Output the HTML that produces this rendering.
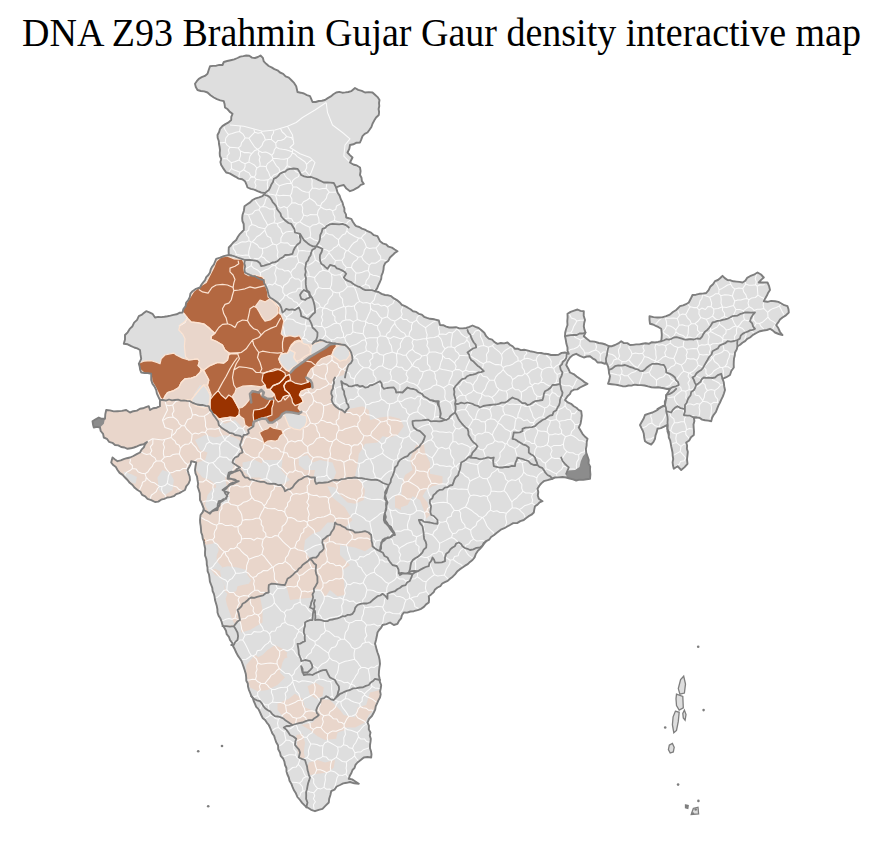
<!DOCTYPE html>
<html><head><meta charset="utf-8"><title>DNA Z93 Brahmin Gujar Gaur density interactive map</title>
<style>
html,body{margin:0;padding:0;background:#fff;}
body{width:884px;height:841px;position:relative;overflow:hidden;font-family:"Liberation Serif",serif;}
#t{position:absolute;left:0;top:11px;width:883px;text-align:center;font-size:38px;line-height:44px;color:#000;white-space:nowrap;transform:scaleY(1.03);transform-origin:0 34.5px;}
</style></head><body>
<svg width="884" height="841" viewBox="0 0 884 841" style="position:absolute;left:0;top:0"><defs><clipPath id="c"><path d="M195.0,83.8 196.8,81.2 198.8,78.8 201.7,77.2 204.9,75.9 207.5,73.8 208.7,70.0 210.0,66.2 213.1,65.9 216.3,65.7 219.3,64.9 222.5,65.0 223.8,62.0 227.2,61.0 230.7,60.2 234.2,59.4 237.5,58.0 240.3,56.6 243.3,56.1 246.2,55.5 249.3,55.8 252.0,57.6 255.0,58.0 257.9,57.0 260.5,55.5 262.9,57.9 263.8,61.4 266.2,63.8 268.7,66.0 271.6,67.4 274.4,69.1 277.5,70.3 280.0,72.5 283.2,73.8 285.6,76.3 288.8,77.6 291.2,80.0 294.1,82.9 296.2,86.2 297.5,92.0 300.7,92.7 304.0,93.5 306.9,95.1 310.0,96.2 311.3,99.1 312.5,102.0 315.7,102.0 318.8,101.0 321.9,100.7 325.0,100.0 327.8,98.1 330.8,96.4 333.4,94.3 336.2,92.5 339.2,91.9 342.3,92.7 345.3,92.4 348.3,92.0 351.2,91.2 355.0,88.0 358.2,89.8 361.8,90.8 365.0,92.5 368.8,92.1 372.5,92.5 375.0,94.8 377.6,97.1 379.5,100.0 379.0,103.0 379.3,106.0 378.6,109.0 379.1,112.0 378.8,115.0 376.1,117.5 374.2,120.6 372.5,123.8 371.4,127.0 369.5,129.8 367.5,132.5 364.7,133.9 362.5,136.2 361.3,139.4 360.0,142.5 356.5,142.7 353.4,144.3 350.0,145.0 349.3,148.9 347.5,152.5 349.9,155.1 352.5,157.5 350.0,162.5 353.2,164.5 356.8,165.5 360.0,167.5 360.6,171.2 360.0,175.0 361.5,177.8 361.9,181.1 363.8,183.8 360.8,184.9 358.5,187.2 355.7,188.6 353.0,190.2 350.0,191.2 346.4,188.6 343.8,185.0 339.9,185.9 336.2,187.5 337.5,192.5 339.6,195.6 340.8,199.2 342.5,202.5 343.3,205.5 344.4,208.4 344.4,211.6 346.0,214.4 346.2,217.5 351.2,218.8 353.0,222.0 355.0,225.0 356.2,226.2 359.3,227.0 361.9,228.6 364.9,229.6 367.5,231.2 371.0,232.6 373.9,235.2 377.5,236.2 380.0,241.2 382.7,243.3 386.0,244.3 388.5,246.7 391.9,247.6 394.7,249.5 397.5,251.2 394.7,253.0 392.4,255.3 390.0,257.5 388.4,260.7 385.3,262.9 383.8,266.2 383.5,269.5 382.8,272.6 381.5,275.6 381.2,278.8 379.9,282.0 378.4,285.1 377.1,288.4 375.0,291.2 378.5,292.0 381.6,293.9 385.0,295.0 388.2,295.3 391.2,296.2 393.9,298.4 396.9,300.1 399.5,302.2 401.9,304.8 405.0,306.2 407.8,307.7 410.5,309.3 413.0,311.2 416.2,311.9 418.8,313.8 421.8,314.6 424.1,316.8 427.0,317.9 430.0,318.8 434.4,319.3 438.8,320.5 440.0,325.0 443.2,325.2 446.2,326.6 449.3,327.5 452.5,327.5 456.0,327.2 459.4,328.4 462.8,328.4 466.2,328.0 469.4,326.9 472.5,325.5 475.5,326.9 478.6,328.0 481.2,330.0 484.3,332.7 486.2,336.2 488.7,338.7 492.1,339.7 494.5,342.1 497.5,343.8 500.8,343.0 504.2,343.4 507.5,342.5 509.9,344.7 512.7,346.4 515.0,348.8 518.1,348.8 520.9,350.1 524.1,349.7 527.1,350.4 530.0,351.2 533.7,351.9 537.4,352.9 541.2,353.0 544.5,353.8 547.8,354.0 551.0,355.0 555.0,355.0 558.5,354.7 561.6,352.9 565.0,352.5 568.8,353.8 567.5,350.8 567.5,347.5 566.4,343.8 565.8,340.0 565.0,336.2 565.2,332.4 566.2,328.7 567.5,325.0 567.3,321.2 567.6,317.5 567.5,313.8 570.6,311.9 574.1,310.7 577.5,309.5 580.5,310.9 583.8,311.2 583.7,315.7 585.0,320.0 584.2,323.1 583.8,326.2 584.4,329.4 585.5,332.5 583.8,336.2 586.8,338.8 590.0,341.2 594.5,341.6 598.8,343.0 602.3,343.5 605.6,344.5 608.8,346.2 612.0,346.2 615.0,345.0 618.3,343.4 621.2,341.2 623.9,343.1 627.3,343.1 630.0,345.0 633.1,344.9 636.2,344.4 639.4,344.4 642.5,343.8 645.6,343.2 648.8,343.8 651.8,342.2 655.0,342.5 658.1,341.9 661.2,341.2 661.2,341.2 661.6,338.1 661.8,335.0 661.6,331.9 661.2,328.8 658.6,327.2 655.8,325.9 653.0,324.5 650.0,323.8 649.5,320.0 649.5,316.2 653.5,317.1 657.5,317.5 662.0,317.4 666.2,316.2 669.9,314.6 672.9,312.0 676.2,310.0 680.0,306.2 683.1,305.4 686.0,304.2 688.8,302.5 690.7,298.8 692.5,295.0 696.0,294.7 699.4,293.8 702.8,293.6 706.2,293.0 708.6,290.2 710.2,286.8 713.0,284.3 715.0,281.2 717.9,280.0 720.3,278.0 722.5,275.8 724.8,278.1 727.5,280.0 730.5,280.3 733.4,281.3 736.5,281.6 739.5,281.9 742.5,282.5 745.3,280.8 747.1,277.9 750.0,276.2 753.9,274.7 757.5,272.5 761.0,274.5 763.8,277.5 761.1,279.9 758.8,282.5 763.1,282.5 767.5,282.5 769.1,286.1 770.0,290.0 768.2,292.7 766.9,295.6 765.2,298.4 763.8,301.2 767.5,301.8 771.2,300.9 775.0,301.2 778.4,301.9 781.4,303.5 784.3,305.2 787.5,306.2 788.5,309.3 788.8,312.5 785.9,315.4 782.5,317.5 780.0,319.6 778.2,322.4 776.2,325.0 778.4,328.3 780.0,332.0 782.5,335.0 778.7,334.0 775.0,332.5 772.6,330.4 770.0,328.8 766.8,330.0 763.4,330.5 760.0,331.2 756.4,333.0 753.0,334.9 750.0,337.5 747.2,338.8 745.1,341.1 742.4,342.7 740.1,344.7 737.5,346.2 736.7,349.6 735.0,352.5 734.8,355.5 734.0,358.5 733.8,361.5 733.7,364.5 733.8,367.5 731.3,371.0 730.0,375.0 726.4,377.2 722.5,378.8 723.8,382.4 724.2,386.2 725.0,390.0 724.0,393.2 722.9,396.4 721.4,399.4 720.0,402.5 718.4,405.6 717.1,408.8 715.9,412.0 713.7,414.8 712.1,417.8 711.2,421.2 708.2,420.6 705.1,420.3 702.1,419.6 699.4,417.7 696.2,417.5 693.8,417.5 694.4,421.0 693.5,424.5 693.7,428.0 694.0,431.5 693.8,435.0 691.0,437.2 689.2,440.5 686.2,442.5 687.1,445.6 686.9,448.7 687.8,451.8 687.5,455.0 687.0,459.4 687.5,463.8 684.6,467.1 681.2,470.0 677.5,466.2 673.8,468.8 673.0,465.5 672.6,462.3 673.2,459.0 672.7,455.8 672.5,452.5 671.9,449.5 671.2,446.4 670.7,443.4 670.1,440.3 668.8,437.5 668.6,434.3 667.5,431.3 667.4,428.1 667.0,425.0 664.0,426.7 660.9,428.1 657.5,428.8 656.7,432.1 655.5,435.3 655.0,438.8 653.5,441.9 651.2,444.5 648.0,443.2 645.0,441.2 644.2,437.5 643.8,433.8 642.8,430.7 641.3,427.9 640.0,425.0 641.8,421.7 643.7,418.5 645.0,415.0 648.7,413.6 652.5,412.5 655.2,411.2 657.8,409.6 660.0,407.5 665.0,405.0 664.8,401.6 666.4,398.4 666.2,395.0 668.4,392.0 670.0,388.8 667.0,389.0 664.0,388.3 661.0,387.8 658.0,387.2 655.0,387.5 651.5,387.2 648.0,386.4 644.6,385.5 641.1,385.1 637.5,385.0 634.4,384.6 631.5,385.6 628.5,385.5 625.5,386.4 622.5,386.2 618.9,385.3 615.3,384.6 611.7,384.2 608.0,383.8 609.3,380.1 610.0,376.2 609.0,373.2 608.8,370.0 608.0,366.1 606.2,362.5 605.0,363.8 601.4,362.5 597.5,362.5 595.4,359.9 592.5,358.3 590.0,356.2 586.8,356.5 583.8,357.5 579.9,355.8 576.2,353.8 572.8,355.1 570.0,357.5 567.7,361.0 566.2,365.0 568.3,368.7 570.0,372.5 573.6,374.1 576.7,376.6 580.0,378.8 582.5,380.5 584.8,382.4 587.5,383.8 583.8,385.6 580.0,387.5 577.3,389.4 574.0,389.6 571.2,391.2 569.9,394.1 567.5,396.2 565.0,400.0 567.7,402.4 571.1,403.8 573.8,406.2 576.4,407.7 578.5,409.9 581.2,411.2 581.8,415.6 581.2,420.0 580.5,423.9 578.8,427.5 580.6,430.6 582.5,433.8 584.8,436.5 587.5,438.8 586.7,442.1 586.6,445.6 585.9,449.0 586.2,452.5 587.5,456.2 588.8,460.0 588.5,463.4 590.2,466.6 590.0,470.0 590.4,474.4 590.0,478.8 586.6,479.2 583.2,479.9 579.6,479.7 576.2,480.5 573.0,479.3 569.6,478.5 566.2,477.5 562.5,477.0 558.8,477.4 555.0,477.5 551.3,479.0 547.6,480.2 543.8,481.2 541.3,483.4 539.2,485.9 537.5,488.8 538.3,492.0 537.8,495.5 538.8,498.8 542.5,501.2 539.6,502.4 537.5,504.6 535.0,506.2 534.3,509.4 533.8,512.5 531.5,514.7 528.7,516.2 526.2,518.1 523.8,520.0 520.3,521.1 517.1,523.1 513.2,523.1 510.0,525.0 507.2,526.5 504.4,528.2 501.4,529.3 498.8,531.2 496.2,533.2 493.8,535.3 491.1,537.0 489.1,539.7 486.2,541.2 484.1,543.7 482.2,546.3 480.0,548.8 477.6,551.2 475.8,554.0 474.6,557.4 472.5,560.0 470.0,561.9 467.8,564.2 465.1,565.7 462.5,567.5 459.7,569.4 457.1,571.6 455.0,574.3 452.7,576.7 450.0,578.8 447.7,580.9 444.9,582.1 442.2,583.5 440.3,586.2 437.5,587.5 435.0,589.4 433.6,592.3 431.2,594.4 428.8,596.2 429.1,599.4 428.8,602.5 426.1,604.4 423.9,606.9 421.2,608.8 417.6,610.2 413.8,611.2 410.4,611.5 407.2,612.6 403.8,612.5 401.9,615.2 401.1,618.4 399.0,620.9 397.5,623.8 393.8,625.0 390.0,622.5 386.4,624.1 382.5,625.0 381.2,627.7 379.1,630.0 377.5,632.5 376.8,636.3 376.0,640.0 375.0,643.8 375.9,646.6 376.6,649.6 377.5,652.5 378.8,656.1 379.6,659.9 380.0,663.8 379.4,667.5 379.0,671.2 378.8,675.0 379.5,678.3 379.9,681.8 381.2,685.0 380.8,688.1 380.1,691.2 380.7,694.4 380.0,697.5 378.4,700.4 377.1,703.3 375.7,706.3 375.2,709.6 373.8,712.5 371.9,716.0 369.1,718.9 367.5,722.5 368.9,725.7 368.8,729.4 370.5,732.5 369.8,735.6 370.8,738.8 370.5,741.9 370.0,745.0 370.0,748.2 371.0,751.2 371.5,754.3 371.2,757.5 367.5,757.0 363.8,757.5 360.7,760.1 357.5,762.5 355.5,764.8 354.6,767.8 352.5,770.0 351.4,773.0 349.8,775.7 348.8,778.8 352.1,779.4 355.0,781.2 358.8,783.8 354.3,783.3 350.0,782.0 346.6,782.8 343.2,783.4 340.0,785.0 336.7,786.5 334.5,789.6 331.2,791.2 330.4,795.0 329.2,798.7 328.8,802.5 325.6,805.6 322.5,808.8 318.7,809.8 315.0,811.2 311.1,809.8 307.5,807.5 304.6,805.4 302.1,802.9 300.0,800.0 297.4,797.0 295.9,793.3 293.8,790.0 292.5,786.9 291.3,783.7 289.5,780.8 288.8,777.5 287.4,774.5 286.5,771.4 286.4,768.0 285.0,765.0 284.4,761.6 283.1,758.5 280.7,755.8 280.0,752.5 278.2,749.3 278.1,745.4 276.2,742.2 275.0,738.8 274.1,735.8 272.3,733.4 271.2,730.5 270.0,727.7 268.8,725.0 266.8,722.6 265.1,719.9 262.6,717.9 261.2,715.0 259.9,712.1 258.5,709.1 256.2,706.8 255.0,703.8 253.7,701.0 252.8,698.0 251.1,695.4 250.0,692.5 248.8,689.6 248.0,686.6 247.8,683.5 246.3,680.7 246.2,677.5 245.8,673.9 244.8,670.5 243.7,667.1 242.5,663.8 241.4,660.7 239.5,658.0 237.7,655.4 236.2,652.5 234.8,649.3 233.1,646.2 232.2,642.8 230.0,640.0 228.9,636.8 226.7,634.2 226.0,630.7 224.3,627.8 222.5,625.0 221.6,621.7 220.4,618.6 218.6,615.7 217.5,612.5 217.4,609.3 216.8,606.1 215.9,603.1 215.0,600.0 214.6,596.9 213.9,593.9 212.6,591.0 212.3,587.9 211.2,585.0 209.9,581.6 209.5,578.0 209.0,574.5 207.6,571.1 207.5,567.5 206.8,564.5 206.7,561.5 206.2,558.5 205.1,555.6 205.0,552.5 205.2,548.7 204.4,545.0 203.8,541.2 202.7,538.4 202.3,535.4 201.2,532.5 201.0,529.4 200.7,526.2 200.2,523.1 200.0,520.0 200.5,515.0 202.7,512.2 203.8,508.8 202.7,505.8 201.5,502.8 200.0,500.0 199.9,496.6 199.8,493.2 198.8,490.0 197.7,486.7 198.1,483.3 197.5,480.0 197.0,476.6 195.5,473.4 195.0,470.0 195.5,466.2 196.2,462.5 191.2,461.2 190.6,464.4 189.1,467.3 187.5,470.0 188.5,473.3 189.7,476.5 190.0,480.0 188.6,483.5 186.2,486.4 185.0,490.0 182.2,491.5 179.4,493.1 176.2,494.1 173.8,496.2 170.6,497.1 167.3,497.5 164.3,498.9 161.1,499.7 158.3,501.6 155.0,502.0 151.3,500.2 147.5,498.8 145.2,496.3 142.1,494.9 140.4,491.7 137.5,490.0 134.7,487.8 132.5,485.0 129.7,482.8 127.5,480.0 125.0,477.5 122.6,474.9 119.6,472.9 117.5,470.0 115.9,467.1 113.2,465.1 111.2,462.5 112.5,457.5 115.0,459.4 117.5,461.2 120.7,460.4 123.7,459.2 126.8,458.2 130.0,457.5 133.4,456.0 136.7,454.2 140.0,452.5 141.5,449.7 143.8,447.4 145.0,444.5 147.0,442.0 143.8,444.1 140.0,445.0 137.0,446.3 133.9,447.5 130.8,448.3 127.5,448.8 124.5,447.5 121.2,447.0 118.3,445.4 115.0,445.0 112.4,442.8 109.0,441.8 106.9,438.8 103.8,437.5 103.1,433.9 100.7,431.0 100.0,427.5 96.9,426.9 93.8,427.5 93.0,424.4 92.5,421.2 95.6,419.3 98.8,417.5 101.7,418.8 105.0,418.8 105.3,414.3 106.2,410.0 110.0,410.4 113.7,411.4 117.5,411.2 121.9,410.9 126.2,410.0 130.0,412.5 133.3,411.2 136.9,410.6 140.0,408.8 143.0,408.3 145.9,407.2 148.8,406.2 150.0,410.0 153.1,408.2 156.7,407.7 160.0,406.2 159.9,403.1 160.0,400.0 158.4,396.8 156.9,393.6 156.2,390.0 154.6,386.6 152.4,383.6 151.2,380.0 151.2,376.9 151.2,373.8 147.9,373.1 144.6,373.0 141.2,372.5 140.1,369.7 139.7,366.6 138.8,363.8 141.2,358.8 140.5,354.4 140.0,350.0 137.2,348.4 134.2,347.5 131.2,346.2 127.7,344.3 123.8,343.8 125.0,339.5 125.0,335.0 127.7,332.3 129.7,328.9 132.5,326.2 134.1,322.6 137.1,319.9 138.8,316.2 141.5,314.9 143.8,313.1 146.2,311.2 149.4,312.3 152.5,313.8 155.0,317.5 158.1,316.9 161.3,317.1 164.4,316.7 167.5,316.2 170.5,315.6 173.5,314.9 176.6,314.3 179.4,312.8 182.5,312.5 183.4,309.0 185.6,306.1 186.2,302.5 188.3,300.0 189.8,297.1 190.4,293.7 192.5,291.2 196.0,288.8 200.0,287.5 201.4,284.8 203.2,282.4 205.1,280.1 206.2,277.2 208.4,275.0 210.0,272.5 210.7,269.5 212.0,266.8 214.0,264.4 215.1,261.5 216.2,258.8 220.1,257.7 223.8,256.2 228.8,255.0 228.6,251.2 228.8,247.5 231.2,245.0 233.5,242.2 236.2,240.0 237.9,236.8 240.0,233.8 243.8,230.0 243.8,227.0 243.7,224.0 242.4,221.0 242.2,218.0 242.5,215.0 243.9,210.7 244.5,206.2 247.3,204.3 250.1,202.4 252.5,200.0 255.7,198.4 259.1,197.4 262.5,196.2 265.0,193.0 261.2,192.5 257.5,191.2 254.3,189.6 250.8,188.9 247.5,187.5 246.4,184.3 245.0,181.2 242.2,179.2 238.6,178.6 235.7,176.8 232.6,175.1 229.6,173.4 226.2,172.5 224.5,170.1 222.8,167.6 221.2,165.0 220.4,162.0 221.3,159.0 219.9,156.0 219.7,153.0 220.0,150.0 219.6,147.0 219.0,144.0 218.8,141.0 217.7,138.0 217.5,135.0 219.1,132.0 220.0,128.8 222.4,126.1 225.4,124.1 228.6,122.4 231.2,120.0 231.3,116.8 232.5,113.8 229.8,111.9 227.7,109.3 225.0,107.5 224.6,104.3 223.8,101.2 220.3,100.3 216.9,99.2 213.8,97.5 210.5,95.2 207.5,92.5 204.2,91.4 200.8,91.0 197.5,90.0 195.8,87.1Z"/></clipPath></defs><path d="M195.0,83.8 196.8,81.2 198.8,78.8 201.7,77.2 204.9,75.9 207.5,73.8 208.7,70.0 210.0,66.2 213.1,65.9 216.3,65.7 219.3,64.9 222.5,65.0 223.8,62.0 227.2,61.0 230.7,60.2 234.2,59.4 237.5,58.0 240.3,56.6 243.3,56.1 246.2,55.5 249.3,55.8 252.0,57.6 255.0,58.0 257.9,57.0 260.5,55.5 262.9,57.9 263.8,61.4 266.2,63.8 268.7,66.0 271.6,67.4 274.4,69.1 277.5,70.3 280.0,72.5 283.2,73.8 285.6,76.3 288.8,77.6 291.2,80.0 294.1,82.9 296.2,86.2 297.5,92.0 300.7,92.7 304.0,93.5 306.9,95.1 310.0,96.2 311.3,99.1 312.5,102.0 315.7,102.0 318.8,101.0 321.9,100.7 325.0,100.0 327.8,98.1 330.8,96.4 333.4,94.3 336.2,92.5 339.2,91.9 342.3,92.7 345.3,92.4 348.3,92.0 351.2,91.2 355.0,88.0 358.2,89.8 361.8,90.8 365.0,92.5 368.8,92.1 372.5,92.5 375.0,94.8 377.6,97.1 379.5,100.0 379.0,103.0 379.3,106.0 378.6,109.0 379.1,112.0 378.8,115.0 376.1,117.5 374.2,120.6 372.5,123.8 371.4,127.0 369.5,129.8 367.5,132.5 364.7,133.9 362.5,136.2 361.3,139.4 360.0,142.5 356.5,142.7 353.4,144.3 350.0,145.0 349.3,148.9 347.5,152.5 349.9,155.1 352.5,157.5 350.0,162.5 353.2,164.5 356.8,165.5 360.0,167.5 360.6,171.2 360.0,175.0 361.5,177.8 361.9,181.1 363.8,183.8 360.8,184.9 358.5,187.2 355.7,188.6 353.0,190.2 350.0,191.2 346.4,188.6 343.8,185.0 339.9,185.9 336.2,187.5 337.5,192.5 339.6,195.6 340.8,199.2 342.5,202.5 343.3,205.5 344.4,208.4 344.4,211.6 346.0,214.4 346.2,217.5 351.2,218.8 353.0,222.0 355.0,225.0 356.2,226.2 359.3,227.0 361.9,228.6 364.9,229.6 367.5,231.2 371.0,232.6 373.9,235.2 377.5,236.2 380.0,241.2 382.7,243.3 386.0,244.3 388.5,246.7 391.9,247.6 394.7,249.5 397.5,251.2 394.7,253.0 392.4,255.3 390.0,257.5 388.4,260.7 385.3,262.9 383.8,266.2 383.5,269.5 382.8,272.6 381.5,275.6 381.2,278.8 379.9,282.0 378.4,285.1 377.1,288.4 375.0,291.2 378.5,292.0 381.6,293.9 385.0,295.0 388.2,295.3 391.2,296.2 393.9,298.4 396.9,300.1 399.5,302.2 401.9,304.8 405.0,306.2 407.8,307.7 410.5,309.3 413.0,311.2 416.2,311.9 418.8,313.8 421.8,314.6 424.1,316.8 427.0,317.9 430.0,318.8 434.4,319.3 438.8,320.5 440.0,325.0 443.2,325.2 446.2,326.6 449.3,327.5 452.5,327.5 456.0,327.2 459.4,328.4 462.8,328.4 466.2,328.0 469.4,326.9 472.5,325.5 475.5,326.9 478.6,328.0 481.2,330.0 484.3,332.7 486.2,336.2 488.7,338.7 492.1,339.7 494.5,342.1 497.5,343.8 500.8,343.0 504.2,343.4 507.5,342.5 509.9,344.7 512.7,346.4 515.0,348.8 518.1,348.8 520.9,350.1 524.1,349.7 527.1,350.4 530.0,351.2 533.7,351.9 537.4,352.9 541.2,353.0 544.5,353.8 547.8,354.0 551.0,355.0 555.0,355.0 558.5,354.7 561.6,352.9 565.0,352.5 568.8,353.8 567.5,350.8 567.5,347.5 566.4,343.8 565.8,340.0 565.0,336.2 565.2,332.4 566.2,328.7 567.5,325.0 567.3,321.2 567.6,317.5 567.5,313.8 570.6,311.9 574.1,310.7 577.5,309.5 580.5,310.9 583.8,311.2 583.7,315.7 585.0,320.0 584.2,323.1 583.8,326.2 584.4,329.4 585.5,332.5 583.8,336.2 586.8,338.8 590.0,341.2 594.5,341.6 598.8,343.0 602.3,343.5 605.6,344.5 608.8,346.2 612.0,346.2 615.0,345.0 618.3,343.4 621.2,341.2 623.9,343.1 627.3,343.1 630.0,345.0 633.1,344.9 636.2,344.4 639.4,344.4 642.5,343.8 645.6,343.2 648.8,343.8 651.8,342.2 655.0,342.5 658.1,341.9 661.2,341.2 661.2,341.2 661.6,338.1 661.8,335.0 661.6,331.9 661.2,328.8 658.6,327.2 655.8,325.9 653.0,324.5 650.0,323.8 649.5,320.0 649.5,316.2 653.5,317.1 657.5,317.5 662.0,317.4 666.2,316.2 669.9,314.6 672.9,312.0 676.2,310.0 680.0,306.2 683.1,305.4 686.0,304.2 688.8,302.5 690.7,298.8 692.5,295.0 696.0,294.7 699.4,293.8 702.8,293.6 706.2,293.0 708.6,290.2 710.2,286.8 713.0,284.3 715.0,281.2 717.9,280.0 720.3,278.0 722.5,275.8 724.8,278.1 727.5,280.0 730.5,280.3 733.4,281.3 736.5,281.6 739.5,281.9 742.5,282.5 745.3,280.8 747.1,277.9 750.0,276.2 753.9,274.7 757.5,272.5 761.0,274.5 763.8,277.5 761.1,279.9 758.8,282.5 763.1,282.5 767.5,282.5 769.1,286.1 770.0,290.0 768.2,292.7 766.9,295.6 765.2,298.4 763.8,301.2 767.5,301.8 771.2,300.9 775.0,301.2 778.4,301.9 781.4,303.5 784.3,305.2 787.5,306.2 788.5,309.3 788.8,312.5 785.9,315.4 782.5,317.5 780.0,319.6 778.2,322.4 776.2,325.0 778.4,328.3 780.0,332.0 782.5,335.0 778.7,334.0 775.0,332.5 772.6,330.4 770.0,328.8 766.8,330.0 763.4,330.5 760.0,331.2 756.4,333.0 753.0,334.9 750.0,337.5 747.2,338.8 745.1,341.1 742.4,342.7 740.1,344.7 737.5,346.2 736.7,349.6 735.0,352.5 734.8,355.5 734.0,358.5 733.8,361.5 733.7,364.5 733.8,367.5 731.3,371.0 730.0,375.0 726.4,377.2 722.5,378.8 723.8,382.4 724.2,386.2 725.0,390.0 724.0,393.2 722.9,396.4 721.4,399.4 720.0,402.5 718.4,405.6 717.1,408.8 715.9,412.0 713.7,414.8 712.1,417.8 711.2,421.2 708.2,420.6 705.1,420.3 702.1,419.6 699.4,417.7 696.2,417.5 693.8,417.5 694.4,421.0 693.5,424.5 693.7,428.0 694.0,431.5 693.8,435.0 691.0,437.2 689.2,440.5 686.2,442.5 687.1,445.6 686.9,448.7 687.8,451.8 687.5,455.0 687.0,459.4 687.5,463.8 684.6,467.1 681.2,470.0 677.5,466.2 673.8,468.8 673.0,465.5 672.6,462.3 673.2,459.0 672.7,455.8 672.5,452.5 671.9,449.5 671.2,446.4 670.7,443.4 670.1,440.3 668.8,437.5 668.6,434.3 667.5,431.3 667.4,428.1 667.0,425.0 664.0,426.7 660.9,428.1 657.5,428.8 656.7,432.1 655.5,435.3 655.0,438.8 653.5,441.9 651.2,444.5 648.0,443.2 645.0,441.2 644.2,437.5 643.8,433.8 642.8,430.7 641.3,427.9 640.0,425.0 641.8,421.7 643.7,418.5 645.0,415.0 648.7,413.6 652.5,412.5 655.2,411.2 657.8,409.6 660.0,407.5 665.0,405.0 664.8,401.6 666.4,398.4 666.2,395.0 668.4,392.0 670.0,388.8 667.0,389.0 664.0,388.3 661.0,387.8 658.0,387.2 655.0,387.5 651.5,387.2 648.0,386.4 644.6,385.5 641.1,385.1 637.5,385.0 634.4,384.6 631.5,385.6 628.5,385.5 625.5,386.4 622.5,386.2 618.9,385.3 615.3,384.6 611.7,384.2 608.0,383.8 609.3,380.1 610.0,376.2 609.0,373.2 608.8,370.0 608.0,366.1 606.2,362.5 605.0,363.8 601.4,362.5 597.5,362.5 595.4,359.9 592.5,358.3 590.0,356.2 586.8,356.5 583.8,357.5 579.9,355.8 576.2,353.8 572.8,355.1 570.0,357.5 567.7,361.0 566.2,365.0 568.3,368.7 570.0,372.5 573.6,374.1 576.7,376.6 580.0,378.8 582.5,380.5 584.8,382.4 587.5,383.8 583.8,385.6 580.0,387.5 577.3,389.4 574.0,389.6 571.2,391.2 569.9,394.1 567.5,396.2 565.0,400.0 567.7,402.4 571.1,403.8 573.8,406.2 576.4,407.7 578.5,409.9 581.2,411.2 581.8,415.6 581.2,420.0 580.5,423.9 578.8,427.5 580.6,430.6 582.5,433.8 584.8,436.5 587.5,438.8 586.7,442.1 586.6,445.6 585.9,449.0 586.2,452.5 587.5,456.2 588.8,460.0 588.5,463.4 590.2,466.6 590.0,470.0 590.4,474.4 590.0,478.8 586.6,479.2 583.2,479.9 579.6,479.7 576.2,480.5 573.0,479.3 569.6,478.5 566.2,477.5 562.5,477.0 558.8,477.4 555.0,477.5 551.3,479.0 547.6,480.2 543.8,481.2 541.3,483.4 539.2,485.9 537.5,488.8 538.3,492.0 537.8,495.5 538.8,498.8 542.5,501.2 539.6,502.4 537.5,504.6 535.0,506.2 534.3,509.4 533.8,512.5 531.5,514.7 528.7,516.2 526.2,518.1 523.8,520.0 520.3,521.1 517.1,523.1 513.2,523.1 510.0,525.0 507.2,526.5 504.4,528.2 501.4,529.3 498.8,531.2 496.2,533.2 493.8,535.3 491.1,537.0 489.1,539.7 486.2,541.2 484.1,543.7 482.2,546.3 480.0,548.8 477.6,551.2 475.8,554.0 474.6,557.4 472.5,560.0 470.0,561.9 467.8,564.2 465.1,565.7 462.5,567.5 459.7,569.4 457.1,571.6 455.0,574.3 452.7,576.7 450.0,578.8 447.7,580.9 444.9,582.1 442.2,583.5 440.3,586.2 437.5,587.5 435.0,589.4 433.6,592.3 431.2,594.4 428.8,596.2 429.1,599.4 428.8,602.5 426.1,604.4 423.9,606.9 421.2,608.8 417.6,610.2 413.8,611.2 410.4,611.5 407.2,612.6 403.8,612.5 401.9,615.2 401.1,618.4 399.0,620.9 397.5,623.8 393.8,625.0 390.0,622.5 386.4,624.1 382.5,625.0 381.2,627.7 379.1,630.0 377.5,632.5 376.8,636.3 376.0,640.0 375.0,643.8 375.9,646.6 376.6,649.6 377.5,652.5 378.8,656.1 379.6,659.9 380.0,663.8 379.4,667.5 379.0,671.2 378.8,675.0 379.5,678.3 379.9,681.8 381.2,685.0 380.8,688.1 380.1,691.2 380.7,694.4 380.0,697.5 378.4,700.4 377.1,703.3 375.7,706.3 375.2,709.6 373.8,712.5 371.9,716.0 369.1,718.9 367.5,722.5 368.9,725.7 368.8,729.4 370.5,732.5 369.8,735.6 370.8,738.8 370.5,741.9 370.0,745.0 370.0,748.2 371.0,751.2 371.5,754.3 371.2,757.5 367.5,757.0 363.8,757.5 360.7,760.1 357.5,762.5 355.5,764.8 354.6,767.8 352.5,770.0 351.4,773.0 349.8,775.7 348.8,778.8 352.1,779.4 355.0,781.2 358.8,783.8 354.3,783.3 350.0,782.0 346.6,782.8 343.2,783.4 340.0,785.0 336.7,786.5 334.5,789.6 331.2,791.2 330.4,795.0 329.2,798.7 328.8,802.5 325.6,805.6 322.5,808.8 318.7,809.8 315.0,811.2 311.1,809.8 307.5,807.5 304.6,805.4 302.1,802.9 300.0,800.0 297.4,797.0 295.9,793.3 293.8,790.0 292.5,786.9 291.3,783.7 289.5,780.8 288.8,777.5 287.4,774.5 286.5,771.4 286.4,768.0 285.0,765.0 284.4,761.6 283.1,758.5 280.7,755.8 280.0,752.5 278.2,749.3 278.1,745.4 276.2,742.2 275.0,738.8 274.1,735.8 272.3,733.4 271.2,730.5 270.0,727.7 268.8,725.0 266.8,722.6 265.1,719.9 262.6,717.9 261.2,715.0 259.9,712.1 258.5,709.1 256.2,706.8 255.0,703.8 253.7,701.0 252.8,698.0 251.1,695.4 250.0,692.5 248.8,689.6 248.0,686.6 247.8,683.5 246.3,680.7 246.2,677.5 245.8,673.9 244.8,670.5 243.7,667.1 242.5,663.8 241.4,660.7 239.5,658.0 237.7,655.4 236.2,652.5 234.8,649.3 233.1,646.2 232.2,642.8 230.0,640.0 228.9,636.8 226.7,634.2 226.0,630.7 224.3,627.8 222.5,625.0 221.6,621.7 220.4,618.6 218.6,615.7 217.5,612.5 217.4,609.3 216.8,606.1 215.9,603.1 215.0,600.0 214.6,596.9 213.9,593.9 212.6,591.0 212.3,587.9 211.2,585.0 209.9,581.6 209.5,578.0 209.0,574.5 207.6,571.1 207.5,567.5 206.8,564.5 206.7,561.5 206.2,558.5 205.1,555.6 205.0,552.5 205.2,548.7 204.4,545.0 203.8,541.2 202.7,538.4 202.3,535.4 201.2,532.5 201.0,529.4 200.7,526.2 200.2,523.1 200.0,520.0 200.5,515.0 202.7,512.2 203.8,508.8 202.7,505.8 201.5,502.8 200.0,500.0 199.9,496.6 199.8,493.2 198.8,490.0 197.7,486.7 198.1,483.3 197.5,480.0 197.0,476.6 195.5,473.4 195.0,470.0 195.5,466.2 196.2,462.5 191.2,461.2 190.6,464.4 189.1,467.3 187.5,470.0 188.5,473.3 189.7,476.5 190.0,480.0 188.6,483.5 186.2,486.4 185.0,490.0 182.2,491.5 179.4,493.1 176.2,494.1 173.8,496.2 170.6,497.1 167.3,497.5 164.3,498.9 161.1,499.7 158.3,501.6 155.0,502.0 151.3,500.2 147.5,498.8 145.2,496.3 142.1,494.9 140.4,491.7 137.5,490.0 134.7,487.8 132.5,485.0 129.7,482.8 127.5,480.0 125.0,477.5 122.6,474.9 119.6,472.9 117.5,470.0 115.9,467.1 113.2,465.1 111.2,462.5 112.5,457.5 115.0,459.4 117.5,461.2 120.7,460.4 123.7,459.2 126.8,458.2 130.0,457.5 133.4,456.0 136.7,454.2 140.0,452.5 141.5,449.7 143.8,447.4 145.0,444.5 147.0,442.0 143.8,444.1 140.0,445.0 137.0,446.3 133.9,447.5 130.8,448.3 127.5,448.8 124.5,447.5 121.2,447.0 118.3,445.4 115.0,445.0 112.4,442.8 109.0,441.8 106.9,438.8 103.8,437.5 103.1,433.9 100.7,431.0 100.0,427.5 96.9,426.9 93.8,427.5 93.0,424.4 92.5,421.2 95.6,419.3 98.8,417.5 101.7,418.8 105.0,418.8 105.3,414.3 106.2,410.0 110.0,410.4 113.7,411.4 117.5,411.2 121.9,410.9 126.2,410.0 130.0,412.5 133.3,411.2 136.9,410.6 140.0,408.8 143.0,408.3 145.9,407.2 148.8,406.2 150.0,410.0 153.1,408.2 156.7,407.7 160.0,406.2 159.9,403.1 160.0,400.0 158.4,396.8 156.9,393.6 156.2,390.0 154.6,386.6 152.4,383.6 151.2,380.0 151.2,376.9 151.2,373.8 147.9,373.1 144.6,373.0 141.2,372.5 140.1,369.7 139.7,366.6 138.8,363.8 141.2,358.8 140.5,354.4 140.0,350.0 137.2,348.4 134.2,347.5 131.2,346.2 127.7,344.3 123.8,343.8 125.0,339.5 125.0,335.0 127.7,332.3 129.7,328.9 132.5,326.2 134.1,322.6 137.1,319.9 138.8,316.2 141.5,314.9 143.8,313.1 146.2,311.2 149.4,312.3 152.5,313.8 155.0,317.5 158.1,316.9 161.3,317.1 164.4,316.7 167.5,316.2 170.5,315.6 173.5,314.9 176.6,314.3 179.4,312.8 182.5,312.5 183.4,309.0 185.6,306.1 186.2,302.5 188.3,300.0 189.8,297.1 190.4,293.7 192.5,291.2 196.0,288.8 200.0,287.5 201.4,284.8 203.2,282.4 205.1,280.1 206.2,277.2 208.4,275.0 210.0,272.5 210.7,269.5 212.0,266.8 214.0,264.4 215.1,261.5 216.2,258.8 220.1,257.7 223.8,256.2 228.8,255.0 228.6,251.2 228.8,247.5 231.2,245.0 233.5,242.2 236.2,240.0 237.9,236.8 240.0,233.8 243.8,230.0 243.8,227.0 243.7,224.0 242.4,221.0 242.2,218.0 242.5,215.0 243.9,210.7 244.5,206.2 247.3,204.3 250.1,202.4 252.5,200.0 255.7,198.4 259.1,197.4 262.5,196.2 265.0,193.0 261.2,192.5 257.5,191.2 254.3,189.6 250.8,188.9 247.5,187.5 246.4,184.3 245.0,181.2 242.2,179.2 238.6,178.6 235.7,176.8 232.6,175.1 229.6,173.4 226.2,172.5 224.5,170.1 222.8,167.6 221.2,165.0 220.4,162.0 221.3,159.0 219.9,156.0 219.7,153.0 220.0,150.0 219.6,147.0 219.0,144.0 218.8,141.0 217.7,138.0 217.5,135.0 219.1,132.0 220.0,128.8 222.4,126.1 225.4,124.1 228.6,122.4 231.2,120.0 231.3,116.8 232.5,113.8 229.8,111.9 227.7,109.3 225.0,107.5 224.6,104.3 223.8,101.2 220.3,100.3 216.9,99.2 213.8,97.5 210.5,95.2 207.5,92.5 204.2,91.4 200.8,91.0 197.5,90.0 195.8,87.1Z" fill="#dedede"/><g clip-path="url(#c)"><path d="M222.5,626.2 233.8,626.2 240.0,620.0 241.2,632.5 250.0,630.0 262.5,622.5 262.5,610.0 260.0,596.2 268.8,592.5 268.8,585.0 275.0,583.8 285.0,585.0 287.5,590.0 290.0,600.0 300.0,598.8 312.5,597.5 313.8,588.8 320.0,590.0 325.0,597.5 330.0,590.0 337.5,596.2 345.0,595.0 343.8,577.5 342.5,570.0 350.0,565.0 340.0,555.0 340.0,545.0 355.0,547.5 365.0,551.2 372.5,546.2 371.2,535.0 365.0,531.2 355.0,532.5 345.0,527.5 352.5,520.0 345.0,507.5 332.5,497.5 327.5,486.2 335.0,487.5 340.0,495.0 347.5,502.5 355.0,503.8 363.8,500.0 365.0,490.0 360.0,480.0 355.0,477.5 355.0,476.2 357.5,465.0 358.8,453.8 362.5,448.8 365.0,443.8 377.5,442.5 382.5,436.2 390.0,437.5 397.5,435.0 403.8,426.2 400.0,418.8 390.0,416.2 380.0,417.5 370.0,420.0 368.8,410.0 362.5,406.2 350.0,408.8 345.0,412.5 338.8,408.8 332.5,402.5 331.2,393.8 333.8,385.0 335.0,377.5 343.8,375.0 346.2,367.5 352.5,357.5 350.0,347.5 340.0,342.5 330.0,342.5 320.0,340.0 312.5,343.8 305.0,343.8 297.5,340.0 288.8,347.5 230.0,395.0 208.8,382.5 206.2,375.0 200.0,371.2 191.2,377.5 181.2,380.0 176.2,388.8 167.5,393.8 163.8,398.8 160.0,400.0 60.0,395.0 60.0,640.0 215.0,640.0Z" fill="#e9d6cb"/><path d="M178.8,330.0 180.0,325.0 183.8,322.5 187.5,318.5 191.2,322.2 197.5,322.9 203.8,324.1 208.8,327.9 211.2,330.4 214.8,333.5 211.2,336.2 211.2,339.4 216.2,341.2 222.5,345.0 225.0,350.0 230.0,353.8 228.8,353.8 227.5,360.0 223.8,363.1 217.5,362.5 210.0,365.6 203.8,370.0 201.2,368.8 198.1,365.6 199.4,361.2 197.5,358.8 193.8,359.4 188.8,360.0 185.6,356.9 185.0,352.5 184.4,346.2 185.0,338.8 182.5,333.8 178.8,330.0Z" fill="#e9d6cb"/><path d="M165.0,396.2 167.5,392.5 173.8,390.6 178.8,387.5 181.2,382.5 185.0,378.8 191.2,378.1 196.2,376.2 200.0,372.5 202.5,370.0 206.2,375.0 208.8,380.0 207.5,385.0 203.8,385.0 200.0,388.8 195.0,395.0 191.2,400.0 185.0,399.4 180.0,400.0 172.5,400.6 166.2,401.2 163.1,400.0Z" fill="#e9d6cb"/><path d="M416.2,445.0 423.8,442.5 425.0,452.5 430.0,462.5 430.0,473.8 442.5,476.2 442.5,483.8 432.5,486.2 426.2,490.0 422.5,496.2 427.5,502.5 430.0,515.0 426.2,518.8 423.8,510.0 420.0,500.0 412.5,496.2 407.5,505.0 400.0,507.5 395.0,502.5 401.2,495.0 402.5,482.5 405.0,475.0 412.5,470.0 410.0,460.0 412.5,452.5Z" fill="#e9d6cb"/><path d="M246.2,665.0 255.0,655.0 267.5,662.5 275.0,647.5 287.5,652.5 282.5,662.5 280.0,672.5 285.0,677.5 277.5,685.0 267.5,690.0 257.5,691.2 250.0,687.5 246.2,675.0Z" fill="#e9d6cb"/><path d="M277.5,703.8 288.8,698.8 295.0,693.8 302.5,698.8 305.0,707.5 315.0,711.2 318.8,715.0 312.5,720.0 302.5,722.5 292.5,725.0 283.8,717.5 277.5,710.0Z" fill="#e9d6cb"/><path d="M307.5,686.2 315.0,682.5 323.8,687.5 322.5,696.2 316.2,698.8 310.0,695.0Z" fill="#e9d6cb"/><path d="M316.2,710.0 321.2,698.8 330.0,700.0 340.0,710.0 343.8,715.0 355.0,717.5 357.5,707.5 366.2,705.0 370.0,692.5 380.0,690.0 380.0,697.5 376.2,707.5 368.8,715.0 365.0,722.5 355.0,727.5 345.0,727.5 345.0,730.0 337.5,732.5 336.2,738.8 325.0,740.0 317.5,736.2 310.0,730.0 301.2,725.0 312.5,722.5 318.8,715.0Z" fill="#e9d6cb"/><path d="M296.2,735.0 302.5,733.8 305.0,742.5 303.8,752.5 305.0,757.5 300.0,758.8 297.5,750.0Z" fill="#e9d6cb"/><path d="M308.8,762.5 317.5,760.0 325.0,762.5 335.0,760.0 333.8,767.5 327.5,772.5 317.5,773.8 310.0,775.0 307.5,767.5Z" fill="#e9d6cb"/><path d="M267.5,650.0 275.0,645.0 285.0,650.0 287.5,657.5 280.0,660.0 272.5,670.0 250.0,670.0 252.5,660.0 262.5,655.0Z" fill="#e9d6cb"/><path d="M395.0,495.0 401.0,495.0 401.0,510.0 395.0,507.5Z" fill="#e9d6cb"/><path d="M181.9,311.2 185.0,305.0 190.0,297.5 193.8,291.2 200.0,286.2 206.2,282.5 210.0,275.0 213.8,267.5 216.2,261.2 221.2,256.9 227.5,256.2 233.8,258.8 242.5,259.4 244.4,263.8 243.8,268.8 245.0,273.8 248.8,275.6 255.0,275.0 262.5,276.9 265.0,280.6 265.6,285.6 267.5,291.2 268.1,296.9 273.8,301.2 278.8,306.9 280.0,307.5 278.8,313.1 281.2,315.0 283.8,321.2 282.5,327.5 281.2,333.8 284.4,336.9 290.0,335.6 295.0,336.9 299.4,335.6 301.2,338.8 302.5,341.9 298.8,340.0 295.0,341.2 291.2,345.0 289.4,348.8 287.5,353.1 281.2,353.8 278.8,358.8 280.0,362.5 282.5,366.2 286.2,370.0 288.8,371.2 290.6,372.5 293.8,368.8 298.8,365.0 305.0,360.6 310.0,356.9 317.5,352.5 325.0,348.1 330.0,344.4 335.0,343.8 336.9,346.2 333.8,350.0 331.9,355.0 327.5,356.2 321.2,358.8 317.5,362.5 315.0,366.2 311.2,368.8 308.1,373.8 306.2,378.8 306.2,377.5 307.5,382.5 310.0,380.6 311.9,383.1 311.9,388.1 306.2,389.4 301.2,391.2 299.4,395.0 301.9,398.1 303.1,401.9 300.0,403.8 298.1,408.1 301.2,411.9 298.8,413.8 292.5,412.5 286.2,411.9 282.5,413.8 280.0,417.5 276.2,420.0 272.5,422.5 268.8,422.5 266.2,418.8 261.9,418.1 256.9,420.0 253.8,421.2 252.5,426.2 248.8,427.5 245.0,425.0 243.8,418.8 240.0,416.2 239.4,414.4 235.6,417.5 230.0,416.9 227.5,417.5 218.8,418.8 215.0,415.0 211.2,412.5 210.0,407.5 210.0,400.0 211.2,395.0 209.4,390.0 207.5,385.0 208.8,380.0 206.2,375.0 203.8,370.0 210.0,365.6 217.5,362.5 223.8,363.1 227.5,360.0 228.8,355.0 230.0,353.8 225.0,350.0 222.5,345.0 216.2,341.2 211.2,339.4 211.2,336.2 215.0,333.1 211.2,330.0 208.8,327.5 203.8,323.8 197.5,322.5 191.2,321.9 187.5,318.1 184.4,313.8Z" fill="#b36841"/><path d="M138.8,363.1 143.8,361.2 151.2,360.6 156.9,362.5 160.0,363.8 161.2,358.8 165.0,355.0 170.0,353.8 173.8,353.1 176.2,355.0 182.5,358.1 188.8,360.0 193.8,359.4 197.5,358.8 199.4,361.2 198.1,365.6 201.2,368.8 200.0,372.5 196.2,376.2 191.2,378.1 185.0,378.8 181.2,382.5 178.8,387.5 173.8,390.6 167.5,392.5 165.0,396.2 163.1,400.0 160.6,398.1 158.1,392.5 155.0,386.2 151.9,381.2 151.2,374.4 145.0,373.8 140.6,370.0 138.1,366.2Z" fill="#b36841"/><path d="M259.4,432.5 263.8,430.0 267.5,428.8 270.0,426.2 273.1,428.1 277.5,428.8 281.9,430.0 283.1,433.8 280.0,436.2 278.1,440.0 275.0,441.2 271.2,440.6 267.5,441.2 263.8,443.8 262.5,438.8 260.6,435.6Z" fill="#b36841"/><path d="M202.0,539.0 205.5,539.0 206.0,543.0 203.0,544.0Z" fill="#b36841"/><path d="M278.8,358.8 281.2,353.8 287.5,353.1 290.0,350.0 295.0,352.5 293.8,357.5 296.2,361.2 298.8,363.8 292.5,367.5 288.8,371.2 286.2,370.0 282.5,366.2 280.0,362.5Z" fill="#dedede"/><path d="M311.9,345.0 317.5,342.5 322.5,341.2 327.5,341.9 330.0,343.8 325.0,347.5 320.0,350.0 315.0,353.8 311.2,355.0 310.0,351.2Z" fill="#dedede"/><path d="M336.9,346.2 343.8,345.0 348.8,348.1 350.0,355.0 346.2,360.0 343.8,360.0 340.0,361.2 335.0,357.5 331.9,355.0 333.8,350.0Z" fill="#dedede"/><path d="M283.8,413.1 292.5,413.1 300.0,414.4 306.2,415.6 306.9,421.2 305.0,426.2 300.0,430.0 293.8,428.8 288.8,426.2 286.2,420.0Z" fill="#dedede"/><path d="M191.2,400.0 195.0,395.0 200.0,388.8 203.8,385.0 207.5,390.0 210.0,395.0 210.0,400.0 208.8,405.0 205.0,408.1 200.0,406.9 195.0,405.6Z" fill="#dedede"/><path d="M200.0,385.0 207.5,387.5 210.0,397.5 208.8,406.2 200.0,405.0 191.2,401.2 195.0,392.5Z" fill="#dedede"/><path d="M195.0,440.0 205.0,435.0 215.0,437.5 225.0,435.0 235.0,437.5 242.5,442.5 240.0,452.5 235.0,460.0 232.5,470.0 225.0,477.5 227.5,490.0 230.0,500.0 222.5,505.0 215.0,495.0 216.2,485.0 210.0,480.0 202.5,477.5 196.2,470.0 197.5,462.5 205.0,460.0 207.5,452.5 200.0,450.0Z" fill="#dedede"/><path d="M217.5,420.0 225.0,423.8 235.0,420.0 242.5,427.5 247.5,432.5 242.5,437.5 235.0,435.0 225.0,430.0 218.8,425.0Z" fill="#dedede"/><path d="M157.5,477.5 162.5,470.0 170.0,472.5 173.8,480.0 172.5,490.0 165.0,495.0 158.8,490.0Z" fill="#dedede"/><path d="M242.5,462.5 255.0,460.0 265.0,465.0 275.0,460.0 280.0,467.5 277.5,477.5 267.5,482.5 260.0,477.5 250.0,477.5 242.5,470.0Z" fill="#dedede"/><path d="M207.5,545.0 216.2,542.5 218.8,550.0 215.0,560.0 210.0,570.0 205.0,570.0Z" fill="#dedede"/><path d="M298.8,457.5 307.5,455.0 312.5,462.5 320.0,460.0 332.5,462.5 336.2,472.5 333.8,478.8 325.0,482.5 315.0,483.8 313.8,476.2 315.0,470.0 305.0,470.0 298.8,465.0Z" fill="#dedede"/><path d="M335.0,522.5 330.0,535.0 322.5,540.0 323.8,548.8 316.2,557.5 310.0,558.8 303.8,550.0 305.0,540.0 312.5,533.8 320.0,531.2 327.5,522.5Z" fill="#dedede"/><path d="M202.5,545.0 217.5,543.8 216.2,552.5 216.9,561.2 222.5,567.5 220.0,571.2 215.0,568.8 211.2,570.0 215.0,575.0 221.2,577.5 223.8,583.8 225.0,591.2 227.5,593.8 225.6,598.8 226.9,605.0 232.5,620.0 235.0,625.0 220.0,626.2 212.5,605.0 208.8,583.8 203.8,563.8Z" fill="#dedede"/><path d="M222.5,567.5 227.5,566.2 237.5,567.5 246.2,570.0 247.5,575.0 251.2,580.0 248.8,583.8 242.5,585.0 237.5,586.2 236.2,591.2 231.2,592.5 226.2,591.2 223.8,583.8 221.2,577.5 220.0,571.2Z" fill="#dedede"/><path d="M213.8,487.5 222.5,490.0 228.8,492.5 226.2,498.8 218.8,501.2 217.5,507.5 210.0,513.8 205.0,505.0 207.5,495.0Z" fill="#dedede"/><path d="M262.5,460.0 282.5,460.0 281.2,470.0 290.0,480.0 281.2,485.0 270.0,483.8 260.0,475.0Z" fill="#dedede"/><path d="M123.3,471.5 131.5,474.3 136.9,477.0 135.6,483.8 131.5,482.5 126.0,477.0Z" fill="#dedede"/><path d="M255.6,306.2 260.0,300.0 265.0,301.9 270.0,298.8 274.4,303.1 278.1,308.1 277.5,313.8 275.0,316.2 270.0,320.0 265.0,321.2 261.9,316.9 258.8,311.2Z" fill="#e9d6cb"/><path d="M235.0,392.5 236.2,388.8 242.5,386.2 251.2,385.6 261.2,386.9 265.0,385.0 266.2,389.4 270.0,389.4 271.2,391.2 274.4,394.4 272.5,396.9 267.5,398.1 261.2,395.0 260.0,391.2 255.0,390.0 250.6,392.5 250.0,398.8 245.0,405.0 241.9,407.5 238.8,408.1 235.6,402.5 232.5,396.2Z" fill="#e9d6cb"/><path d="M290.0,347.5 295.0,342.5 300.0,341.2 303.8,343.8 308.1,345.0 311.2,350.0 310.0,353.8 305.0,356.2 300.0,360.0 296.2,361.2 293.8,357.5 295.0,352.5 290.0,350.0Z" fill="#e9d6cb"/><path d="M263.1,373.8 267.5,371.9 272.5,371.2 278.1,369.4 281.2,370.6 285.0,373.1 285.6,376.2 282.5,380.0 279.4,383.1 273.1,385.6 270.0,389.4 266.2,389.4 265.0,385.0 261.9,380.6Z" fill="#9a3300"/><path d="M273.1,385.6 279.4,383.1 282.5,380.0 285.6,376.2 289.4,374.4 290.6,379.4 286.2,381.9 283.8,385.6 285.0,390.0 288.8,393.1 290.0,395.0 286.2,395.6 283.1,396.9 281.2,400.6 278.1,401.9 275.6,398.8 274.4,394.4 271.2,391.2 270.0,389.4Z" fill="#9a3300"/><path d="M286.2,381.9 290.6,380.6 295.0,383.1 301.2,384.4 307.5,382.5 310.0,380.6 311.9,383.1 311.9,388.1 306.2,389.4 301.2,391.2 299.4,395.0 301.9,398.1 303.1,401.9 300.0,403.8 295.0,405.6 292.5,402.5 291.9,398.8 290.0,395.0 288.8,393.1 285.0,390.0 283.8,385.6Z" fill="#9a3300"/><path d="M253.8,410.0 259.4,409.4 265.0,407.5 268.1,403.8 270.6,399.4 273.8,400.0 273.1,404.4 271.9,408.1 271.9,415.0 266.9,416.9 261.9,418.1 256.9,420.0 253.8,421.2 253.1,415.0Z" fill="#9a3300"/><path d="M210.0,400.0 213.8,395.0 218.1,390.6 221.2,395.0 225.6,398.8 228.8,395.0 232.5,397.5 236.2,403.8 239.4,410.0 238.8,415.0 236.2,417.5 227.5,417.5 218.8,418.8 215.0,415.0 211.2,412.5 210.0,407.5Z" fill="#9a3300"/><path d="M313.9,810.8 313.9,810.8 313.9,807.8 313.4,804.8 315.4,801.7 313.4,798.8 314.7,795.7 313.7,792.8M297.6,797.3 299.9,796.1 300.7,793.0 303.0,791.0M313.7,792.8 310.1,792.1 306.7,790.8 303.0,791.0M331.9,790.9 330.1,789.1 326.6,789.2 324.0,787.4M324.0,787.4 320.9,788.9 317.6,788.3M313.7,792.8 317.6,788.3M286.0,740.1 283.8,742.6 281.4,744.8 278.5,746.4 278.1,746.8M286.0,740.1 290.0,740.6 293.2,743.0M281.9,757.2 282.8,757.3 285.9,756.0 289.0,754.8 292.3,754.8 295.7,755.2M293.2,743.0 293.9,746.0 293.8,749.2 296.2,751.9 295.7,755.2M784.1,316.5 783.8,314.2 782.1,311.6 780.8,308.8 779.3,306.1M779.3,306.1 781.2,303.4M757.2,286.3 760.0,284.7 763.5,285.0 766.0,282.5M757.2,286.3 755.5,284.7M756.9,272.9 756.2,275.7 755.2,278.6 756.3,281.7 755.5,284.7M757.2,286.3 757.6,290.7 757.9,295.1M765.5,297.9 763.8,298.2M757.9,295.1 760.7,296.9 763.8,298.2M334.5,220.4 337.3,221.6 340.4,222.3 343.4,222.9 346.2,224.4M346.2,224.4 348.0,221.8 350.5,219.8 351.2,218.7M332.6,210.7 333.2,213.9 334.9,216.9 334.5,220.4M332.6,210.7 335.7,209.6 336.5,205.9 339.4,204.6 341.9,202.7 342.3,202.1M190.9,293.1 192.0,293.2M206.6,280.7 206.6,280.7 205.0,280.2M153.0,439.3 152.9,440.3 152.8,443.8 150.3,446.9 151.8,450.7 150.0,453.8M150.0,453.8 146.7,454.4 143.7,453.4 140.8,451.7 140.5,451.7M317.6,788.3 315.3,785.8 313.6,783.0 313.8,779.1 311.4,776.7M311.4,776.7 315.0,773.9 316.8,769.8M324.0,787.4 324.6,783.7 325.4,780.0 325.1,776.2 326.6,772.7M326.6,772.7 323.6,771.0 320.3,769.8 316.8,769.8M286.7,772.1 287.7,771.3 290.3,769.5 292.7,767.5 296.3,766.9 298.2,764.3M290.4,782.2 293.3,782.2 296.5,782.4 299.5,783.2M298.2,764.3 300.8,767.0 302.8,770.0 304.1,773.5 305.9,776.7M299.5,783.2 301.8,781.2 303.2,778.3 305.9,776.7M299.9,759.5 297.2,757.9 295.7,755.2M299.9,759.5 298.2,764.3M303.0,791.0 302.4,786.6 299.5,783.2M311.4,776.7 305.9,776.7M299.9,759.5 303.7,759.0 307.2,757.6M316.8,769.8 315.4,765.6 314.5,761.2M307.2,757.6 310.6,759.9 314.5,761.2M240.3,127.0 240.6,126.5M240.3,127.0 239.8,126.4M225.2,142.2 227.1,145.1 229.9,147.3M225.2,142.2 222.2,142.7 219.1,142.7 218.9,142.9M221.1,159.5 221.2,159.5 224.1,158.5 227.2,159.1M229.9,147.3 228.3,150.1 229.3,153.4 227.1,156.0 227.2,159.1M242.8,214.0 245.4,213.9 248.5,214.7M242.7,231.1 243.3,231.4 246.4,232.0M248.5,214.7 249.6,218.0 251.1,221.1 252.0,224.5M246.4,232.0 248.7,229.9 249.2,226.4 252.0,224.5M249.0,240.7 248.8,237.6 246.6,235.1 246.4,232.0M232.9,245.3 236.2,244.6 239.2,243.1 242.3,241.8 245.9,241.9 249.0,240.7M231.8,244.2 232.9,245.3M254.8,132.2 253.8,129.4M254.8,132.2 258.0,133.3 261.2,132.4M261.2,132.4 261.9,131.6M214.9,262.0 215.2,262.4M297.2,246.0 299.7,240.6M297.2,246.0 293.9,245.6 290.5,245.6 287.6,242.8 284.2,243.0 280.9,242.4M280.9,242.4 280.9,238.0 283.1,234.2M283.1,234.2 285.8,232.1 289.2,231.6 292.6,231.3 295.3,229.2M299.7,240.6 299.3,237.5 298.0,234.7 296.0,232.2 295.3,229.2M215.1,261.4 215.5,261.7M232.9,245.3 233.3,248.6 235.2,251.3 236.4,254.4M236.4,254.4 234.3,257.1 234.3,258.3M166.5,404.9 169.0,405.8 172.7,404.9M155.8,388.9 155.7,388.9M175.3,400.9 175.7,401.6M175.7,401.6 172.7,404.9M456.6,327.4 456.8,328.8M456.8,328.8 459.4,331.0 461.3,334.0 463.9,336.1 467.0,337.8M479.5,328.7 479.1,330.0M467.0,337.8 469.7,335.3 473.3,334.3 475.4,331.0 479.1,330.0M755.5,284.7 752.2,285.2 749.0,285.2 745.8,284.1M745.8,284.1 745.0,281.1 744.9,281.0M745.8,284.1 742.8,288.4M742.8,288.4 743.7,291.9 745.9,294.9 747.0,298.4M757.9,295.1 755.4,297.5 751.8,297.9 749.0,299.7M747.0,298.4 749.0,299.7M387.4,261.4 386.9,261.0 384.0,259.9 380.8,259.5M380.8,259.5 380.6,256.2 378.5,253.7 377.3,250.8 376.0,247.9M380.8,241.9 379.8,243.0 378.2,245.7 376.0,247.9M351.4,684.2 354.4,685.6 356.3,688.5 358.5,690.9 361.9,691.8 364.5,693.8M351.4,684.2 350.6,684.5M350.6,684.5 349.4,688.0 347.1,691.1 346.1,694.8 345.4,698.5M345.4,698.5 348.4,699.0 351.0,700.8 353.8,702.1 356.7,702.7 359.7,703.4M359.7,703.4 362.1,701.1 362.3,697.4 364.5,695.0M364.5,695.0 364.5,693.8M372.1,686.5 374.9,687.9 378.0,688.2 380.7,688.7M372.1,686.5 369.8,689.2 367.0,691.4 364.5,693.8M377.3,702.9 375.2,701.3 372.7,699.4 369.9,698.0 367.0,696.8 364.5,695.0M330.8,770.8 330.3,767.2 330.8,763.7 331.8,760.3M330.8,770.8 335.1,772.1 338.6,775.0M346.3,762.0 342.4,761.5 339.4,759.4 336.3,757.4M346.3,762.0 346.6,765.1 346.1,768.1 346.7,771.1 345.9,774.1M331.8,760.3 336.3,757.4M338.6,775.0 342.4,775.6 345.9,774.1M326.6,772.7 330.8,770.8M322.9,756.4 320.2,758.1 316.9,758.9 314.5,761.2M322.9,756.4 326.2,756.9 328.5,759.7 331.8,760.3M333.0,790.4 334.1,788.4 335.2,785.0 336.2,781.6 336.9,778.1 338.6,775.0M349.1,777.6 347.7,776.7 345.9,774.1M358.9,761.4 358.3,760.7 356.3,758.5 354.6,755.9M354.6,755.9 352.0,758.2 349.0,759.9 346.3,762.0M253.9,177.1 250.6,177.2 248.6,180.5 245.4,181.0 245.0,181.2M253.9,177.1 250.7,176.1 249.1,172.9 246.2,171.5 243.6,169.7M238.6,178.5 239.0,175.7 239.8,172.2M243.6,169.7 239.8,172.2M228.6,173.1 229.5,171.0 231.5,168.5M239.8,172.2 237.0,171.0 234.1,170.1 231.5,168.5M227.2,159.1 231.2,162.7M231.5,168.5 231.2,162.7M239.6,131.5 243.0,134.1 245.1,137.8M239.6,131.5 235.8,132.3 232.2,133.6 228.5,134.6M229.9,147.3 234.1,147.5 238.3,147.9M228.5,134.6 225.8,138.0 225.2,142.2M238.3,147.9 240.8,145.9 241.5,142.7 243.5,140.4 245.1,137.8M254.8,132.2 251.9,135.2 249.0,138.2M239.6,131.5 240.3,127.0M249.0,138.2 245.1,137.8M265.4,140.0 264.0,135.8 261.2,132.4M265.4,140.0 263.2,142.2 262.1,145.3 260.1,147.6 257.6,149.5M249.0,138.2 250.8,141.3 252.8,144.3 254.8,147.2 257.6,149.5M272.8,158.2 271.7,155.3M272.8,158.2 276.6,158.4 280.3,158.9 284.0,159.2 287.7,158.6M271.7,155.3 273.7,152.9 274.3,149.7 276.2,147.2M287.7,158.6 290.6,156.3 292.4,153.0M292.4,153.0 292.4,151.9M292.4,151.9 289.2,150.7 286.0,149.8 282.6,149.3 279.3,148.7 276.2,147.2M253.9,177.1 254.4,177.1M254.4,189.7 254.6,188.9 256.0,185.8 254.8,182.3 256.1,179.2M254.4,177.1 256.1,179.2M259.1,150.9 262.0,152.5 265.7,152.0 268.8,153.3 271.7,155.3M259.1,150.9 258.2,154.0 260.1,156.9 259.2,160.0 260.1,163.0 260.0,166.1M272.6,159.5 270.1,161.7 267.5,163.6 266.1,166.6M272.8,158.2 272.6,159.5M266.1,166.6 263.0,166.3 260.0,166.1M326.1,188.2 322.6,188.6 319.1,189.3 315.7,188.2 312.3,188.0M326.1,188.2 326.7,184.6 326.8,184.2M312.3,188.0 311.9,184.3 312.2,180.5 311.2,177.3M338.5,193.9 338.3,194.0 335.6,192.0 332.4,192.2 329.3,192.2M329.3,192.2 326.1,188.2M306.6,164.4 309.5,161.5 311.8,160.0M306.6,164.4 306.7,167.7 305.3,170.6M305.3,170.6 308.0,173.9 309.7,175.6M318.2,241.1 313.9,239.7 310.1,237.3M318.2,241.1 320.5,238.1 323.7,235.9 325.9,232.8M310.1,237.3 310.7,234.0 310.1,230.6 309.8,227.3M309.8,227.3 312.6,225.1 316.2,224.6 319.1,222.8M319.1,222.8 322.7,224.5 325.4,227.4M325.9,232.8 325.4,227.4M346.7,230.7 347.5,227.5 346.2,224.4M334.5,220.4 330.8,221.9 327.7,224.1 325.4,227.4M338.4,239.6 340.5,237.3 342.4,235.1 345.4,233.7 346.7,230.7M338.4,239.6 335.4,237.6 332.7,235.1 329.0,234.4 325.9,232.8M236.4,254.4 239.5,255.1 242.5,255.6 245.6,255.0 248.7,255.3M249.0,240.7 251.1,242.0M248.7,255.3 248.7,251.8 249.4,248.5 250.4,245.3 251.1,242.0M264.9,230.2 265.0,228.8M252.0,224.5 255.3,225.4 258.3,227.2 261.6,228.1 265.0,228.8M264.9,230.2 262.4,232.6 259.9,235.0 256.8,236.7 254.7,239.5 252.2,241.9M252.2,241.9 251.1,242.0M687.2,458.2 685.6,457.9M686.8,444.6 683.8,444.1 681.0,446.4M681.0,446.4 680.2,451.5M685.6,457.9 682.9,454.7 680.2,451.5M685.6,457.9 684.3,460.8 680.6,461.4 679.3,464.3 676.4,465.7 674.3,467.8 674.1,468.5M779.3,306.1 776.3,307.4 773.1,308.4 770.2,310.0 767.7,312.3M763.8,298.2 763.9,301.0M763.9,301.3 763.9,301.7 763.1,305.1 763.9,308.5M767.7,312.3 763.9,308.5M719.1,289.7 718.7,293.5M719.1,289.7 722.1,288.4 724.9,286.8 727.6,285.0 730.9,284.2M732.4,296.0 728.5,295.0 724.7,294.7 720.8,295.7M732.4,296.0 733.4,292.5 734.9,289.1M718.7,293.5 720.8,295.7M730.9,284.2 732.4,287.1 734.9,289.1M714.8,281.5 714.9,281.7 716.7,284.1 718.0,286.9 719.1,289.7M730.1,280.3 729.6,281.2 730.9,284.2M722.4,306.8 721.0,303.2 721.2,299.4 720.8,295.7M722.7,307.0 722.4,306.8M734.7,301.0 733.5,305.6M734.7,301.0 732.4,296.0M722.7,307.0 726.4,307.5 729.9,306.4 733.5,305.6M734.7,301.0 737.7,299.9 740.9,300.1 743.9,298.9 747.0,298.4M742.8,288.4 738.8,287.9 734.9,289.1M270.4,715.1 267.9,717.0 265.1,718.4 264.3,719.3M270.4,715.1 269.3,711.8 268.8,708.3 268.3,704.9M258.3,708.9 260.2,708.5 261.7,705.3 264.8,704.4M264.8,704.4 268.3,704.9M271.3,730.9 273.0,730.0 275.5,728.3 278.4,727.4M270.4,715.1 273.2,716.2 275.4,718.6 278.4,719.3M278.4,719.3 277.5,723.3 278.4,727.4M286.0,740.1 285.1,736.1 284.3,732.0M284.3,732.0 281.3,729.8 278.4,727.4M293.2,743.0 295.9,741.6 298.6,740.1 301.4,738.9 303.8,737.0M303.8,737.0 301.3,735.0 300.2,732.0 297.9,729.9 297.1,726.7 295.4,724.1M284.3,732.0 286.4,729.1 290.3,728.7 293.1,726.8 295.4,724.1M278.4,719.3 281.1,716.9 283.5,714.2 286.6,712.3M295.4,724.1 296.6,718.3M286.6,712.3 290.1,714.1 292.7,717.3 296.6,718.3M359.7,703.4 360.2,706.5M374.1,711.9 371.8,710.0 368.5,710.2 366.0,708.2 362.9,707.8 360.2,706.5M322.9,756.4 322.5,752.8 322.6,749.1 323.1,745.5M307.2,757.6 308.8,754.4 308.4,750.7 309.4,747.4 310.8,744.1M323.1,745.5 320.0,746.0 317.0,744.6 314.0,744.0 310.8,744.1M303.8,737.0 306.7,737.3M310.8,744.1 308.8,740.7 306.7,737.3M336.3,757.4 337.5,754.1 338.2,750.7 337.7,747.1M323.1,745.5 324.9,742.8 327.9,741.5M337.7,747.1 334.5,745.1 331.2,743.3 327.9,741.5M181.3,333.4 181.7,333.6M184.4,351.6 184.4,351.6M175.7,401.6 178.2,400.7M239.0,159.9 241.8,162.3 245.1,163.7M239.0,159.9 240.6,155.6 240.4,151.1M240.4,151.1 244.1,152.6 248.1,152.6 252.0,153.4M252.0,153.4 250.0,156.0 249.3,159.0 248.9,162.1M248.9,162.1 245.1,163.7M231.2,162.7 235.2,161.6 239.0,159.9M243.6,169.7 245.0,166.9 245.1,163.7M238.3,147.9 240.4,151.1M257.6,149.5 257.6,149.6M257.6,149.6 254.3,150.8 252.0,153.4M256.9,168.0 260.0,166.1M259.1,150.9 257.6,149.6M256.9,168.0 254.7,165.3 251.9,163.6 248.9,162.1M254.4,177.1 255.9,174.2 255.8,170.9 256.9,168.0M292.4,153.0 295.3,154.3 297.3,156.6 299.9,158.2 302.4,160.0 304.9,161.7 306.6,164.4M292.4,151.9 292.8,149.9M265.4,140.0 268.5,139.4 271.5,139.6M271.5,139.6 271.5,136.2 273.4,133.2 273.8,130.6M276.2,147.2 275.7,143.2M271.5,139.6 275.7,143.2M329.3,192.2 327.2,194.7 326.4,198.1 324.4,200.8 321.8,203.0 320.5,206.1M309.2,192.3 312.3,188.0M309.2,192.3 309.5,198.3M309.5,198.3 312.4,200.0 315.1,202.0 317.1,205.1 320.5,206.1M332.6,210.7 329.8,209.3 326.5,209.7 323.6,208.7 320.9,207.0M319.1,222.8 318.8,218.5 317.3,214.6M317.3,214.6 318.2,210.4 320.9,207.0M320.9,207.0 320.5,206.1M299.5,173.4 296.2,171.8 293.6,169.2 290.5,167.2 287.2,165.6M299.5,173.4 298.5,176.6 295.4,178.2 292.9,180.3 291.7,183.4M291.7,183.4 291.1,183.2M291.1,183.2 289.9,180.1 287.3,178.3 285.3,176.0 283.9,173.2 281.1,171.5M287.2,165.6 284.7,169.1 281.1,171.5M305.3,170.6 302.7,172.5 299.5,173.4M287.7,158.6 287.2,162.1 287.2,165.6M293.0,186.9 291.7,183.4M309.2,192.3 305.7,192.1 302.4,191.1 299.5,189.0 296.6,186.9 293.0,186.9M272.6,159.5 274.4,162.6 276.2,165.6 278.9,168.1 280.0,171.5M280.0,171.5 281.1,171.5M270.7,177.9 268.1,179.8M270.7,177.9 271.2,177.9M271.2,177.9 274.1,180.3 276.4,183.5 279.5,185.8M268.1,179.8 267.3,183.7 267.6,187.7 267.4,191.7M279.5,185.8 278.4,188.7 277.3,191.7 276.2,194.7M269.5,194.1 272.5,194.6 275.5,195.2M269.5,194.1 267.4,191.7M275.5,195.2 276.2,194.7M256.1,179.2 260.1,180.1 264.1,180.3 268.1,179.8M266.1,166.6 266.9,169.6 268.6,172.2 269.5,175.1 270.7,177.9M280.0,171.5 277.2,173.8 273.6,175.0 271.2,177.9M291.1,183.2 287.1,183.5 283.2,184.4 279.5,185.8M257.3,191.1 257.3,191.1 260.7,192.0 264.1,192.0 267.4,191.7M293.0,186.9 292.2,189.9 291.7,193.0 290.2,195.8M290.2,195.8 286.7,195.4 283.2,195.3 279.6,195.7 276.2,194.7M267.6,225.2 270.7,223.8 273.9,222.8M267.6,225.2 266.1,222.0 264.1,219.0 262.5,215.8 261.0,212.7 259.0,209.7M273.9,222.8 275.1,219.3 274.2,215.8 274.5,212.4 273.9,208.9M273.9,208.9 269.9,209.1 266.3,207.1 262.5,206.6M262.5,206.6 260.3,207.3M260.3,207.3 259.0,209.7M265.0,228.8 267.6,225.2M248.5,214.7 252.3,213.8 255.1,210.5 259.0,209.7M277.7,206.1 277.2,202.4 276.7,198.8 275.5,195.2M277.7,206.1 273.9,208.9M269.5,194.1 266.9,196.7 265.5,200.0 264.6,203.6 262.5,206.6M254.6,198.9 255.0,199.6 256.5,202.4 258.3,204.9 260.3,207.3M264.9,230.2 266.0,233.3 267.4,236.2 270.8,237.9 271.4,241.2 273.1,243.9M252.2,241.9 254.9,243.3 257.5,245.0 259.3,247.8 262.4,248.5M262.4,248.5 266.3,247.7 269.8,245.9 273.1,243.9M277.3,223.5 273.9,222.8M280.9,242.4 276.6,245.1M283.1,234.2 281.5,231.6 280.7,228.6 278.2,226.5 277.3,223.5M273.1,243.9 276.6,245.1M674.4,422.6 672.0,426.3 670.7,430.5M674.4,422.6 677.8,422.7 681.0,421.8 684.4,421.7M684.4,421.7 685.9,425.6 686.5,429.7M676.5,434.1 673.1,433.1 670.7,430.5M676.5,434.1 679.5,432.7 682.5,431.6 685.7,431.3M685.7,431.3 686.5,429.7M681.0,446.4 676.5,442.6M676.5,442.6 675.8,438.4 676.5,434.1M689.8,439.4 688.0,437.1 685.9,434.6 685.7,431.3M693.7,428.9 692.5,428.9 689.4,428.4 686.5,429.7M338.4,239.6 338.7,243.7M318.7,244.7 321.3,246.3 323.2,249.0 326.3,249.9 329.0,251.5M318.2,241.1 318.7,244.7M338.7,243.7 336.8,246.4 333.9,247.8 331.8,250.1 329.0,251.5M361.6,256.6 363.7,253.7 364.3,250.1 366.4,247.2M361.6,256.6 358.2,257.2M358.2,257.2 354.8,255.1 351.3,253.1 348.2,250.6M348.2,250.6 349.9,247.7 351.7,245.1 354.0,242.7 357.1,241.0 358.6,238.1M366.4,247.2 365.3,243.8 363.7,240.7 361.2,238.1M358.6,238.1 361.2,238.1M369.3,265.1 366.2,262.8 363.3,260.2 361.6,256.6M380.8,259.5 378.2,261.5 375.4,263.2 371.8,262.9 369.3,265.1M376.0,247.9 372.8,248.0 369.5,248.5 366.4,247.2M369.3,265.1 368.2,270.6M356.0,272.9 353.6,270.4 351.5,267.6M351.5,267.6 352.2,264.3 353.9,261.8 356.7,259.9 358.2,257.2M368.2,270.6 365.1,271.1 362.2,272.2 359.1,272.9 356.0,272.9M338.7,243.7 340.4,246.9 343.6,248.5 346.2,250.7M346.2,250.7 348.2,250.6M346.7,230.7 349.2,233.3 352.3,235.0 355.3,236.7 358.6,238.1M366.2,230.4 365.6,233.4 363.0,235.5 361.2,238.1M272.7,299.8 271.7,298.1 269.8,297.5M172.7,404.9 173.4,407.9 174.0,410.9 172.2,414.0 173.1,417.0M192.5,414.9 191.7,411.7 191.0,408.6 189.2,405.8 189.4,402.3 187.6,400.1M184.6,425.6 181.6,425.7M184.6,425.6 186.1,422.6 187.6,419.6 191.4,418.2 192.5,414.9M173.1,417.0 175.7,418.7 177.9,420.9 179.2,423.8 181.6,425.7M173.1,417.0 169.7,417.3 166.5,418.1 163.6,420.1 163.1,420.2M150.0,453.8 152.2,456.1 155.0,457.9 156.3,461.0M129.1,457.7 130.5,459.8 129.7,463.0 132.4,465.5 132.3,468.6M132.3,468.6 135.9,468.9 138.4,472.1 141.6,473.3 145.1,473.8M156.3,461.0 153.6,463.2 152.2,466.4 149.8,468.9 148.0,471.8 145.1,473.8M600.6,354.4 600.1,357.5 600.5,360.6 599.6,362.5M584.8,353.1 588.7,353.0 592.0,351.2 595.6,350.0M595.6,350.0 598.6,351.6 600.6,354.4M584.8,353.1 584.7,356.5 584.1,357.4M619.9,375.3 616.9,374.7 614.0,373.9 611.0,373.3 609.0,373.3M619.9,375.3 620.6,378.5 619.5,381.5 618.9,384.6 618.8,385.3M570.7,332.9 573.4,334.2 575.0,337.2 577.7,338.6 580.5,339.9M570.7,332.9 572.5,330.0 573.5,326.8 575.3,323.9 576.8,320.9M580.5,339.9 583.8,338.6 584.9,337.2M576.8,320.9 580.0,320.2 583.3,320.3 584.9,319.6M579.9,344.7 580.5,339.9M579.9,344.7 581.2,347.7 583.5,350.1 584.8,353.1M595.6,350.0 596.5,347.0 595.7,343.9 596.2,342.2M483.8,345.4 483.0,342.3 481.9,339.2 480.4,336.3 480.9,332.8 479.1,330.0M467.0,337.8 466.9,340.1M483.8,345.4 480.7,345.9 477.9,347.0 474.9,347.7 472.1,349.1M472.1,349.1 469.6,346.5 469.2,342.8 466.9,340.1M777.7,323.0 776.1,323.7M767.7,312.3 768.0,317.1M776.1,323.7 773.3,321.6 770.2,319.9 768.0,317.1M749.1,306.7 746.2,308.6 743.5,310.7M749.1,306.7 751.9,308.2 754.1,310.4M754.1,310.4 753.9,313.7 753.6,316.9 753.8,320.2M743.5,310.7 744.0,313.7 743.7,316.8 744.5,319.7M744.5,319.7 747.5,320.7 750.7,319.6 753.8,320.2M749.0,299.7 748.0,303.2 749.1,306.7M735.9,309.6 733.5,305.6M735.9,309.6 739.8,309.5 743.5,310.7M763.9,308.5 760.6,309.2 757.3,309.3 754.1,310.4M260.9,683.3 259.3,686.2 260.4,689.8 257.6,692.4 257.8,695.7M260.9,683.3 257.9,681.8 255.5,679.4M255.5,679.4 252.4,679.2 249.4,680.0 246.3,679.9M257.8,695.7 254.8,696.4 252.4,697.4M264.8,704.4 261.8,702.0 259.7,698.9 257.8,695.7M251.4,655.5 248.9,657.5 246.3,659.2 242.7,659.4 241.3,660.6M251.4,655.5 249.3,652.5 247.9,649.3 246.3,646.1 244.7,642.9 242.7,640.0M231.8,642.4 233.8,641.5 237.0,642.2 239.6,640.1 242.7,640.0M132.3,468.6 129.9,470.6 127.1,471.9 125.1,474.1 124.5,477.0M251.4,655.5 252.9,655.9M255.5,679.4 256.4,676.2 255.8,672.7 257.1,669.5 256.4,666.0 257.9,662.9M252.9,655.9 256.3,658.8 257.9,662.9M370.4,742.4 369.6,742.2 366.6,741.5 364.4,738.9 360.9,739.1 358.5,736.9M370.0,747.7 369.3,747.7 366.4,748.8 363.5,749.7 361.0,751.9 357.9,751.9 354.9,752.7M354.9,752.7 352.6,748.4M358.5,736.9 357.1,739.8 355.7,742.7 353.7,745.3 352.6,748.4M354.6,755.9 354.9,752.7M337.7,747.1 341.0,746.9 343.5,744.7M352.6,748.4 349.3,747.8 346.8,745.4 343.5,744.7M204.5,415.9 208.3,413.5 210.4,411.1M204.5,415.9 205.0,419.3 205.6,422.7 205.5,426.2 207.1,429.3M220.4,419.0 220.6,419.2 222.5,421.8M207.1,429.3 211.1,428.7 215.1,429.3 219.0,428.3M222.5,421.8 220.3,424.8 219.0,428.3M192.5,414.9 195.6,414.5 198.5,416.0 201.5,416.2 204.5,415.9M192.1,434.5 195.2,433.1 198.7,433.9 201.8,432.1 205.3,432.4M184.6,425.6 186.6,429.0 189.4,431.7 192.1,434.5M205.3,432.4 207.1,429.3M228.5,134.6 226.5,132.0 224.8,129.2 223.7,126.1 223.2,125.6M291.6,137.8 292.3,136.9M291.6,137.8 286.6,136.4M286.6,136.4 284.6,134.0 282.2,132.0 280.8,129.1M280.8,129.1 280.9,128.7M292.7,140.0 291.6,137.8M275.7,143.2 277.8,140.6 281.4,140.3 284.4,138.9 286.6,136.4M280.2,129.0 280.8,129.1M301.6,204.8 302.8,208.2 302.3,211.8 303.6,215.1M301.6,204.8 298.3,204.4 295.2,202.7 291.8,202.9M291.8,202.9 289.4,205.5 287.0,208.0M287.0,208.0 287.8,211.3 287.9,214.6 288.2,218.0M288.2,218.0 291.6,218.7 293.4,222.2 296.7,223.2M303.6,215.1 302.2,218.7 299.8,221.8M299.8,221.8 296.7,223.2M309.5,198.3 306.7,200.2 303.5,201.8 301.6,204.8M317.3,214.6 313.9,214.8 310.4,214.5 307.1,216.1 303.6,215.1M290.2,195.8 291.9,199.1 291.8,202.9M277.7,206.1 280.5,207.9 284.0,206.5 287.0,208.0M277.3,223.5 280.2,222.5 283.2,221.5 285.1,218.7 288.2,218.0M295.3,229.2 294.9,225.9 296.7,223.2M309.8,227.3 306.3,225.8 303.0,224.0 299.8,221.8M299.7,240.6 303.1,239.2 306.8,238.7 310.1,237.3M248.7,255.3 250.1,258.1 252.3,260.3M262.4,248.5 262.8,252.7 261.0,256.5M252.3,260.3 254.9,258.4 258.5,258.8 261.0,256.5M698.8,416.9 695.7,416.8 692.7,415.6 689.6,415.9 686.5,415.9M698.8,416.9 699.6,413.8 699.8,410.6 699.1,407.3 699.9,404.2M699.9,404.2 696.9,403.5 693.8,405.0 690.8,404.0 687.7,404.0M687.7,404.0 684.6,406.3 683.3,409.9M683.3,409.9 684.0,413.4 686.5,415.9M684.4,421.7 684.4,418.4 686.5,415.9M699.3,417.7 698.8,416.9M711.3,420.9 710.0,417.8 711.1,414.4 711.2,411.1 711.6,407.7 710.8,404.4M710.8,404.4 707.1,401.9 702.7,401.3M702.7,401.3 699.9,404.2M669.8,412.8 670.8,416.3 673.9,418.8 674.4,422.6M678.7,409.1 675.4,409.5 672.8,411.8 669.8,412.8M678.7,409.1 683.3,409.9M710.8,404.4 713.8,402.3 717.4,402.5M717.4,402.5 719.4,403.6M717.4,402.5 717.8,399.3 715.5,396.6 714.5,393.6 714.9,390.4M702.7,401.3 702.7,400.7M702.7,400.7 704.3,397.3 704.8,393.4 707.4,390.4M707.4,390.4 711.2,389.5 714.9,390.4M674.4,396.8 670.8,397.3 667.3,397.6 666.4,397.5M674.4,396.8 676.6,394.5 679.0,392.5 681.6,390.6M664.2,388.4 666.1,386.9 669.6,385.6 671.6,382.7 674.3,380.6M681.6,390.6 680.7,387.5 678.6,385.3 676.8,382.8 674.6,380.7M674.3,380.6 674.6,380.7M685.7,391.3 681.6,390.6M687.7,404.0 687.2,400.8 685.7,397.8 686.2,394.5 685.7,391.3M678.7,409.1 678.6,405.7 676.4,403.0 674.7,400.1 674.4,396.8M351.5,267.6 346.3,267.2M346.2,250.7 344.5,253.7 344.1,257.4 341.9,260.2M346.3,267.2 343.4,264.1 341.9,260.2M329.0,251.5 329.0,252.9M329.0,252.9 331.2,255.4 333.1,258.1 335.4,260.5M335.4,260.5 338.6,260.3 341.9,260.2M313.1,252.1 314.4,256.0 315.4,260.0M313.1,252.1 309.5,251.2 305.9,251.0 302.3,250.4 298.6,251.1M315.4,260.0 312.6,262.8 309.3,264.8 305.5,265.8M305.5,265.8 302.5,263.3 298.8,262.2M298.8,262.2 298.0,259.0 297.1,255.8M297.1,255.8 298.6,251.1M318.7,244.7 315.9,246.5 314.2,249.1 313.1,252.1M329.0,252.9 326.9,255.5 325.1,258.2 321.8,259.7 320.3,262.8M320.3,262.8 315.4,260.0M297.2,246.0 298.6,251.1M276.6,245.1 277.0,248.6 278.0,251.9 277.2,255.5 278.3,258.9M278.3,258.9 281.3,257.7 284.7,258.8 287.6,257.0 290.8,256.5 294.1,256.9 297.1,255.8M283.3,326.3 283.6,327.3 284.0,330.4 284.4,333.4 285.5,336.1M286.9,295.5 284.9,295.1M286.9,295.5 289.0,297.8 291.9,299.0 293.9,301.5 297.0,302.6 298.8,305.3M284.9,295.1 283.1,298.4 280.5,300.9 277.8,303.4M277.8,303.4 278.3,305.6M280.3,308.3 281.2,309.0 283.5,311.4 284.2,314.9 286.7,317.2M286.7,317.2 289.3,315.0 292.1,313.1 293.3,309.5 296.1,307.5 298.8,305.5M298.8,305.3 298.8,305.5M301.2,287.9 303.0,291.1 306.3,293.1 308.1,296.2M308.1,296.2 306.3,299.1 303.4,300.8 300.8,302.8 298.8,305.3M301.2,287.9 297.9,288.6 295.9,291.7 292.5,292.2 289.4,293.4 286.9,295.5M286.7,318.7 286.7,317.2M286.7,318.7 284.5,321.3 284.1,322.0M276.5,303.6 277.8,303.4M181.6,425.7 179.6,428.0 176.8,429.6 175.5,432.6 173.3,434.7 172.1,435.3M156.3,461.0 161.1,460.8M161.1,460.8 164.3,457.3M164.6,439.9 164.6,440.3 163.1,443.7 164.5,447.1 163.5,450.5 163.4,453.9 164.3,457.3M171.6,437.8 172.3,438.8 174.9,440.8 176.2,443.8 179.3,445.3 180.4,448.5M192.1,434.5 191.8,438.1 191.1,441.6M191.1,441.6 188.9,444.0 185.2,444.2 182.5,445.9 180.4,448.5M164.3,457.3 167.2,456.5 170.4,456.3 173.1,454.4 176.2,453.9 179.3,453.8M180.4,448.5 179.3,453.8M186.6,468.3 183.0,468.5 179.9,470.6 176.3,470.6 173.1,472.3 169.7,473.0M186.6,468.3 187.8,464.7M161.1,460.8 164.2,463.2 165.1,467.1 167.2,470.2 169.7,473.0M179.3,453.8 180.9,456.9 182.9,459.7 184.9,462.5 187.8,464.7M146.2,477.4 145.1,473.8M146.2,477.4 145.7,480.6 142.5,482.2 141.8,485.3 140.4,488.0 139.3,490.8 139.1,490.9M146.2,477.4 148.5,479.8 151.0,481.9 154.3,482.7 156.9,484.6 159.6,486.4M148.7,499.2 150.4,498.4 151.3,495.2 153.9,493.4 156.3,491.5 157.5,488.5 159.6,486.4M169.7,473.0 168.3,476.3 167.9,479.9 167.2,483.4M167.2,483.4 165.0,485.6 162.0,486.4M159.6,486.4 162.0,486.4M670.7,430.5 667.5,431.0M667.4,412.4 669.8,412.8M667.4,412.4 665.5,415.2 664.0,418.2 662.5,421.2 660.0,423.7 659.4,427.1M659.4,427.1 660.0,428.3M495.3,342.5 494.6,343.6 492.3,345.7M512.1,346.1 512.1,346.1M512.1,346.1 509.2,348.0 506.2,349.7 503.6,351.8 501.6,354.8M501.6,354.8 499.6,352.2 497.1,350.1 494.5,348.1 492.3,345.7M483.8,345.4 488.3,347.3M488.3,347.3 492.3,345.7M482.4,517.4 479.9,519.8 477.1,522.0 476.0,525.6 473.1,527.7 470.7,530.2M473.7,539.1 472.0,536.4 471.0,533.4 470.7,530.2M473.7,539.1 476.4,540.9 479.5,540.8 482.8,540.4 485.5,542.1M482.4,517.4 482.8,517.4M482.8,517.4 484.3,520.0 485.6,522.8 486.8,525.7 488.6,528.2 490.9,530.3 493.3,532.5 494.5,534.6M482.4,517.4 479.0,516.6 476.6,514.2 473.8,512.4 471.3,510.2 468.4,508.5 465.5,507.0M470.7,530.2 468.1,528.8 465.3,527.6M465.3,527.6 464.7,524.6 462.3,522.2 461.2,519.3 460.5,516.3 460.7,513.0 458.9,510.4M465.5,507.0 462.1,508.5 458.9,510.4M456.8,328.8 454.8,331.1 452.5,333.0M452.5,333.0 449.1,332.2 446.0,334.5 442.6,334.0 439.3,334.2M438.7,320.5 438.9,321.4 439.7,324.0M439.9,324.5 438.4,327.8 439.3,331.0 439.3,334.2M759.5,323.4 761.0,326.4 763.6,328.9 764.3,330.4M759.5,323.4 756.2,323.0M756.2,323.0 754.2,327.1 751.1,330.4M751.1,330.4 753.3,332.6 754.3,334.2M776.1,323.7 773.9,326.4 772.6,329.6 772.4,330.3M768.0,317.1 765.4,319.6 762.8,321.9 759.5,323.4M753.8,320.2 756.2,323.0M718.7,293.5 715.3,293.8 712.7,295.8 709.7,297.2M702.1,293.7 702.6,294.6M709.7,297.2 706.1,295.9 702.6,294.6M191.1,441.6 193.2,444.6 195.7,447.1 197.5,450.3 200.4,452.6M205.3,432.4 207.4,435.2 208.1,438.8 209.6,442.0M209.6,442.0 206.5,443.9 205.1,447.4 203.5,450.6 200.4,452.6M187.8,464.7 190.8,462.5 191.0,462.5M193.3,461.8 194.2,461.5 197.0,459.1 200.7,458.5M200.7,458.5 200.4,452.6M272.5,701.9 268.3,704.9M272.5,701.9 273.2,698.7 272.7,695.5 271.3,692.4 271.8,689.2M260.9,683.3 264.9,683.4M271.8,689.2 269.3,687.6 267.4,685.1 264.9,683.4M344.8,727.6 347.6,729.8 351.0,730.2 354.2,731.5 357.3,732.7M344.8,727.6 344.2,726.8M344.2,726.8 344.1,724.4M344.1,724.4 345.4,721.7 346.8,719.0 348.7,716.6M366.8,724.1 364.4,721.2 361.0,719.5 357.7,717.7 355.6,714.5M366.8,724.1 363.9,725.6 361.7,728.0 359.7,730.5 357.3,732.7M355.6,714.5 352.2,716.0 348.7,716.6M358.5,736.9 357.3,732.7M343.5,744.7 343.9,741.3 343.8,737.8 345.4,734.5 345.0,731.0 344.8,727.6M327.9,741.5 327.2,737.8 327.7,734.2M327.7,734.2 330.1,732.2 332.8,730.9 336.2,731.2 339.0,730.0 341.9,729.1 344.2,726.8M368.0,723.6 366.8,724.1M360.2,706.5 358.1,708.9 357.2,711.9 355.6,714.5M345.4,698.5 340.8,701.8M340.8,701.8 341.3,705.3 343.0,708.2 345.2,710.8 347.1,713.6 348.7,716.6M306.7,737.3 308.9,734.6 312.1,732.8 313.4,729.4M327.7,734.2 325.1,732.3 322.8,730.0 320.8,727.4M313.4,729.4 316.8,727.3 320.8,727.4M296.6,718.3 300.1,717.8 302.8,715.7M313.4,729.4 310.4,727.4 310.0,723.3 306.8,721.3 305.8,717.8 302.8,715.7M230.3,420.0 226.3,420.4 222.5,421.8M230.3,420.0 230.9,418.0M209.6,393.0 209.7,392.4M244.3,268.1 246.1,268.6M252.3,260.3 251.2,265.6M246.1,268.6 251.2,265.6M246.1,268.6 245.0,271.9M278.3,258.9 277.8,262.6 275.3,265.4M261.0,256.5 263.9,257.7 266.0,260.2 268.6,262.0 271.0,264.0 273.9,265.3M275.3,265.4 273.9,265.3M251.2,265.6 253.9,268.3 257.5,269.9 260.2,272.6M273.9,265.3 271.1,266.6 268.7,268.7 265.7,269.7 262.9,271.2 260.2,272.6M260.2,272.6 260.7,275.9M266.4,286.3 266.4,286.2M266.4,286.2 266.4,286.2M751.1,330.4 748.2,331.3 745.2,331.5M745.0,341.2 744.9,338.5 746.2,334.9 745.2,331.5M732.8,368.8 730.7,368.6 728.0,366.8 724.6,366.8M724.6,366.8 727.0,363.9 727.5,360.4 729.1,357.2 729.7,353.7M729.7,353.7 732.8,354.3 734.9,353.6M744.5,319.7 741.9,321.6 740.1,324.3 737.8,326.6M745.2,331.5 742.1,328.2 737.8,326.6M696.1,337.9 697.6,341.9 698.6,346.0M708.2,344.0 705.1,345.0 701.7,344.7 698.6,346.0M696.1,337.9 697.6,334.9 700.1,332.8M708.2,344.0 708.2,340.4 709.2,336.8 707.9,333.3M700.1,332.8 704.0,332.6 707.9,333.3M708.8,375.6 711.1,377.5 712.9,380.1 715.8,381.2 718.5,382.7 720.6,385.0M708.8,375.6 711.8,373.7 714.0,370.8 717.1,368.9 720.2,367.2M722.5,367.6 720.2,367.2M722.5,367.6 723.4,371.0 723.4,374.3 723.3,377.8 723.2,378.5M723.1,380.4 723.0,381.2 723.9,383.7M724.0,384.5 720.6,385.0M724.6,366.8 722.5,367.6M724.1,350.1 721.6,352.5 718.4,353.7 715.0,354.8 712.9,357.7M712.9,357.7 714.4,361.5 717.8,364.0 720.2,367.2M729.7,353.7 727.5,350.9 724.1,350.1M714.9,390.4 718.1,388.1 720.6,385.0M703.7,367.3 698.3,365.3M703.7,367.3 705.9,365.0 708.1,362.5 710.7,360.4 712.4,357.6M698.3,365.3 696.7,360.4M696.7,360.4 698.5,357.6 699.4,354.3M699.4,354.3 703.1,355.0 706.9,354.4 710.5,355.4M712.4,357.6 710.5,355.4M707.8,375.6 708.8,375.6M707.8,375.6 705.9,373.1 706.0,369.6 703.7,367.3M712.9,357.7 712.4,357.6M697.2,348.8 698.6,346.0M697.2,348.8 699.4,354.3M708.2,344.0 709.8,345.5M709.8,345.5 710.7,348.7 709.4,352.2 710.5,355.4M724.1,350.1 723.3,346.4 722.0,342.8M722.0,342.8 718.9,343.3 715.8,343.6 712.6,343.8 709.8,345.5M691.7,389.7 689.1,389.6M691.7,389.7 694.3,387.7 697.4,386.6 700.2,384.9 702.5,382.5M689.1,389.6 689.2,386.3 687.9,383.0 690.0,379.6 688.0,376.3 688.9,373.0M702.5,382.5 702.8,381.1M702.8,381.1 700.7,378.4 698.0,376.9 695.2,375.6 691.8,375.1 689.5,372.9M689.5,372.9 688.9,373.0M702.7,400.7 700.9,398.1 698.9,395.7 695.3,394.9 694.5,391.3 691.7,389.7M685.7,391.3 689.1,389.6M707.4,390.4 705.6,387.9 705.0,384.6 702.5,382.5M683.9,371.2 688.9,373.0M683.9,371.2 681.3,373.2 679.2,375.9 677.2,378.6 674.6,380.7M707.8,375.6 704.8,377.8 702.8,381.1M698.3,365.3 696.0,368.5 693.2,371.2 689.5,372.9M666.0,373.9 663.3,376.8 659.5,378.0 656.4,380.2M666.0,373.9 669.2,375.6 671.0,379.1 674.3,380.6M656.4,380.2 656.6,383.7 655.9,387.1 655.8,387.4M641.7,428.7 643.6,427.4 646.5,426.2 648.9,423.9 651.9,423.0M651.9,423.0 651.9,419.6 650.7,416.4 651.5,412.9 651.4,412.8M651.9,423.0 655.2,425.8 659.4,427.1M667.4,412.4 665.9,409.3 663.6,406.9 662.1,406.4M346.3,267.2 344.9,270.0 342.9,272.4 340.5,274.5M340.5,274.5 342.2,277.5 344.8,280.1 345.9,283.5 347.5,286.7M356.0,272.9 355.3,276.3 355.4,279.9 354.8,283.3 353.2,286.6M347.5,286.7 353.2,286.6M368.2,270.6 369.9,273.8M369.9,273.8 368.8,277.5 366.3,280.6 365.5,284.4M365.5,284.4 362.0,286.3 358.1,286.4 354.5,287.4M353.2,286.6 354.5,287.4M359.7,301.4 358.1,298.0 357.3,294.4 356.0,290.9 354.5,287.4M359.7,301.4 356.6,303.1 354.4,305.8M343.9,306.4 345.5,307.1M343.9,306.4 342.7,302.9 342.6,299.1 339.9,296.1 339.4,292.4M339.4,292.4 342.7,291.3 345.2,289.2 347.5,286.7M354.4,305.8 351.5,306.6 348.3,306.0 345.5,307.1M320.3,262.8 321.7,266.5 323.3,270.2M309.1,276.3 308.7,272.5 306.6,269.3 305.5,265.8M309.1,276.3 314.7,277.4M314.7,277.4 317.2,274.5 319.7,271.7 323.3,270.2M335.4,260.5 334.7,263.8 331.7,265.7 329.8,268.3 328.9,271.5M323.3,270.2 328.9,271.5M340.5,274.5 337.4,274.9 334.4,275.2 331.4,274.0M331.4,274.0 328.9,271.5M301.2,287.9 301.3,284.8 301.1,281.6M314.7,277.4 315.1,281.0 317.6,283.9 318.5,287.4M308.1,296.2 312.2,296.5M301.1,281.6 303.5,279.4 305.9,277.2 309.1,276.3M312.2,296.5 314.8,293.9 315.8,290.0 318.5,287.4M332.6,310.9 335.5,309.8 338.3,308.6 341.1,307.5 343.9,306.4M339.4,292.4 336.2,292.8 333.1,291.8M332.6,310.9 329.6,310.0 326.8,308.4 323.6,307.9M323.6,307.9 325.1,305.2 327.7,303.1 328.3,299.8 330.4,297.4 332.5,295.0 333.1,291.8M331.4,274.0 332.0,277.7 331.8,281.3 331.5,284.9 330.0,288.4M318.5,287.4 322.3,288.6 326.2,288.4 330.0,288.4M333.1,291.8 330.0,288.4M306.9,315.5 309.5,313.7 312.1,311.8 314.9,310.2 317.5,308.5 320.4,307.1M306.9,315.5 306.1,319.9 305.3,324.3M305.3,324.3 306.1,326.1M306.1,326.1 309.3,325.7 312.5,327.2 315.7,325.7 318.8,326.6 322.0,326.2M322.0,326.2 321.4,323.1 322.8,320.1 321.5,317.0 322.8,314.0 322.2,311.0 323.2,308.0M323.2,308.0 320.4,307.1M298.8,305.5 300.4,308.3 302.9,310.5 304.2,313.5 306.9,315.5M312.2,296.5 313.4,299.8 316.3,301.8 319.1,303.8 320.4,307.1M286.7,318.7 289.9,319.1 293.2,319.5 295.8,321.9 298.9,323.1 301.9,324.3 305.3,324.3M301.8,338.8 302.6,338.3M302.6,338.3 304.5,335.5 304.2,332.1 305.9,329.3 306.1,326.1M323.6,307.9 323.2,308.0M365.4,321.2 367.2,318.1 368.5,314.8 370.1,311.7 370.6,308.1M365.4,321.2 361.2,320.9 357.3,319.6M359.7,301.4 363.0,303.0 366.8,302.6 370.2,303.8M357.3,319.6 357.0,316.1 356.9,312.5 354.8,309.3 354.4,305.8M370.2,303.8 370.6,308.1M577.0,376.8 577.2,379.2 575.5,381.8 574.4,384.8 572.4,387.4M573.1,390.1 572.4,387.4M578.0,471.8 576.8,469.5M576.3,480.5 577.0,477.9 576.5,474.6 578.0,471.8M557.4,477.4 557.2,477.1 556.4,473.9M576.8,469.5 573.3,469.1 569.7,469.0 566.6,467.0 563.2,466.3M556.4,473.9 558.8,471.5 561.6,469.4 563.2,466.3M644.5,438.9 647.3,439.2 650.5,439.1 653.5,437.3 655.2,437.2M586.2,447.8 585.5,448.2 584.3,451.8 581.0,452.7 578.6,454.8M578.0,471.8 581.1,472.1 584.1,472.3 586.9,470.0 590.0,470.7 590.1,470.7M578.6,454.8 578.9,458.6 576.8,462.0 576.3,465.7 576.8,469.5M680.2,451.5 677.3,453.1 674.4,454.8 672.6,455.2M676.5,442.6 672.9,443.6 670.9,444.9M580.7,422.6 580.7,422.6 577.9,424.5 574.8,424.6M586.7,443.7 585.4,442.4 582.5,440.7 579.0,440.4 576.5,438.1 573.7,436.3 570.7,434.9M570.7,434.9 571.7,431.3 574.5,428.5 574.8,424.6M421.3,397.3 420.0,400.8 420.3,404.7 418.1,408.0 417.7,411.7M429.7,422.1 427.0,420.4 425.2,417.6 422.8,415.5 420.0,413.9 417.7,411.7M429.7,422.1 432.7,420.3 434.4,417.3M421.3,397.3 423.8,399.6 427.3,400.1 429.8,402.5 433.0,403.4 435.6,405.7M435.6,405.7 435.4,409.5 434.8,413.4 434.4,417.3M454.3,510.2 452.1,512.8 451.2,516.3 447.4,517.8 446.3,521.2M458.9,510.4 454.3,510.2M465.3,527.6 462.2,529.4 458.6,529.9 456.1,533.0 452.6,533.7M452.6,533.7 450.4,530.8 448.9,527.7 448.1,524.2 446.3,521.2M454.3,510.2 452.3,507.4 450.4,504.4 447.3,502.7M447.3,502.7 447.1,499.0 447.4,495.3 447.4,491.6 448.6,488.0M470.4,495.8 468.7,492.8 467.8,489.5M465.5,507.0 466.8,504.2 468.2,501.5 468.7,498.4 470.4,495.8M448.6,488.0 451.7,489.3 455.0,488.6 458.1,489.3 461.4,488.9 464.6,489.2 467.8,489.5M466.9,340.1 464.4,343.0 460.8,344.0 457.5,345.7 454.6,347.9M452.5,333.0 452.0,336.4 451.4,339.8 451.0,343.2 451.2,346.7M454.6,347.9 451.2,346.7M439.3,334.2 438.0,335.9M438.0,335.9 440.8,338.6 442.1,342.1 442.8,345.9 445.1,348.8M451.2,346.7 447.9,347.0 445.1,348.8M429.4,424.3 426.0,425.0 422.7,426.0 419.6,427.6 416.9,430.0 413.4,430.6 410.4,432.3M410.4,432.3 409.1,428.6 407.8,424.9 406.9,421.1M429.4,424.3 429.7,422.1M417.7,411.7 413.4,412.8 409.6,415.0M406.9,421.1 407.9,417.9 409.6,415.0M696.7,360.4 693.6,358.7 690.1,359.1 686.9,358.3M683.9,371.2 682.6,368.1 681.3,365.1M686.9,358.3 684.9,362.4 681.3,365.1M697.2,348.8 693.5,348.6 689.8,349.0 686.2,349.3M686.9,358.3 686.1,355.4 687.4,352.3 686.2,349.3M607.9,365.8 609.8,365.7 612.3,363.6 613.8,360.1 616.9,358.9M600.6,354.4 603.1,352.1 606.5,351.9M616.9,358.9 614.9,356.3 612.3,354.5 609.0,353.8 606.5,351.9M606.5,351.9 606.7,348.7 608.5,346.2 608.5,346.1M567.5,314.2 569.8,314.8 571.3,317.9 574.5,318.9 576.8,320.9M722.4,306.8 718.2,308.5 713.7,308.9M709.7,297.2 710.8,300.3 711.7,303.4 711.1,306.7M713.7,308.9 711.1,306.7M261.8,554.4 264.4,556.5 266.3,559.2 268.4,561.8 270.5,564.4 272.5,567.0M261.8,554.4 258.7,555.9 255.3,556.8 252.1,557.9 248.9,559.2M248.9,559.2 247.9,562.3 246.7,565.4 246.6,568.7 245.6,571.8M245.6,571.8 248.5,573.2 250.3,575.8 252.8,577.6M272.5,567.0 269.9,568.8 267.3,570.8 263.5,570.5 261.0,572.5 258.1,573.8 255.9,576.6 252.8,577.6M248.9,559.2 247.2,556.0 244.3,554.0 241.8,551.7 239.6,548.9 236.7,546.9M263.2,539.3 262.4,542.3 261.9,545.3 263.4,548.5 262.6,551.4 261.8,554.4M263.2,539.3 260.1,538.7 257.0,538.1 253.9,540.3 250.8,538.5 247.7,538.4 244.6,538.5 241.5,539.1M236.7,546.9 237.7,543.9 240.7,542.2 241.5,539.1M464.1,548.3 465.7,545.2 468.9,543.7 470.8,540.9 473.7,539.1M464.1,548.3 465.7,550.9 467.3,553.6 469.3,555.9 472.0,557.6 473.2,559.2M303.1,659.8 301.7,662.9 299.6,665.5 297.4,668.0 295.0,670.3 294.1,673.7 291.7,676.1M303.1,659.8 301.3,657.1 297.6,656.3 295.6,653.7 294.0,650.7 291.3,648.8M291.7,676.1 289.0,673.5 284.9,673.2 282.1,670.9 279.2,668.5M291.3,648.8 287.7,650.8 283.3,649.4 279.7,651.4M279.7,651.4 279.7,654.7 278.9,657.8 277.1,660.7 277.1,663.9M277.1,663.9 279.2,668.5M298.9,631.5 297.0,634.1 296.1,637.2 294.0,639.7 294.3,643.3 293.5,646.4 291.3,648.8M298.9,631.5 301.9,632.7 303.7,635.7 307.4,635.8 309.4,638.5 312.1,640.0 314.9,641.5M314.9,641.5 315.4,644.5M305.3,659.4 306.6,656.7 308.5,654.4 311.2,652.5 311.9,649.4 313.9,647.1 315.4,644.5M305.3,659.4 303.1,659.8M252.9,655.9 256.0,654.4 257.2,650.8 261.0,650.0 263.1,647.4 265.3,644.9 268.1,643.1 270.2,640.5M257.9,662.9 261.0,664.2 264.3,663.7 267.5,663.3 270.7,663.0 273.9,663.6 277.1,663.9M270.2,640.5 271.9,643.9 275.2,645.8 277.2,648.8 279.7,651.4M264.9,683.4 267.0,680.7 269.3,678.1 271.2,675.1 274.5,673.5 276.5,670.7 279.2,668.5M300.8,700.1 299.7,696.8 298.8,693.6 296.0,691.0 294.9,687.8 293.6,684.6 292.7,681.3M300.8,700.1 297.6,700.7 294.9,702.6 291.9,703.8 288.9,705.0 285.6,705.2M284.2,703.6 285.6,705.2M284.2,703.6 285.2,700.3 285.9,697.0 285.1,693.4 287.7,690.4 287.2,686.9M287.2,686.9 290.5,684.5 292.7,681.3M305.3,712.1 302.8,715.7M286.6,712.3 286.0,708.7 285.6,705.2M302.0,700.8 300.8,700.1M302.0,700.8 302.6,704.7 304.4,708.3 305.3,712.1M272.5,701.9 276.4,702.4 280.4,702.6 284.2,703.6M271.8,689.2 275.0,689.6 278.0,688.3 281.0,687.6 284.1,687.3 287.2,686.9M293.1,680.3 292.7,681.3M293.1,680.3 291.7,676.1M293.1,680.3 296.1,680.7 298.9,682.3 302.1,680.8 305.2,681.1 308.1,681.5 311.1,681.9 314.0,683.3M302.0,700.8 304.7,698.6 307.9,697.2 310.8,695.5 313.9,694.0M314.0,683.3 315.1,686.9 314.9,690.5 313.9,694.0M328.8,714.8 330.0,711.6 333.1,709.7 335.4,707.4 336.5,704.0 338.9,701.7M328.8,714.8 323.9,715.8M323.9,715.8 320.7,713.7 318.8,710.5M318.8,710.5 318.7,707.2 320.5,704.0 319.7,700.6M319.7,700.6 322.5,698.4 326.1,698.7 329.2,697.8 332.2,696.2M338.9,701.7 334.8,699.9 332.2,696.2M344.1,724.4 341.8,722.5 338.5,722.1 336.9,718.9 333.4,718.8 331.3,716.5 328.8,714.8M340.8,701.8 338.9,701.7M320.8,727.4 322.4,724.7 323.3,721.9 322.3,718.5 323.9,715.8M305.3,712.1 308.6,710.9 312.0,710.8 315.5,711.9 318.8,710.5M313.9,694.0 317.1,697.0 319.7,700.6M276.4,267.1 275.7,270.2 274.7,273.4 276.0,276.8 276.2,280.1 274.8,283.2M276.4,267.1 278.9,269.1 282.2,269.3 284.7,271.1 288.3,270.5 290.7,272.7M290.7,272.7 292.3,276.9M292.3,276.9 289.8,278.8 288.7,281.7 286.4,283.8 283.8,285.5 282.8,288.6M282.8,288.6 280.8,285.9 277.5,285.0 274.8,283.2M275.3,265.4 276.4,267.1M266.4,286.2 268.8,284.1 272.3,285.1 274.8,283.2M298.8,262.2 296.6,264.6 295.2,267.8 292.4,269.8 290.7,272.7M301.1,281.6 298.7,279.0 295.0,278.9 292.3,276.9M284.9,295.1 282.8,292.2 282.8,288.6M722.7,307.0 722.4,310.3 724.6,313.2 724.4,316.6M735.9,309.6 734.7,312.6 733.2,315.5 732.2,318.6M732.2,318.6 728.2,318.1 724.4,316.6M357.3,319.6 353.3,321.9M345.5,307.1 345.9,310.3 345.9,313.5 345.5,316.7 345.9,319.9M353.3,321.9 349.9,319.8 345.9,319.9M312.8,368.3 312.9,371.3 313.6,374.2M316.5,365.0 319.7,365.4 323.2,363.7 326.8,364.5M326.8,364.5 327.5,368.3 327.2,371.9 325.3,375.5 326.0,379.2M313.6,374.2 316.7,375.6 319.6,377.4 322.6,378.8 326.0,379.2M332.0,360.0 329.5,362.3 326.8,364.5M332.0,360.0 332.1,357.1M332.1,357.1 331.2,355.7M376.6,292.5 377.6,291.8M376.6,292.5 375.2,296.1 374.2,299.8 371.5,302.7M371.5,302.7 374.4,304.6 378.1,304.0 381.0,305.9 384.7,305.2 387.6,307.2M387.6,307.2 390.0,305.1 392.9,303.6 394.3,300.4 395.6,299.3M369.9,273.8 373.0,275.2 376.5,275.7 379.7,276.9 381.3,277.7M365.5,284.4 368.9,285.6 370.4,289.3 374.5,289.6 375.3,290.8M375.8,291.4 376.6,292.5M370.2,303.8 371.5,302.7M370.6,308.1 372.6,310.5 376.0,311.4 377.9,313.9 379.6,316.6 382.1,318.5M387.4,316.8 382.1,318.5M387.4,316.8 387.9,313.6 388.3,310.4 387.6,307.2M394.8,321.1 390.6,319.7 387.4,316.8M400.7,317.2 397.8,319.2 394.8,321.1M400.7,317.2 402.2,314.2 401.1,310.8 402.3,307.8 403.3,305.4M437.0,320.0 436.4,320.8 433.2,321.9 430.7,323.8 428.1,325.7 425.6,327.7M438.0,335.9 434.3,337.5 430.3,337.8 426.4,338.6M426.4,338.6 427.2,334.9 426.1,331.3 425.6,327.7M406.2,336.2 409.0,335.9M394.8,323.4 396.4,326.6 398.7,329.0 401.1,331.5 404.4,333.1 406.2,336.2M400.7,317.2 403.2,319.5 406.8,319.6 409.4,321.9 412.7,322.5M394.8,321.1 394.8,323.4M409.0,335.9 409.6,332.4 411.6,329.4 411.5,325.8 412.7,322.5M419.9,314.1 419.7,314.8 417.2,317.1 416.6,320.1M425.6,327.7 422.3,325.6 419.0,323.4 416.6,320.1M416.6,320.1 412.7,322.5M426.4,338.6 426.3,338.8M445.1,348.8 441.8,353.4M441.8,353.4 438.7,352.9 435.6,351.9 432.4,351.9 429.2,352.3M429.2,352.3 428.9,348.9 426.8,345.8 427.8,342.0 426.3,338.8M409.0,335.9 413.4,339.3M426.3,338.8 423.1,338.8 419.9,339.6 416.7,339.9 413.4,339.3M394.8,323.4 392.7,325.8 391.0,328.4 389.8,331.5 387.1,333.4 385.8,336.4M406.2,336.2 403.8,337.8M403.8,337.8 400.4,338.7 397.0,337.5 393.7,336.4 390.3,338.5 386.9,337.3M385.8,336.4 386.9,337.3M377.5,325.8 374.4,325.1 371.6,323.4 368.3,323.3 365.6,321.5M377.5,325.8 377.9,329.3 379.9,332.3 380.2,335.8M380.2,335.8 377.6,337.7M377.6,337.7 373.7,337.7 369.8,337.8 365.9,338.4M365.6,321.5 365.6,324.7 364.0,327.6 363.6,330.7 363.1,333.8M363.1,333.8 365.9,338.4M382.1,318.5 380.5,322.7 377.5,325.8M365.4,321.2 365.6,321.5M385.8,336.4 380.2,335.8M353.3,321.9 352.6,325.2 352.7,328.5 352.9,331.8M352.9,331.8 356.2,332.8 359.7,333.2 363.1,333.8M365.9,338.4 365.1,339.7M352.9,331.8 350.6,334.3 346.8,334.9 344.7,337.7M344.7,337.7 345.6,341.2 347.8,344.1 349.3,347.3M365.1,339.7 361.7,340.6 358.8,342.8 355.8,344.6 352.3,345.4 349.3,347.3M570.7,332.9 567.6,332.8 565.1,334.8M579.9,344.7 577.4,347.3 574.2,348.7 570.7,349.4 567.9,351.5 567.8,351.6M565.4,352.6 564.8,352.9M564.8,352.9 564.5,352.6M569.0,359.1 568.0,358.3 565.5,356.1M564.8,352.9 565.5,356.1M578.6,454.8 575.6,454.4 572.9,452.7 569.7,452.7 566.8,451.6M563.2,466.3 562.5,462.7 561.2,459.3M566.8,451.6 564.8,454.1 563.2,456.8 561.2,459.3M525.8,518.4 524.8,516.9 523.8,513.8 521.5,511.8 519.4,509.6M535.2,506.1 534.5,504.8 531.9,503.1M531.9,503.1 528.6,504.4 525.1,505.4 522.3,507.7 519.4,509.6M537.6,489.1 537.2,489.2 535.3,491.9 532.7,493.7M531.9,503.1 532.7,500.0 531.6,496.8 532.7,493.7M429.4,424.3 431.8,427.3 433.1,430.9M434.4,417.3 438.1,416.6 441.6,417.6 445.1,418.8 448.8,417.4 452.3,418.7M452.3,418.7 454.2,421.6 453.6,425.4 455.8,428.3M433.1,430.9 436.4,430.9 439.6,432.1 442.9,432.0 446.2,432.4 449.6,431.9 452.7,433.4M455.8,428.3 452.7,433.4M501.6,354.8 502.3,358.3 501.6,361.8 501.2,365.3M488.3,347.3 488.7,351.1 486.4,354.5 486.9,358.3 486.5,362.0M501.2,365.3 498.3,364.6 495.2,364.6 492.4,363.2 489.6,361.7 486.5,362.0M464.1,548.3 463.4,548.4M452.6,533.7 451.6,537.4M451.6,537.4 454.6,538.8 457.0,541.0 458.6,544.1 461.7,545.4 463.4,548.4M463.2,567.0 463.0,566.9 461.0,564.5 458.2,563.1 455.6,561.5 453.2,559.5M463.4,548.4 460.8,550.1 459.1,552.7 458.1,555.8 454.5,556.6 453.2,559.5M444.2,575.0 446.3,577.2 448.5,579.4 448.9,579.7M444.2,575.0 445.5,572.1 446.4,569.0 448.2,566.3 449.9,563.5 450.1,560.2M453.2,559.5 450.1,560.2M451.6,537.4 448.6,538.8 445.6,540.4 442.6,541.9 439.6,543.4M450.1,560.2 447.0,558.2 443.8,556.3 442.2,552.3 438.7,550.9M438.7,550.9 439.6,547.2 439.6,543.4M446.3,521.2 443.4,522.1 440.3,522.2M440.3,522.2 438.2,525.3 437.0,529.0 434.0,531.5 432.6,535.1M439.6,543.4 437.4,540.5 435.1,537.7 432.6,535.1M445.7,400.0 449.7,402.3M445.7,400.0 442.0,401.2 438.6,403.2 435.6,405.7M452.3,418.7 452.4,415.2 454.0,412.1M454.0,412.1 452.1,409.1 451.7,405.3 449.7,402.3M436.5,384.8 436.9,381.3 435.2,378.3 435.3,374.9 434.0,371.8M436.5,384.8 433.3,385.7 430.7,388.0 427.7,389.3 424.4,390.2 421.7,392.2M423.3,371.8 422.5,374.7 421.6,377.7 419.6,380.2 418.9,383.2 417.2,385.8M429.9,369.8 426.5,370.5 423.3,371.8M429.9,369.8 434.0,371.8M417.2,385.8 419.9,388.7 421.7,392.2M421.3,397.3 421.1,396.6M443.4,387.8 445.0,390.6 445.1,393.8 444.7,397.0 445.7,400.0M443.4,387.8 440.1,386.0 436.5,384.8M421.7,392.2 421.1,396.6M409.6,415.0 406.8,412.7 405.9,408.9 402.4,407.1 400.7,403.8 398.6,400.9M421.1,396.6 417.6,396.1 414.9,399.0 411.3,397.5 408.0,398.2 404.9,399.3 402.0,401.4 398.6,400.9M441.8,353.4 442.6,355.6M429.9,369.8 430.0,366.8 427.5,364.2 427.4,361.1 427.4,358.1 426.9,355.1M434.0,371.8 437.1,370.8 439.4,368.5M426.9,355.1 429.2,352.3M439.4,368.5 440.2,365.3 441.0,362.0 442.4,359.0 442.6,355.6M443.4,387.8 446.2,386.2 448.8,384.3M448.8,384.3 449.3,381.0 450.9,378.1 452.2,375.0 452.4,371.6M439.4,368.5 442.6,369.6 445.9,369.9 449.2,370.7 452.4,371.6M406.9,421.1 403.8,420.8 400.5,421.5 397.5,420.4 394.3,420.1 391.1,420.1 388.0,419.0M397.8,400.7 398.6,400.9M397.8,400.7 394.0,403.0 389.6,404.1M389.6,404.1 389.2,407.8 387.9,411.4 387.8,415.2 388.0,419.0M656.4,380.2 653.9,377.6 650.8,375.4 649.2,372.0M639.5,385.1 639.6,382.7 640.7,379.4 641.9,376.2 642.8,372.9M642.8,372.9 646.1,372.9 649.2,372.0M616.9,358.9 618.2,358.9M618.2,358.9 619.6,356.0 618.7,352.8 618.4,349.7 620.2,346.9 620.4,343.8 620.2,342.0M662.4,317.3 661.5,318.4 658.9,320.4 656.8,322.8 654.7,325.2 654.6,325.3M702.6,294.6 702.0,298.2 699.9,301.1 699.2,304.6 697.0,307.6M687.3,303.4 688.0,304.6 690.2,306.8M690.2,306.8 693.5,307.6 697.0,307.6M711.1,306.7 707.8,306.6 705.4,309.5 701.8,308.1 699.1,310.0M697.0,307.6 699.1,310.0M239.5,597.0 243.8,595.5 248.2,595.9M239.5,597.0 238.1,599.8 239.4,603.3 237.8,606.1 236.9,609.1 236.8,612.2 235.7,615.1 235.1,618.1M248.2,595.9 250.2,598.6 250.3,601.9 251.1,605.0 253.5,607.5 253.1,611.0 254.7,613.8M254.7,613.8 251.7,615.6 248.1,615.9 245.4,618.5 241.9,619.0 238.5,619.9M235.1,618.1 238.5,619.9M226.9,589.8 229.5,592.6 233.7,592.5 236.1,595.6 239.5,597.0M214.7,597.8 217.3,597.4 219.6,595.4 221.7,593.1 223.7,590.6 226.9,589.8M221.3,621.0 223.0,620.6 225.9,619.2 228.9,618.5 232.1,619.3 235.1,618.1M242.7,640.0 245.1,635.0M245.1,635.0 243.1,632.3 241.7,629.3 241.2,625.9 240.5,622.6 238.5,619.9M254.7,613.8 258.0,615.1M245.1,635.0 248.3,634.6 251.4,634.3 254.0,631.6 257.4,632.0 260.7,632.0 263.6,630.4M258.0,615.1 259.8,617.9 259.2,621.6 260.5,624.6 262.5,627.4 263.6,630.4M270.2,640.5 270.4,637.1 269.5,633.8M263.6,630.4 267.0,631.3 269.5,633.8M431.2,439.8 433.0,437.1 431.3,433.6 433.1,430.9M410.4,432.3 409.2,435.7M431.2,439.8 427.8,440.7 425.0,442.7 422.1,444.5 418.7,445.3M409.2,435.7 410.9,438.8 413.5,441.0 416.5,442.8 418.7,445.3M370.6,435.3 371.7,431.9 374.1,429.5 376.3,427.0 378.4,424.3 380.7,421.9M370.6,435.3 373.2,437.8 376.2,439.6 379.2,441.6 381.7,444.2M381.7,444.2 384.9,442.5 386.2,438.7 389.3,436.9 392.1,434.8M392.1,434.8 390.0,432.3 390.5,428.9 390.0,425.9 387.4,423.6 386.9,420.5M386.9,420.5 383.9,421.5 380.7,421.9M409.2,435.7 406.4,437.4 403.3,438.3M403.3,438.3 399.6,437.2 396.2,434.9 392.1,434.8M388.0,419.0 386.9,420.5M363.9,435.6 367.2,435.9 370.6,435.3M363.9,435.6 362.7,439.5 360.3,442.7M381.7,444.2 381.2,447.3 383.4,450.2 382.5,453.3M369.1,458.8 367.0,456.5 365.6,453.8 365.2,450.5 362.7,448.4 362.4,445.1 360.3,442.7M369.1,458.8 370.2,459.0M370.2,459.0 373.5,458.2 376.4,456.4 379.5,454.9 382.5,453.3M403.3,438.3 402.5,441.2 400.9,443.9 401.6,447.2 399.4,449.7 399.1,452.7 397.6,455.4 397.8,458.6M397.8,458.6 394.0,460.4M382.5,453.3 385.0,455.6 387.8,457.5 390.7,459.2 394.0,460.4M319.9,437.4 323.4,437.4 326.2,439.7 329.1,441.5 332.6,441.5M319.9,437.4 319.3,433.7 317.2,430.7 316.7,427.0 314.6,423.9M314.6,423.9 318.2,423.0 320.6,420.3M320.6,420.3 323.8,420.8 326.8,422.4 330.2,422.3 333.1,424.2 336.5,424.2M338.9,430.0 338.8,426.6 336.5,424.2M338.9,430.0 336.6,434.0 336.3,438.6M336.3,438.6 332.6,441.5M363.9,435.6 361.3,433.0 359.5,429.9 357.8,426.7M357.8,426.7 354.5,426.1 351.4,427.0 348.3,427.9 345.2,428.8 342.3,430.5 338.9,430.0M360.3,442.7 357.9,445.0 354.2,444.7 351.6,446.5M351.6,446.5 348.8,444.5 345.1,444.2 341.9,442.8 338.9,441.1 336.3,438.6M313.4,457.6 310.4,455.3 308.1,452.4M313.4,457.6 311.8,460.5 311.2,463.7 309.3,466.4 309.6,469.9 309.1,473.2 307.4,476.0M308.1,452.4 304.4,453.3 301.4,455.7 298.2,457.7 294.7,459.0M294.7,459.0 294.4,462.7 294.9,466.3 295.3,470.0M307.4,476.0 304.0,475.2 301.8,472.0 298.3,471.5 295.3,470.0M328.2,458.5 329.9,457.3M329.9,457.3 330.6,454.2 329.9,450.8 330.4,447.6 331.7,444.6 332.6,441.5M328.2,458.5 324.5,458.7 320.8,457.1 317.1,456.7 313.4,457.6M307.6,446.7 308.1,452.4M307.6,446.7 309.9,444.7 312.9,443.5 314.9,441.0 316.8,438.4 319.9,437.4M328.2,458.5 327.9,461.8 327.9,465.1 327.0,468.4 326.8,471.7 326.9,475.0M326.9,475.0 324.2,476.6 321.0,476.8 317.9,476.9 315.3,478.6 312.2,478.8 309.4,480.1M309.4,480.1 307.4,476.0M329.9,457.3 333.2,459.1 336.7,460.0 340.6,460.2 343.8,462.2M351.6,446.5 351.0,449.7 351.2,453.1 349.3,456.1 349.6,459.4M343.8,462.2 346.6,460.7 349.6,459.4M369.1,458.8 365.6,459.8 362.8,462.5 359.3,463.4M349.6,459.4 353.1,459.9 355.8,462.5 359.3,463.4M219.0,428.3 220.1,431.4 221.6,434.3 223.3,437.2 224.8,440.1M209.6,442.0 212.8,444.0 216.7,443.5 220.2,444.6M220.2,444.6 222.1,442.1 224.7,440.6M224.8,440.1 224.7,440.6M230.3,420.0 233.4,422.2 236.2,424.7 238.4,427.8M224.8,440.1 226.5,437.4 229.1,435.7 231.2,433.4 234.0,432.0 236.5,430.2 238.4,427.8M242.4,520.5 242.1,517.4 241.6,514.4 240.2,511.6 238.1,509.0 237.7,505.9M237.7,505.9 234.5,504.9 231.0,504.5 228.2,502.2M218.8,523.6 222.1,523.6 225.1,525.4 228.3,525.4 231.7,525.1 234.7,526.9 238.0,526.5M238.0,526.5 241.2,524.2 242.4,520.5M218.8,523.6 219.3,520.6 219.4,517.5 219.4,514.3 219.9,511.3 221.9,508.5 221.8,505.4M221.8,505.4 224.5,502.9 228.2,502.2M249.5,486.7 246.4,485.9 243.2,487.1 240.1,486.7 237.1,485.1 233.9,485.9 230.8,485.6M249.5,486.7 250.0,490.3 250.3,494.0 252.0,497.3M252.0,497.3 249.6,499.9 246.7,501.5 243.3,502.3 240.8,504.5 237.7,505.9M228.2,502.2 229.2,499.0 228.6,495.5 229.2,492.2 229.3,488.8 230.8,485.6M444.2,575.0 441.0,575.5 437.7,575.9 434.5,574.8M438.7,550.9 436.3,553.1 432.9,553.7 430.4,555.9 427.5,557.3M434.5,574.8 433.0,572.1 432.1,569.0 430.5,566.3 430.2,563.0 429.1,560.1 427.5,557.3M263.2,539.3 266.0,536.4M241.5,539.1 241.2,535.8 238.9,533.0 238.1,529.9 238.0,526.5M242.4,520.5 245.7,519.5 249.2,519.7 252.6,519.4 255.9,518.3 259.3,518.1M266.0,536.4 265.7,533.1 263.1,530.6 263.2,527.1 261.2,524.4 261.4,520.8 259.3,518.1M252.0,497.3 254.4,500.2 258.2,501.3 261.7,502.8 264.0,505.9M264.0,505.9 264.5,507.0M259.3,518.1 260.3,515.2 261.6,512.4 263.2,509.8 264.5,507.0M266.0,536.4 269.1,537.4 272.1,537.2 275.1,535.5 278.1,536.1M278.1,536.1 279.3,532.9 282.0,530.3 282.1,526.5 285.0,524.1 286.9,521.2 287.7,517.7M264.5,507.0 267.7,508.4 271.3,508.7 274.9,508.6 278.0,510.4 281.6,510.4 284.8,512.2M284.8,512.2 285.9,515.1 287.7,517.7M274.8,486.4 279.0,486.1 283.2,486.1M283.2,486.1 286.1,487.6 288.1,490.1 290.8,491.7 292.7,494.4M274.8,486.4 273.9,489.6 271.2,491.7 270.7,495.1 269.5,498.0 267.5,500.5 266.3,503.5 264.0,505.9M284.8,512.2 285.1,508.8 287.4,506.2 287.7,502.8 290.2,500.4 290.6,497.0 292.7,494.4M283.2,486.1 285.1,483.4 285.8,480.3 286.3,477.1 287.3,474.1M287.3,474.1 289.5,471.8 293.0,472.2 295.3,470.0M309.4,480.1 309.6,483.3 307.1,486.0 307.4,489.2 307.1,492.2M292.7,494.4 296.3,493.6 300.0,494.2 303.6,493.3 307.1,492.2M305.3,659.4 307.3,661.8 310.9,662.2 312.7,664.9 315.2,666.8 317.8,668.5M314.0,683.3 316.0,680.3 319.3,678.9M317.8,668.5 317.4,672.1 318.5,675.5 319.3,678.9M332.2,696.2 332.0,692.5 331.6,688.9 331.7,685.2 330.6,681.6M319.3,678.9 323.1,679.6 326.8,681.1 330.6,681.6M350.6,684.5 347.9,682.3 344.3,682.8 341.4,681.1 338.3,680.2 335.1,679.3M335.1,679.3 330.6,681.6M301.7,440.8 303.0,437.7 303.1,434.5 303.3,431.3 303.0,428.4M307.6,446.7 304.3,444.1 301.7,440.8M314.6,423.9 310.4,423.0M304.0,427.6 307.2,426.3 310.4,423.0M297.0,365.7 297.0,365.4M297.4,361.7 297.6,361.3M307.7,389.6 307.7,389.7 309.5,392.5M309.5,392.5 305.9,392.7 303.1,395.4 300.0,394.9M307.7,381.1 308.3,379.5 312.2,377.8 313.6,374.2M303.6,361.0 301.9,359.8 301.0,359.9M314.5,343.3 314.4,343.0M302.6,338.3 305.8,338.9 308.2,341.4 311.4,342.1 314.4,343.0M665.5,345.7 662.4,344.5 658.9,345.3 655.8,344.1M655.8,344.1 652.8,342.9 652.5,342.3M661.6,331.8 662.7,331.9M670.2,343.1 665.5,345.7M670.2,343.1 670.4,338.7M670.4,338.7 668.4,335.8 665.4,334.0 662.7,331.9M665.3,317.9 666.4,321.6 666.8,325.4M665.3,317.9 664.3,316.8M662.7,331.9 665.3,329.0 666.8,325.4M696.1,337.9 692.9,338.2 689.7,337.0 686.5,337.6M686.2,349.3 683.2,346.6M683.2,346.6 683.6,342.0 685.9,338.1M686.5,337.6 685.9,338.1M670.2,343.1 673.8,345.9 678.0,347.5M670.4,338.7 673.8,335.9 676.0,332.1M678.0,347.5 683.2,346.6M685.9,338.1 683.0,335.4 679.2,334.3 676.0,332.1M666.8,325.4 670.3,326.0 673.3,327.6 675.9,329.9M675.9,329.9 676.0,332.1M313.7,400.2 316.7,402.5 320.8,402.9 323.5,405.7M313.7,400.2 312.9,396.8 311.2,393.6M311.2,393.6 314.3,392.3 316.7,389.6 320.4,389.2 323.3,387.4 326.4,386.1 329.0,383.8M323.5,405.7 326.7,405.1 329.7,403.8 332.8,403.2 336.0,402.9M336.0,402.9 335.6,399.3 336.4,395.7 335.3,392.2 335.3,388.6M335.3,388.6 332.0,384.8M329.0,383.8 332.0,384.8M310.4,423.0 309.3,419.3 307.6,415.8 305.9,412.3M305.9,412.3 308.2,409.5 309.8,406.3 312.7,403.8 313.7,400.2M320.6,420.3 322.5,416.9 323.2,413.2 323.7,409.6 323.5,405.7M305.9,412.3 302.3,411.3 301.4,411.3M309.5,392.5 311.2,393.6M326.0,379.2 329.0,383.8M354.5,384.7 351.5,386.1 348.2,386.4 345.0,387.3 341.5,386.4 338.3,387.1 335.3,388.6M354.5,384.7 354.3,379.0M354.3,379.0 350.7,377.4 349.4,373.2 346.0,371.4 343.0,369.2M341.6,369.2 339.8,371.6 338.8,374.6 336.7,376.9 335.5,379.7 332.8,381.7 332.0,384.8M343.0,369.2 341.6,369.2M332.0,360.0 334.4,362.3 337.6,363.8 338.8,367.3 341.6,369.2M343.6,337.1 340.5,338.0 337.2,337.4 334.4,339.4 331.2,339.8M343.6,337.1 343.5,333.6 341.9,330.5 341.4,327.1 339.8,324.0M336.9,322.9 339.8,324.0M336.9,322.9 333.6,323.8 330.6,325.6 327.5,327.3 324.2,328.2M331.2,339.8 328.2,337.6 325.4,335.2M324.2,328.2 325.7,331.6 325.4,335.2M349.3,348.1 349.3,347.3M332.1,357.1 333.3,356.8M331.6,343.7 331.7,343.3 331.2,339.8M344.7,337.7 343.6,337.1M345.9,319.9 342.3,321.1 339.8,324.0M332.6,310.9 332.6,314.3 335.0,316.8 334.8,320.3 336.9,322.9M322.0,326.2 324.2,328.2M314.4,343.0 317.1,341.0 320.4,339.9 323.1,337.8 325.4,335.2M413.4,339.3 412.0,342.5 413.4,346.0 412.4,349.3M426.9,355.1 421.9,355.9M421.9,355.9 418.7,353.8 415.1,352.2 412.4,349.3M423.3,371.8 420.1,371.0 418.2,368.0 415.3,366.9 412.4,365.7M421.9,355.9 420.0,358.8 416.4,360.1 414.0,362.5 412.4,365.7M412.4,349.3 408.8,351.5 406.1,354.9M403.8,337.8 401.9,340.7 400.3,343.7 400.5,347.5 397.9,350.1 397.0,353.4M397.0,353.4 400.0,353.9 402.9,355.3 406.1,354.9M386.9,337.3 388.8,340.0 389.5,343.1 391.3,345.8 391.8,348.9 392.3,352.1M392.3,352.1 396.4,353.6M397.0,353.4 396.4,353.6M412.4,365.7 412.2,365.7M406.1,354.9 407.4,357.7 409.2,360.2 411.1,362.8 412.2,365.7M343.0,369.2 345.6,367.0 347.6,364.5 350.7,362.9 352.1,359.7 354.7,357.6M354.3,379.0 355.8,375.5 358.2,372.7 360.6,369.9 363.5,367.5M363.5,367.5 360.7,365.6 358.5,363.0 357.7,359.3 354.7,357.6M365.1,339.7 366.7,343.3 365.7,347.1 366.4,350.7M349.5,349.5 351.1,351.7 352.4,354.7 354.6,357.0M366.4,350.7 363.6,352.6 360.3,353.5 357.1,354.6 354.6,357.0M354.7,357.6 354.6,357.0M566.3,401.1 565.2,402.7 565.1,405.8M578.7,410.0 577.0,410.9 574.7,413.6 571.5,413.6M565.1,405.8 566.9,408.8 570.1,410.4 571.5,413.6M574.8,424.6 573.1,421.8 570.8,419.3M571.5,413.6 570.8,419.3M534.8,443.5 531.6,443.4 529.1,441.4 526.1,440.8M534.8,443.5 534.6,440.1 535.7,436.9 537.2,433.8 537.9,430.6M526.1,440.8 525.0,436.7 524.3,432.6M524.3,432.6 526.3,430.3 529.4,429.2 531.1,426.4 533.7,424.8M537.9,430.6 535.9,427.6 533.7,424.8M510.6,431.8 510.4,435.0 509.8,438.0 507.9,440.7 506.9,443.6M515.0,448.6 512.2,447.1 509.2,445.9 506.9,443.6M515.0,448.6 517.9,446.7 520.0,443.8 523.7,443.2 526.1,440.8M510.6,431.8 514.2,428.9M514.2,428.9 517.3,430.8 520.8,431.6 524.3,432.6M556.4,473.9 552.9,472.2 549.6,470.3 546.1,468.7M539.4,485.6 539.0,484.6 536.9,481.6 536.8,477.9M536.8,477.9 538.4,474.8 540.9,472.7 543.8,471.0 546.1,468.7M566.8,451.6 564.0,448.3 563.4,444.0M570.7,434.9 565.4,436.7M563.4,444.0 564.1,440.3 565.4,436.7M570.8,419.3 567.7,419.4 564.8,420.6 561.7,420.7 558.7,421.4M558.7,421.4 560.0,424.3 559.7,427.5 561.7,430.2 561.5,433.5M565.4,436.7 561.5,433.5M482.8,517.4 485.7,515.4 487.8,512.4 490.5,510.1M506.4,527.0 505.4,525.7 506.7,522.6 506.0,519.5 505.6,516.4 506.3,513.3M506.3,513.3 503.2,512.5 499.9,512.5 496.9,510.8 493.5,511.6 490.5,510.1M519.4,509.6 516.0,508.1 512.3,507.7M506.3,513.3 509.3,510.5 512.3,507.7M470.4,495.8 473.8,495.1 477.2,495.5 480.5,496.6 483.9,495.5 487.3,496.4M490.5,510.1 490.7,506.4 490.0,503.0 488.0,499.8 487.3,496.4M479.7,476.4 483.1,478.6 487.2,478.7M487.2,478.7 488.4,481.8 489.8,484.7 491.0,487.8 491.1,491.1M469.9,481.3 468.6,485.3 467.8,489.5M479.7,476.4 476.5,478.1 473.1,479.5 469.9,481.3M487.3,496.4 490.0,494.4 491.1,491.1M481.7,393.7 481.6,393.6M491.9,397.4 488.6,396.0 484.7,395.9 481.7,393.7M491.9,397.4 494.7,395.1 497.1,392.4 499.2,389.4M499.2,389.4 496.5,386.9 495.6,383.5 494.4,380.3M494.4,380.3 489.5,380.2M481.6,393.6 483.4,391.1 485.4,388.6 486.3,385.6 487.7,382.8 489.5,380.2M457.7,386.4 458.9,389.6 461.1,392.2 462.8,395.1M457.7,386.4 460.5,384.9 461.8,381.8 464.1,379.8M464.1,379.8 466.6,382.4 470.4,382.9 472.8,385.4M462.8,395.1 465.6,395.7M465.6,395.7 468.2,393.8 471.3,392.5 473.6,390.0M472.8,385.4 473.6,390.0M449.7,402.3 452.8,400.1 456.3,398.9 459.1,396.1 462.8,395.1M448.8,384.3 451.8,384.9 454.5,386.8 457.7,386.4M481.6,393.6 477.2,392.8 473.6,390.0M489.5,380.2 487.0,377.1 482.9,376.2 480.4,373.2M480.0,373.4 480.4,373.2M480.0,373.4 478.0,376.3 476.9,379.7 474.5,382.4 472.8,385.4M455.3,369.6 456.1,366.2 454.6,363.0M455.3,369.6 459.3,369.6 462.7,371.8M462.7,371.8 465.6,370.3M465.6,370.3 466.3,367.3 467.6,364.5 468.9,361.8 469.9,358.9 470.6,355.9M454.6,363.0 456.0,360.3 458.4,358.3 459.5,355.4M459.5,355.4 463.1,355.4 466.7,355.7 470.3,355.5M470.3,355.5 470.6,355.9M442.6,355.6 445.1,358.2 449.1,358.5 451.9,360.6 454.6,363.0M452.4,371.6 455.3,369.6M464.1,379.8 462.9,375.9 462.7,371.8M480.0,373.4 476.5,371.9 472.9,371.3 469.1,371.5 465.6,370.3M483.3,363.8 482.9,367.1 481.0,370.0 480.4,373.2M483.3,363.8 480.0,362.0 476.9,359.8 473.7,358.0 470.6,355.9M454.6,347.9 455.5,350.8 458.0,352.8 459.5,355.4M472.1,349.1 471.5,352.4 470.3,355.5M486.5,362.0 483.3,363.8M339.1,405.5 340.4,409.2M339.1,405.5 341.8,403.9 344.6,402.4 348.1,402.3 350.1,399.3 353.7,399.4 356.2,397.3 359.0,395.7M340.4,409.2 343.5,410.6 346.5,412.4 350.2,412.5 353.0,414.7 356.9,414.3 359.7,416.6M359.0,395.7 361.8,398.2 364.4,401.1 365.9,404.7M365.9,404.7 365.4,408.4 364.4,412.0M364.4,412.0 362.3,414.6 359.7,416.6M336.5,424.2 336.1,420.9 338.9,418.4 339.0,415.2 339.6,412.2 340.4,409.2M336.0,402.9 339.1,405.5M358.5,389.2 357.7,392.5 359.0,395.7M358.5,389.2 355.9,387.5 354.5,384.7M357.8,426.7 357.8,423.2 360.1,420.2 359.7,416.6M380.7,421.9 378.3,419.7 375.4,418.4 373.0,416.2 370.0,415.0 366.7,414.4 364.4,412.0M381.6,399.3 378.8,401.3 375.5,402.0 372.2,402.5 369.2,404.3 365.9,404.7M381.6,399.3 384.4,400.7 386.7,402.9 389.6,404.1M665.9,370.5 664.3,367.7 662.3,365.4 659.8,363.5 657.4,361.5M665.9,370.5 668.9,369.2 671.1,366.8 674.2,365.6 675.9,362.7M657.4,361.5 660.1,359.6 662.6,357.3 665.7,356.2M665.7,356.2 669.6,358.1 673.8,358.5M675.9,362.7 673.8,358.5M666.0,373.9 665.9,370.5M649.2,372.0 651.0,369.4 651.9,366.4 653.7,363.8 655.6,361.2M655.6,361.2 657.4,361.5M681.3,365.1 675.9,362.7M655.8,344.1 654.9,347.5 655.8,350.9 655.8,354.3 656.4,357.7 655.4,361.1M655.6,361.2 655.4,361.1M665.5,345.7 666.4,349.2 664.7,352.7 665.7,356.2M678.0,347.5 676.8,351.2 675.4,354.9 673.8,358.5M642.8,372.9 640.8,370.5 638.0,369.1M634.1,384.7 633.9,383.5 631.8,380.8 629.7,378.2 627.8,375.4M638.0,369.1 634.9,371.8 631.1,373.1 627.8,375.4M618.2,358.9 622.1,361.6M619.9,375.3 621.6,374.0M622.1,361.6 621.2,364.7 620.9,367.8 622.1,370.9 621.6,374.0M627.8,375.4 624.5,375.8 621.6,374.0M644.4,356.5 643.1,359.6 641.5,362.4 639.4,364.9 637.6,367.7M644.4,356.5 642.6,353.3M642.6,353.3 639.1,353.7 635.5,352.9 632.0,354.0M637.6,367.7 634.0,365.8 631.2,362.9 628.7,359.8M632.0,354.0 630.7,357.1 628.7,359.8M638.0,369.1 637.6,367.7M655.4,361.1 651.8,359.5 648.3,357.5 644.4,356.5M644.7,343.3 644.3,344.5 642.9,347.2 644.3,350.7 642.6,353.3M629.4,344.6 628.8,348.0 630.9,350.8 632.0,354.0M622.1,361.6 625.7,361.7 628.7,359.8M278.1,536.1 280.5,538.7 282.8,541.4 285.4,543.8 288.1,546.2 290.6,548.7M272.5,567.0 273.3,567.2M273.3,567.2 275.8,564.9 278.8,563.5 282.5,563.5 285.1,561.4M285.1,561.4 285.6,557.8 288.0,555.1 289.1,551.8 290.6,548.7M298.9,631.5 298.3,629.9M269.5,633.8 271.7,631.3 275.4,630.9 276.9,627.4 280.3,626.5 282.1,623.5 285.3,622.4M298.3,629.9 295.7,628.4 293.5,626.0 290.5,625.3 287.6,624.4 285.3,622.4M314.9,641.5 317.5,639.8 319.7,637.6 321.2,634.8 323.9,633.2 325.6,630.6M325.6,630.6 324.6,627.0 324.4,623.4 325.1,619.7M318.1,613.9 320.6,615.7 322.0,618.7 325.1,619.7M318.1,613.9 313.6,614.2M298.3,629.9 300.7,627.9 303.2,625.9 304.5,622.8 307.5,621.4 309.2,618.7 311.6,616.6 313.6,614.2M258.0,615.1 260.8,613.1 262.8,610.0 265.9,608.4 269.2,607.1 272.2,605.5 274.4,602.7M285.3,622.4 284.5,619.1 285.6,615.7 284.3,612.6M274.4,602.7 276.5,605.4 278.8,608.2 281.0,610.9 284.3,612.6M254.7,590.3 257.9,590.2 260.5,592.5 263.8,592.3 266.9,592.8 270.1,593.2 272.8,595.1M254.7,590.3 251.2,592.9 248.2,595.9M274.4,602.7 274.0,598.8 272.8,595.1M252.8,577.6 254.3,580.6 253.6,584.0 254.6,587.1 254.7,590.3M273.3,567.2 273.5,570.3 274.4,573.3 274.3,576.5 274.6,579.6 277.3,582.2 276.0,585.6 277.5,588.5M272.8,595.1 275.0,591.6 277.5,588.5M313.6,614.2 311.2,612.4 308.8,610.5 307.1,607.9 305.1,605.5 301.8,604.7 300.2,602.0M284.3,612.6 286.4,610.0 290.0,609.7 292.6,607.8 294.3,604.6 297.3,603.4 300.2,602.0M446.3,484.3 448.6,488.0M447.3,502.7 443.4,502.2 439.7,502.6 436.0,503.1 432.4,504.1M431.4,483.6 428.9,485.7 427.6,488.7M446.3,484.3 442.6,483.8 438.8,484.2 435.1,483.2 431.4,483.6M427.6,488.7 428.2,491.9 429.4,494.9 431.0,497.8 430.4,501.3 432.4,504.1M440.3,522.2 437.3,520.4 434.4,518.6 431.9,516.1 430.1,512.9 426.7,511.6M432.4,504.1 430.6,506.7 427.7,508.4 426.7,511.6M432.6,535.1 429.6,534.1 426.7,533.0 423.5,533.4M423.5,533.4 424.3,530.0 423.5,526.4 423.9,522.9 424.8,519.5 425.1,516.0 424.4,512.5M426.7,511.6 424.4,512.5M427.5,557.3 424.3,557.6 421.2,556.6M421.2,556.6 419.7,553.5 418.7,550.3 419.1,546.6 415.9,544.1 415.9,540.6M423.5,533.4 420.2,535.2 416.7,536.7M415.9,540.6 416.7,536.7M398.3,494.5 400.4,491.8 400.8,488.2 401.8,484.9 404.3,482.3M398.3,494.5 401.5,495.1 404.4,496.7 406.9,499.0 410.4,498.9 413.2,500.6M413.2,500.6 415.6,498.4 417.1,495.6 418.1,492.5 419.9,489.9M419.9,489.9 417.6,486.9 414.5,484.9 411.4,483.0 408.2,481.3M408.2,481.3 404.3,482.3M427.6,488.7 423.7,488.8 419.9,489.9M416.6,510.8 420.7,510.8 424.4,512.5M416.6,510.8 415.9,507.3 414.2,504.0 413.2,500.6M418.7,445.3 419.0,448.8 418.9,452.2M397.8,458.6 401.1,460.1 404.8,458.8 408.1,460.7 411.6,460.9M418.9,452.2 416.0,454.7 414.7,458.5 411.6,460.9M392.2,470.3 394.6,472.8 397.0,475.2 398.7,478.3 402.7,479.1 404.3,482.3M394.0,460.4 392.9,463.7 392.7,467.0 392.2,470.3M408.2,481.3 410.3,478.6 412.6,475.9 415.0,473.4 416.0,469.9M411.6,460.9 412.8,464.0 415.3,466.5 416.0,469.9M431.4,483.6 430.0,480.0 428.1,476.5 427.7,472.5M416.0,469.9 419.8,471.2 423.9,471.2 427.7,472.5M219.7,456.6 223.1,457.3 226.6,457.3 229.4,460.0 232.9,460.1M220.2,444.6 219.5,447.6 219.8,450.6 220.0,453.6 219.7,456.6M224.7,440.6 228.1,441.6 230.7,443.9 233.5,446.0 236.5,447.5 239.4,449.3M239.4,449.3 237.7,452.0 235.9,454.6 233.8,457.0 232.9,460.1M186.6,468.3 187.0,471.7 188.9,474.4M167.2,483.4 170.1,485.0 173.3,486.0 176.7,486.9 179.1,489.6 182.2,490.7 182.9,491.1M227.4,478.4 225.6,475.9 223.1,474.0 220.7,472.1 219.2,469.3 216.6,467.4 214.7,465.0 212.8,462.6M227.4,478.4 227.2,480.7M227.2,480.7 223.5,480.8 220.2,482.4 216.5,482.4 213.3,484.5M213.3,484.5 209.6,482.3 206.0,479.7M206.0,479.7 206.8,476.5 207.1,473.1 207.5,469.7 207.4,466.3 209.1,463.2M209.1,463.2 212.8,462.6M235.4,467.5 234.9,463.6 232.9,460.1M235.4,467.5 232.7,469.8 231.3,472.9 230.0,476.1 227.4,478.4M219.7,456.6 217.3,458.5 215.4,461.0 212.8,462.6M221.8,505.4 218.2,504.0 215.4,500.9 211.5,499.9M211.5,499.9 212.8,497.0 212.3,493.8 213.8,490.8 212.8,487.5 213.3,484.5M230.8,485.6 229.7,482.6 227.2,480.7M211.5,499.9 208.5,501.0 205.3,501.1 202.3,502.2 201.4,502.5M197.8,481.9 199.1,481.7 202.9,482.0 206.0,479.7M200.7,458.5 203.3,460.5 206.0,462.1 209.1,463.2M216.8,525.2 216.7,528.3 214.9,530.9 214.1,533.8 214.6,537.1 212.7,539.7M216.8,525.2 213.5,524.3 210.6,522.8 207.9,520.9 204.8,519.8 202.0,518.0 200.3,517.3M212.7,539.7 209.5,539.7 206.5,540.7 203.9,542.3M218.8,523.6 216.8,525.2M162.0,486.4 161.6,489.7 162.6,492.6 165.2,495.2 165.5,498.3 165.6,498.3M225.0,551.8 224.4,551.7M225.0,551.8 225.9,555.1 228.2,557.8 229.3,561.1 231.4,563.9 232.3,567.2 234.4,570.0 235.7,573.2M224.4,551.7 222.5,554.1 220.9,556.8 218.6,558.9 216.9,561.5 214.9,563.8 213.2,566.4 210.6,568.3M210.6,568.3 213.0,570.4 215.6,572.2 217.6,574.7 219.8,577.0 222.5,578.7 225.6,579.9 227.6,582.5M227.6,582.5 229.4,580.0 232.2,578.4 234.0,575.8 235.7,573.2M236.7,546.9 234.0,548.7 230.5,548.5 228.2,551.2 225.0,551.8M212.7,539.7 214.4,542.7 217.5,544.4 219.4,547.2 221.7,549.7 224.4,551.7M245.6,571.8 242.4,572.8 239.1,573.2 235.7,573.2M207.5,568.3 207.5,568.3 210.6,568.3M226.9,589.8 227.1,586.1 227.6,582.5M366.5,575.9 370.2,573.6 374.3,572.2M366.5,575.9 364.5,573.3 362.6,570.7 361.3,567.7 358.2,566.0 357.2,562.8 355.0,560.4M374.3,572.2 374.7,568.8 377.0,566.2 379.2,563.5 379.4,560.0M355.0,560.4 358.1,559.5 360.0,556.4 363.8,556.9 366.4,555.1 369.3,553.9 371.7,551.7 374.5,550.3M379.4,560.0 378.3,556.5 376.1,553.5 374.5,550.3M418.8,609.7 418.1,608.2 414.9,606.6 414.3,603.3 412.8,600.6 410.4,598.5M429.6,595.6 428.2,593.8 426.3,591.4M426.3,591.4 422.9,592.4 419.5,593.3 417.1,596.6 413.6,597.1 410.4,598.5M434.5,574.8 431.4,576.8 428.6,579.1 426.1,581.8M426.3,591.4 425.4,588.2 425.8,585.0 426.1,581.8M304.9,551.4 301.4,550.6 297.8,549.8 294.8,547.7M294.8,547.7 295.7,544.8 296.7,541.9 299.3,539.9 300.1,536.8 301.1,533.9 303.7,531.9 303.9,528.6 307.0,526.8 307.4,523.5M304.9,551.4 307.5,549.8 310.2,548.4 312.8,546.8 315.5,545.5 318.5,544.8 321.4,544.0 324.2,542.8M324.2,542.8 321.6,540.9 320.2,537.9 317.8,535.6 315.0,533.8 314.2,530.3 311.8,528.2 309.2,526.2 307.4,523.5M290.6,548.7 294.8,547.7M287.7,517.7 291.1,517.6 294.3,518.7 297.2,521.0 300.5,521.6 304.1,520.5 307.2,522.3M307.4,523.5 307.2,522.3M410.1,514.8 409.6,518.5 408.1,522.0 407.4,525.6 407.9,529.4M410.1,514.8 407.1,514.3 404.2,513.5 401.1,513.5 398.2,512.4 395.7,510.1 392.4,510.7 389.6,509.4M389.6,509.4 390.6,512.5 391.0,515.7 392.2,518.8 392.4,522.0 392.1,525.3 392.5,528.5 393.4,531.6M407.9,529.4 404.2,529.8 400.8,531.2 397.0,531.0 393.4,531.6M416.7,536.7 413.0,535.2 411.5,531.0 407.9,529.4M416.6,510.8 413.8,513.4 410.1,514.8M415.9,540.6 413.0,541.7 410.0,542.5 407.0,543.5 404.4,545.2 401.7,546.7 399.2,548.6M389.1,537.6 390.7,534.2 393.4,531.6M399.2,548.6 397.2,545.4 393.4,543.9 392.2,539.9 389.1,537.6M375.7,541.0 373.1,538.4M375.7,541.0 379.1,540.3 382.5,539.8 385.6,537.9 389.1,537.6M373.1,538.4 372.4,535.1 371.7,531.7 371.1,528.4 370.3,525.0 369.8,521.6M389.6,509.4 388.2,507.8M388.2,507.8 386.1,510.5 383.5,512.6 380.2,513.6 377.7,515.8 375.1,517.8 372.4,519.7 369.8,521.6M373.1,538.4 370.1,539.5 367.0,538.1 364.0,538.3 361.0,537.7 358.0,538.0 355.0,539.8 352.0,538.9M352.0,538.9 352.4,535.3 349.8,532.2 349.8,528.7 349.3,525.3 348.4,522.0 348.0,518.5M348.0,518.5 350.7,517.1 352.4,514.2 355.4,513.2M369.8,521.6 366.4,520.8 364.1,518.2 361.3,516.4 358.3,514.9 355.4,513.2M318.1,613.9 318.9,610.9 320.2,608.1 321.4,605.3 323.1,602.6 324.1,599.7 324.3,596.5M341.0,615.1 337.9,616.4 334.6,617.1 331.3,617.5 328.2,618.6 325.1,619.7M341.0,615.1 342.3,612.1 342.0,608.9 341.6,605.6 343.3,602.6 343.1,599.4M324.3,596.5 327.6,595.9 330.6,597.1 333.6,598.4 336.7,598.4 340.0,597.8 343.0,599.2M343.1,599.4 343.0,599.2M317.8,668.5 319.9,666.1 322.2,663.9 325.4,662.6 327.8,660.5 329.5,657.7M335.1,679.3 335.4,676.0 337.3,673.2 338.1,670.1 338.5,666.9 339.1,663.7M339.1,663.7 336.2,661.2 332.4,660.3 329.5,657.7M341.0,615.1 344.0,617.6 345.9,621.2 349.4,623.1M325.6,630.6 329.1,631.6 331.9,633.8 334.6,636.4 338.3,636.9 341.1,639.3M349.4,623.1 348.5,626.3 347.8,629.5 345.5,632.3 344.8,635.5 344.5,638.9M341.1,639.3 344.5,638.9M315.4,644.5 318.3,645.8 320.9,647.6 323.3,649.6 325.9,651.3 328.4,653.2M341.1,639.3 338.1,640.8 337.1,644.1 335.4,646.8 331.8,647.7 329.8,650.2 328.4,653.2M328.4,653.2 329.5,657.7M372.1,686.5 370.8,683.1 369.8,679.7 369.7,676.0 368.9,672.5 368.3,669.0M351.4,684.2 352.4,681.0 354.4,678.5 355.9,675.6 357.9,673.0 358.6,669.7 361.3,667.5M361.3,667.5 365.0,667.5 368.3,669.0M339.1,663.7 342.1,662.4 345.2,661.3 348.3,660.7 351.5,659.9 354.7,659.3M361.3,667.5 359.1,664.8 357.2,661.8 354.7,659.3M361.6,620.4 358.4,620.5 355.3,620.6 352.4,622.2 349.4,623.1M361.6,620.4 364.4,622.4 366.6,625.1M344.5,638.9 347.2,641.4 349.9,643.9 351.7,647.3 355.0,649.1M366.6,625.1 365.3,628.5 365.6,632.0 366.9,635.6 364.7,638.9 365.5,642.4M365.5,642.4 362.5,643.4 360.7,646.5 358.1,648.1 355.0,649.1M354.7,659.3 354.0,655.9 354.2,652.5 355.0,649.1M399.6,613.4 396.2,613.7 392.8,613.5 389.5,612.0 386.1,612.6M399.6,613.4 401.6,615.7 401.7,615.9M382.1,625.8 381.5,625.0M381.5,625.0 383.0,622.0 383.4,618.6 384.1,615.4 386.1,612.6M410.4,598.5 409.5,598.4M405.9,600.1 409.5,598.4M405.9,600.1 404.5,603.5 403.7,607.2 402.2,610.6 399.6,613.4M368.3,669.0 371.0,667.1 374.4,667.4 377.1,665.5 379.9,664.7M365.5,642.4 368.9,642.0 371.7,644.5 374.8,645.5 375.6,645.6M366.6,625.1 370.3,624.9 374.0,624.0 377.8,626.1 381.5,625.0M382.7,607.0 384.2,603.6 384.5,599.9 386.1,596.5 385.9,592.7M382.7,607.0 379.7,606.6 376.7,606.2 373.7,607.2 370.7,606.7 367.7,607.4 364.7,607.5M385.9,592.7 382.6,592.7 379.4,592.8 376.3,592.0 373.3,590.6 370.2,590.1 367.0,589.9M367.0,589.9 366.1,593.4 365.2,597.0 362.7,600.0 362.8,603.9M364.7,607.5 362.8,603.9M405.9,600.1 403.1,597.7 399.8,596.5 396.2,596.2 393.5,593.7 389.5,594.0 386.6,592.0M386.1,612.6 383.8,610.2 382.7,607.0M386.6,592.0 385.9,592.7M361.6,620.4 361.9,617.1 363.4,614.0 363.6,610.7 364.7,607.5M388.8,583.5 385.9,582.3 383.8,580.1 381.7,577.8 379.1,576.1 376.4,574.5 374.3,572.2M366.5,575.9 364.5,579.2 363.2,582.8M363.2,582.8 365.6,586.1 367.0,589.9M388.8,583.5 386.9,587.6 386.6,592.0M346.9,584.0 345.9,587.0 344.4,589.9 345.2,593.3 344.1,596.2 343.0,599.2M346.9,584.0 350.2,584.8 353.3,582.6 356.7,583.1 360.0,583.9 363.2,582.8M343.1,599.4 346.4,599.8 349.5,601.5 353.1,600.9 356.0,603.4 359.6,602.4 362.8,603.9M710.6,330.6 713.8,328.7 717.1,327.0 719.4,323.9M710.6,330.6 710.5,327.4 709.0,324.7 707.7,322.0 706.3,319.3M712.6,316.1 709.6,317.9 706.3,319.3M712.6,316.1 715.6,319.0 719.5,320.6M719.5,320.6 719.4,323.9M700.1,332.8 697.5,330.2 697.6,326.2 694.9,323.7M700.7,317.6 698.2,321.0 694.9,323.7M700.7,317.6 706.3,319.3M707.9,333.3 710.3,331.6M710.3,331.6 710.6,330.6M713.7,308.9 713.8,312.6 712.6,316.1M700.7,317.6 698.9,314.0 699.1,310.0M724.4,316.6 721.4,318.0 719.5,320.6M726.2,330.0 725.9,333.3 723.2,335.7 722.8,339.0M726.2,330.0 729.7,329.2 732.7,327.1 736.0,326.0M737.3,326.6 736.4,329.9 736.7,333.5 734.4,336.6 734.9,340.2M737.3,326.6 736.0,326.0M734.9,340.2 730.9,339.9 726.9,339.9 722.9,339.6M722.9,339.6 722.8,339.0M710.3,331.6 713.6,333.1 716.8,334.8 720.2,336.2 722.8,339.0M719.4,323.9 721.7,325.8 724.2,327.6 726.2,330.0M732.2,318.6 733.9,322.4 736.0,326.0M739.0,345.4 738.8,345.1 737.2,342.3 734.9,340.2M737.8,326.6 737.3,326.6M722.0,342.8 722.9,339.6M679.1,325.3 682.3,324.7 685.4,325.8 688.6,325.9M679.1,325.3 678.5,321.8 677.2,318.6M685.7,314.6 687.4,317.8 690.0,320.4 691.3,323.8M685.7,314.6 682.5,314.0 679.6,315.4M691.3,323.8 688.6,325.9M677.2,318.6 679.6,315.4M675.9,329.9 679.1,325.3M686.5,337.6 688.1,333.9 688.3,329.9 688.6,325.9M665.3,317.9 669.3,318.3 673.3,318.0 677.2,318.6M694.9,323.7 691.3,323.8M690.2,306.8 688.5,309.3 687.2,312.0 685.7,314.6M677.2,309.1 677.5,309.5 678.6,312.4 679.6,315.4M396.4,353.6 396.7,356.7 396.9,359.8 397.1,362.9 396.0,366.0M412.2,365.7 409.8,368.4 407.2,370.8M407.2,370.8 404.2,369.9 402.0,367.3 398.7,367.3 396.0,366.0M417.2,385.8 413.9,383.7 410.2,382.7 406.7,381.2M407.2,370.8 406.0,374.2 408.0,377.8 406.7,381.2M397.8,400.7 397.8,397.4 399.5,394.4 399.5,391.1 400.0,388.0 399.9,384.7M399.9,384.7 403.4,383.1 406.7,381.2M358.5,389.2 361.4,388.1 364.3,386.8 367.5,386.1 369.7,383.4 373.1,383.2 375.9,381.9M381.6,399.3 380.6,396.4 380.0,393.4 380.5,390.3 380.5,387.3 379.6,384.4M375.9,381.9 379.6,384.4M399.9,384.7 397.2,382.7 394.3,380.8 390.9,380.1M379.6,384.4 382.5,383.5 385.3,382.5 388.4,382.0 390.9,380.1M396.0,366.0 391.3,369.6M390.9,380.1 391.4,376.6 390.1,373.1 391.3,369.6M383.6,355.3 380.0,354.5 377.1,352.1M383.6,355.3 383.7,358.9 383.4,362.4 382.4,365.8M382.4,365.8 378.8,366.4 376.0,368.6 373.1,370.7M377.1,352.1 372.7,354.0M372.7,354.0 372.8,357.8 369.6,360.6 370.9,364.6 368.7,367.7M368.7,367.7 373.1,370.7M377.6,337.7 377.1,341.3 378.1,345.0 376.9,348.5 377.1,352.1M392.3,352.1 389.4,353.1 386.3,353.8 383.6,355.3M391.3,369.6 388.0,369.1 385.0,367.8 382.4,365.8M375.9,381.9 375.9,378.0 373.3,374.6 373.1,370.7M366.4,350.7 369.8,351.8 372.7,354.0M363.5,367.5 368.7,367.7M547.2,432.1 547.6,428.1 549.5,424.5 550.6,420.7M547.2,432.1 549.0,434.4M561.5,433.5 558.5,434.6 555.2,433.7 552.2,434.7 549.0,434.4M558.7,421.4 556.4,419.5M550.6,420.7 556.4,419.5M565.1,405.8 561.9,408.3 558.2,409.8M556.4,419.5 556.2,416.1 557.7,413.1 558.2,409.8M551.7,457.4 550.5,454.1 552.1,450.6 550.7,447.4M551.7,457.4 548.5,460.1 545.5,463.2M545.5,463.2 542.5,461.8 540.4,458.9 537.2,457.8 534.4,456.0M547.0,444.8 550.7,447.4M547.0,444.8 543.9,446.3 540.5,447.0 537.0,446.6M537.0,446.6 535.1,449.5 534.6,452.7 534.4,456.0M563.4,444.0 560.4,445.6 556.9,445.4 553.6,445.6 550.7,447.4M561.2,459.3 558.1,458.3 554.8,458.6 551.7,457.4M546.1,468.7 545.5,463.2M522.1,462.6 522.8,465.8 523.2,469.0 523.7,472.2M536.8,477.9 533.6,476.3 530.0,475.7 526.5,474.7 523.7,472.2M522.1,462.6 525.4,461.5 528.4,459.6 531.3,457.7 534.4,456.0M549.0,434.4 548.6,437.9 548.4,441.5 547.0,444.8M547.2,432.1 544.2,431.2 541.0,431.2 537.9,430.6M534.8,443.5 537.0,446.6M515.0,448.6 515.9,452.1 517.0,455.5 518.4,458.8 520.7,461.7M520.7,461.7 522.1,462.6M504.0,490.7 506.5,493.1 508.3,496.1 510.0,499.1 511.9,502.0M504.0,490.7 505.2,487.4 506.4,484.2 508.4,481.4M511.9,502.0 514.0,499.7 516.7,498.0 518.6,495.6 520.9,493.6 522.9,491.2M522.9,491.2 521.7,488.1 521.9,484.5 519.7,481.6 519.0,478.3M519.0,478.3 515.8,480.4 511.8,479.8 508.4,481.4M512.3,507.7 511.9,502.0M491.1,491.1 494.3,491.3 497.6,491.8 500.8,491.7 504.0,490.7M487.2,478.7 490.2,476.5 491.9,473.1 495.1,471.1 497.9,468.7M497.9,468.7 499.1,472.0 503.0,473.0 504.8,475.8 505.7,479.4 508.4,481.4M532.7,493.7 529.4,492.9 525.9,493.1 522.9,491.2M523.7,472.2 521.9,475.7 519.0,478.3M520.7,461.7 517.5,462.5 514.3,463.0 511.0,463.1 507.8,463.9 504.8,465.7 501.5,466.2 498.2,466.3M498.2,466.3 497.9,468.7M454.0,412.1 457.7,410.8 461.4,409.7 465.3,409.4M465.6,395.7 466.1,398.7 468.0,401.4 468.0,404.6M465.3,409.4 468.0,404.6M481.7,393.7 481.7,396.9 479.8,399.6 478.6,402.5 478.6,405.7M468.0,404.6 471.6,404.3 475.2,404.6 478.6,405.7M491.9,397.4 494.0,400.9 494.4,405.0M478.6,405.7 480.1,408.2M480.1,408.2 483.5,407.9 486.7,408.6 489.8,409.7M494.4,405.0 491.4,406.7 489.8,409.7M469.9,481.3 468.5,478.0 465.4,476.3 463.1,473.8 460.1,472.0 457.9,469.4 456.4,466.2M477.7,464.7 474.4,464.0 471.2,463.4 468.0,462.5 464.9,461.5M479.7,476.4 478.6,472.6 478.0,468.7 477.7,464.7M464.9,461.5 461.9,462.8 458.7,463.8 456.4,466.2M317.5,569.5 318.1,573.1 320.5,576.0 321.5,579.5 323.0,582.8M317.5,569.5 311.8,568.3M311.8,568.3 308.4,569.8 305.5,572.1 302.7,574.5 299.1,575.7M320.7,590.2 323.0,586.9 323.0,582.8M320.7,590.2 317.5,589.9 314.3,590.4 311.1,590.9 307.9,591.9 304.7,590.9 301.5,591.4M299.1,575.7 299.6,579.2 297.6,582.4 297.3,585.8M301.5,591.4 299.8,588.3 297.3,585.8M285.1,561.4 287.9,563.3 290.5,565.4 292.3,568.3 294.9,570.4 296.9,573.1 299.1,575.7M304.9,551.4 307.0,553.8 306.6,557.3 307.8,560.1 309.4,562.7 310.4,565.6 311.8,568.3M342.5,577.9 339.3,579.1 335.7,578.6 332.7,580.3 329.3,580.5 326.4,582.9 323.0,582.8M342.5,577.9 345.1,580.6 346.9,584.0M324.3,596.5 322.7,593.2 320.7,590.2M300.2,602.0 300.1,598.4 301.0,594.9 301.5,591.4M277.5,588.5 280.8,588.2 284.2,588.3 287.3,586.6 290.6,586.4 294.1,587.1 297.3,585.8M238.4,427.8 242.9,428.5M245.3,425.8 245.2,425.9 242.9,428.5M274.8,486.4 272.5,483.3 269.7,480.7 266.6,478.4M249.5,486.7 252.4,481.5M266.6,478.4 263.1,479.2 259.5,479.9 256.0,480.7 252.4,481.5M235.4,467.5 238.6,467.1 241.6,467.4 244.4,469.6 247.5,469.4M252.4,481.5 250.7,478.6 249.7,475.5 247.6,472.9 247.5,469.4M415.3,561.3 415.6,564.4 415.6,567.5 415.4,570.6 417.7,573.5 417.2,576.7M415.3,561.3 411.5,560.8 407.7,561.9 404.0,560.9 400.3,560.8M417.2,576.7 414.7,578.8 411.6,579.1 408.8,580.3 405.8,581.1M400.3,560.8 397.0,564.1M397.0,564.1 396.4,567.3 397.2,570.5 396.3,573.7 396.9,576.9M396.9,576.9 399.6,579.0 403.3,578.9 405.8,581.1M421.2,556.6 417.5,558.0 415.3,561.3M426.1,581.8 422.7,580.9 420.0,578.6 417.2,576.7M399.2,548.6 398.9,551.7 400.7,554.6 399.5,557.8 400.3,560.8M409.5,598.4 409.8,594.7 407.6,591.6 407.2,588.1 407.0,584.5 405.8,581.1M375.7,541.0 374.3,543.9 375.2,547.2 374.5,550.3M379.4,560.0 382.5,560.0 385.1,562.0 388.3,561.7 390.9,563.7 393.8,564.4 397.0,564.1M388.8,583.5 391.8,581.7 394.8,579.8 396.9,576.9M307.8,493.0 308.8,496.0 308.4,499.1 306.8,502.2 308.9,505.3 307.3,508.4 308.4,511.5 309.2,514.5 308.2,517.6 308.4,520.7M307.8,493.0 310.5,494.8 313.5,495.5 316.8,495.2 319.5,497.1 322.7,496.8 326.0,496.5 328.7,498.4M308.4,520.7 311.7,520.3 314.7,519.0 317.6,517.4 321.0,517.3 324.2,516.8 327.2,515.5 330.2,514.1M328.7,498.4 328.3,501.6 329.3,504.7 329.4,507.8 330.5,510.9 330.2,514.1M307.1,492.2 307.8,493.0M307.2,522.3 308.4,520.7M346.3,544.9 342.9,544.4 339.4,544.0 335.9,543.8 332.8,541.8 329.3,541.6M346.3,544.9 347.4,547.8 347.7,550.9 348.8,553.8 349.9,556.7 350.7,559.6M342.5,567.5 339.8,565.2 336.0,565.8 333.3,563.7 329.9,563.2 327.1,561.3M342.5,567.5 345.4,565.0 347.2,561.5 350.7,559.6M327.1,561.3 327.3,558.2 326.3,555.3 325.9,552.3 326.5,549.3 325.2,546.3 326.0,543.3M326.0,543.3 329.3,541.6M335.7,518.7 334.6,521.9 334.9,525.5 333.8,528.7 331.5,531.6 330.1,534.7 329.5,538.1 329.3,541.6M348.0,518.5 345.0,518.7 341.9,518.2 338.8,518.1 335.7,518.7M352.0,538.9 349.0,541.8 346.3,544.9M355.0,560.4 350.7,559.6M317.5,569.5 320.4,568.0 322.2,565.2 325.1,563.8 327.1,561.3M342.5,577.9 343.0,574.4 343.0,571.0 342.5,567.5M324.2,542.8 326.0,543.3M335.7,518.7 333.7,515.5 330.2,514.1M398.3,494.5 395.2,495.4 392.4,496.8 390.0,498.9 387.5,500.8M392.2,470.3 388.7,471.6 385.9,473.7 383.4,476.2 381.0,478.9M387.5,500.8 386.7,497.7 384.9,494.8 385.7,491.1 384.3,488.1 383.7,484.9 381.2,482.2 381.0,478.9M388.2,507.8 387.5,504.4 387.5,500.9M387.5,500.8 387.5,500.9M370.2,459.0 371.5,461.9 373.0,464.8 373.6,468.0 373.2,471.4 374.6,474.3 375.5,477.4M375.5,477.4 381.0,478.9M512.7,387.5 511.9,383.5 512.6,379.5M506.3,391.1 509.4,389.1 512.7,387.5M499.2,389.4 502.6,390.8 506.3,391.1M494.4,380.3 495.8,376.9 498.0,374.3 500.9,372.2 503.2,369.7M512.6,379.5 510.9,376.5 507.7,374.8 505.4,372.3 503.2,369.7M501.2,365.3 503.2,367.5M503.2,367.5 503.2,369.7M512.1,346.1 512.4,349.4 513.9,352.2 515.4,355.0 517.8,357.4 518.2,360.7M503.2,367.5 506.2,366.1 509.5,365.5 512.6,364.3 515.3,362.2 518.2,360.7M438.4,448.5 441.9,447.3 445.6,448.9 449.1,447.7M438.4,448.5 436.5,451.8 434.4,454.9 432.1,457.9M449.1,447.7 450.7,450.6 450.6,454.0 452.0,456.9 454.0,459.7 453.3,463.3 454.9,466.2M432.1,457.9 433.2,461.1 433.7,464.4M433.7,464.4 437.0,464.0 440.0,465.7 443.3,465.8 446.5,466.6 449.9,466.0 452.9,467.6M452.9,467.6 454.9,466.2M431.2,439.8 434.0,442.4 435.5,446.0 438.4,448.5M452.7,433.4 453.0,437.4 452.9,441.4M452.9,441.4 450.6,444.3 449.1,447.7M418.9,452.2 422.1,453.9 426.0,454.0 428.9,456.1 432.1,457.9M464.9,461.5 465.7,457.8 468.2,454.8 470.0,451.5 470.2,447.6M456.4,466.2 454.9,466.2M452.9,441.4 456.0,441.8 458.4,444.3 461.9,443.6 464.7,444.7 467.5,445.8 470.2,447.6M427.7,472.5 429.0,469.3 432.0,467.4 433.7,464.4M446.3,484.3 448.4,481.9 448.1,478.6 450.3,476.2 451.1,473.3 450.9,470.0 452.9,467.6M485.3,457.1 484.5,453.5 483.1,450.0M485.3,457.1 488.2,458.1 490.5,460.4 493.0,462.1 496.3,462.4M483.1,450.0 485.5,448.2 487.1,445.3 489.9,443.9 493.0,442.9 495.0,440.5M496.3,462.4 498.8,459.9 500.2,456.8 499.9,452.8 502.3,450.2 504.5,447.5 505.3,444.0M505.3,444.0 502.2,441.8 498.3,442.0 495.0,440.5M477.7,464.7 480.2,462.1 482.9,459.8 485.3,457.1M470.2,447.6 474.8,445.2M474.8,445.2 477.1,447.5 479.9,449.2 483.1,450.0M498.2,466.3 496.3,462.4M506.9,443.6 505.3,444.0M498.1,423.3 496.8,426.3 495.0,429.1 493.3,431.9 492.4,435.1M510.6,431.8 508.0,430.3 505.2,429.0 503.1,426.6 500.9,424.4 498.1,423.3M492.4,435.1 495.0,440.5M475.2,435.9 478.1,433.6 482.0,433.9 485.1,432.1M475.2,435.9 472.3,433.6 471.6,429.5 468.5,427.4M485.1,432.1 485.6,428.7 485.7,425.2 485.0,421.8M485.0,421.8 481.5,421.8 478.7,419.7 475.5,419.0M468.5,427.4 470.8,423.8 473.0,420.1M473.0,420.1 475.5,419.0M474.8,445.2 475.0,442.1 475.0,439.0 475.2,435.9M492.4,435.1 489.1,432.6 485.1,432.1M455.8,428.3 459.0,429.0 462.1,427.2 465.3,426.8 468.5,427.4M497.9,422.6 494.8,419.6 490.6,418.8M490.6,418.8 487.5,419.7 485.0,421.8M498.1,423.3 497.9,422.6M489.8,409.7 490.8,412.7 491.4,415.7 490.6,418.8M480.1,408.2 477.7,411.4 476.3,415.1 475.5,419.0M465.3,409.4 467.7,411.8 469.0,414.9 471.3,417.3 473.0,420.1M239.4,449.3 239.7,449.2M247.5,469.4 249.9,466.9 250.6,463.3 252.3,460.3 255.1,458.1M239.7,449.2 243.3,450.1 245.4,453.6 248.6,455.1 251.5,457.1 255.1,458.1M242.9,428.5 244.8,432.5 246.3,436.7M239.7,449.2 241.4,446.1 243.3,443.1 244.3,439.7 246.3,436.7M257.9,420.1 258.9,422.9 260.1,425.8 261.8,428.7 262.5,430.1M246.3,436.7 249.4,436.9 252.0,438.6 255.2,438.3 258.0,439.6 260.7,440.9 262.7,441.7M356.8,501.4 358.2,498.5 361.1,497.2M356.8,501.4 354.3,499.2 350.8,498.7 347.8,497.5 344.9,495.9 342.1,494.1 338.7,493.7 336.1,491.4M361.1,497.2 362.3,493.7 361.8,490.0 363.0,486.5 362.3,482.8M344.5,477.7 347.8,479.1 351.3,478.8 354.8,478.5 358.3,479.0M344.5,477.7 341.8,479.7 339.3,481.9 336.7,483.9M358.3,479.0 362.3,482.8M336.7,483.9 337.4,487.8 336.1,491.4M355.4,513.2 356.1,509.3 357.0,505.4 356.8,501.4M387.5,500.9 384.1,501.2 381.0,499.5 377.6,499.2 374.3,499.4 370.9,499.2 367.7,498.4 364.5,497.0 361.1,497.2M328.7,498.4 331.6,496.4 333.7,493.8 336.1,491.4M375.5,477.4 372.3,478.9 368.5,479.2 365.3,480.8 362.3,482.8M343.8,462.2 344.1,465.3 344.5,468.4 344.8,471.5 345.1,474.6 344.5,477.7M359.3,463.4 359.3,466.5 358.3,469.6 358.8,472.8 359.0,475.9 358.3,479.0M326.9,475.0 328.7,478.0 331.4,479.9 333.9,482.1 336.7,483.9M537.1,396.1 536.3,399.4 535.3,402.6M537.1,396.1 540.3,396.7 543.5,394.8 546.7,394.5 550.0,395.5M535.3,402.6 538.2,404.7 541.3,406.3 544.5,407.9M550.0,395.5 549.5,398.5 550.0,401.5 549.5,404.6M549.5,404.6 547.4,406.9 544.5,407.9M565.4,399.4 563.9,398.9 561.5,396.2 557.7,396.2 555.3,393.6 552.2,392.4M552.2,392.4 550.0,395.5M558.2,409.8 555.8,407.2 552.4,406.4 549.5,404.6M550.6,420.7 546.4,419.1 542.6,416.8M542.6,416.8 543.6,413.9 544.7,411.0 544.5,407.9M542.6,416.8 538.8,417.6 535.5,419.8M535.3,402.6 533.0,405.3 529.5,406.1M529.5,406.1 530.4,409.8 532.0,413.1 533.0,416.8 535.5,419.8M533.7,424.8 533.7,422.6M533.7,422.6 535.5,419.8M540.7,382.2 542.2,379.2 540.9,375.9 541.3,372.8 542.3,369.8M540.7,382.2 543.8,382.6 546.4,384.5 549.1,385.8 552.2,386.3M556.2,382.2 552.2,386.3M556.2,382.2 557.2,378.4 557.1,374.4M557.1,374.4 554.7,371.8 553.8,368.3M542.3,369.8 545.5,368.1 548.8,367.3 552.3,367.8M553.8,368.3 552.3,367.8M531.8,386.3 533.2,389.8 534.4,393.3 537.1,396.1M552.2,392.4 551.8,389.4 552.2,386.3M531.8,386.3 532.2,385.5M532.2,385.5 534.6,383.3 538.1,384.0 540.7,382.2M572.4,387.4 569.4,385.5 565.7,385.8 562.4,385.0 559.5,383.0 556.2,382.2M569.4,371.1 566.9,372.4 563.5,372.7 560.3,373.3 557.1,374.4M565.5,356.1 563.9,359.2 560.6,360.8 559.2,364.2 556.2,366.0 553.8,368.3M546.3,353.9 546.9,356.0 549.8,358.4 551.2,361.3 550.8,364.9 552.3,367.8M524.9,373.4 524.2,370.2 522.2,367.4 522.1,364.0 520.3,361.2M524.9,373.4 526.5,374.2M526.5,374.2 529.3,372.2 531.8,369.9 535.1,368.7 538.0,367.0M524.1,358.9 527.2,358.2 530.2,359.0 533.1,360.4 536.2,360.0M524.1,358.9 520.3,361.2M536.2,360.0 537.5,363.4 538.0,367.0M512.6,379.5 515.6,377.7 518.3,375.5 522.2,375.7 524.9,373.4M518.2,360.7 520.3,361.2M521.2,392.3 523.7,390.7 526.4,389.2 528.6,386.9 531.8,386.3M512.7,387.5 515.2,389.7 518.8,389.8 521.2,392.3M532.2,385.5 529.9,383.1 529.8,379.6 528.6,376.7 526.5,374.2M542.3,369.8 538.0,367.0M540.4,353.0 539.5,354.6 537.1,356.8 536.2,360.0M525.6,350.0 526.8,353.4 524.4,355.9 524.1,358.9M283.2,431.8 283.0,431.8M283.2,431.8 285.5,429.8 288.3,428.5 290.7,427.8M277.3,428.2 276.6,427.2 277.8,423.7 275.9,421.0 275.9,420.8M281.7,415.9 282.0,415.7 283.9,414.9M286.2,412.6 286.3,412.4M301.7,440.8 298.2,440.6 295.0,442.1 291.5,440.8 288.2,442.2M288.2,442.2 286.9,438.5 284.4,435.5 283.2,431.8M263.9,444.2 263.7,447.6 261.8,450.6 259.2,453.2 258.8,456.8M264.1,444.1 266.7,445.4 269.6,446.3 272.1,448.6 275.8,447.7 278.6,448.9 280.8,451.8 283.9,452.3M258.8,456.8 261.9,458.6 263.9,461.7 267.1,463.4 269.1,466.4M284.0,452.5 283.9,452.3M284.0,452.5 282.8,455.7 281.5,458.9 279.4,461.6 276.9,464.0M276.9,464.0 272.9,464.7 269.1,466.4M255.1,458.1 258.8,456.8M288.2,442.2 285.8,445.1 284.3,448.5 283.9,452.3M266.6,478.4 267.0,475.4 268.0,472.4 269.1,469.5 269.1,466.4M294.7,459.0 291.9,457.4 288.7,456.7 287.3,453.1 284.0,452.5M287.3,474.1 284.7,471.6 282.2,468.9 279.1,466.9 276.9,464.0M521.5,404.5 521.5,404.6M521.5,404.5 518.5,404.2 515.4,404.6 512.5,404.0 509.4,404.5 506.5,403.4M521.5,404.6 520.4,407.8 519.4,411.0 518.1,414.1 517.7,417.6M504.9,414.4 503.1,410.8 503.0,406.8M504.9,414.4 508.9,415.3 512.7,416.4 516.1,418.8M516.1,418.8 517.7,417.6M506.5,403.4 503.0,406.8M521.2,392.3 521.5,395.4 521.2,398.4 520.8,401.5 521.5,404.5M529.5,406.1 525.3,406.5 521.5,404.6M506.3,391.1 507.4,394.2 507.2,397.3 507.2,400.3 506.5,403.4M533.7,422.6 530.2,422.6 527.5,419.8 523.7,420.7 521.0,418.3 517.7,417.6M494.4,405.0 498.9,404.9 503.0,406.8M497.9,422.6 500.0,419.7 501.8,416.5 504.9,414.4M514.2,428.9 514.9,425.6 515.2,422.1 516.1,418.8" fill="none" stroke="#fff" stroke-width="1.05" stroke-opacity="0.85" stroke-linejoin="round"/><path d="M326.2,102.5 315.0,110.0 302.5,117.5 296.2,122.5 287.5,126.2 275.0,130.0 262.5,131.2 243.8,126.2 230.0,125.0M326.2,102.5 327.5,112.5 332.5,125.0 342.5,132.5 350.0,138.8 345.0,145.0 343.8,156.2 352.5,165.0 360.0,167.5M287.5,126.2 292.5,135.0 293.8,143.8 290.0,147.5 300.0,153.8 310.0,157.5 315.0,162.5 311.2,172.5 310.0,175.0M165.0,401.2 167.5,410.0 162.5,420.0 165.0,427.5 172.5,430.0 171.2,437.5 162.5,440.0 152.5,438.8 147.0,442.0M182.5,312.5 187.5,317.5 185.0,322.5 178.8,326.2" fill="none" stroke="#fff" stroke-width="1.05" stroke-opacity="0.85" stroke-linejoin="round"/><path d="M181.9,311.2 185.0,305.0 190.0,297.5 193.8,291.2 200.0,286.2 206.2,282.5 210.0,275.0 213.8,267.5 216.2,261.2 221.2,256.9 227.5,256.2 233.8,258.8 242.5,259.4 244.4,263.8 243.8,268.8 245.0,273.8 248.8,275.6 255.0,275.0 262.5,276.9 265.0,280.6 265.6,285.6 267.5,291.2 268.1,296.9 273.8,301.2 278.8,306.9 280.0,307.5 278.8,313.1 281.2,315.0 283.8,321.2 282.5,327.5 281.2,333.8 284.4,336.9 290.0,335.6 295.0,336.9 299.4,335.6 301.2,338.8 302.5,341.9 298.8,340.0 295.0,341.2 291.2,345.0 289.4,348.8 287.5,353.1 281.2,353.8 278.8,358.8 280.0,362.5 282.5,366.2 286.2,370.0 288.8,371.2 290.6,372.5 293.8,368.8 298.8,365.0 305.0,360.6 310.0,356.9 317.5,352.5 325.0,348.1 330.0,344.4 335.0,343.8 336.9,346.2 333.8,350.0 331.9,355.0 327.5,356.2 321.2,358.8 317.5,362.5 315.0,366.2 311.2,368.8 308.1,373.8 306.2,378.8 306.2,377.5 307.5,382.5 310.0,380.6 311.9,383.1 311.9,388.1 306.2,389.4 301.2,391.2 299.4,395.0 301.9,398.1 303.1,401.9 300.0,403.8 298.1,408.1 301.2,411.9 298.8,413.8 292.5,412.5 286.2,411.9 282.5,413.8 280.0,417.5 276.2,420.0 272.5,422.5 268.8,422.5 266.2,418.8 261.9,418.1 256.9,420.0 253.8,421.2 252.5,426.2 248.8,427.5 245.0,425.0 243.8,418.8 240.0,416.2 239.4,414.4 235.6,417.5 230.0,416.9 227.5,417.5 218.8,418.8 215.0,415.0 211.2,412.5 210.0,407.5 210.0,400.0 211.2,395.0 209.4,390.0 207.5,385.0 208.8,380.0 206.2,375.0 203.8,370.0 210.0,365.6 217.5,362.5 223.8,363.1 227.5,360.0 228.8,355.0 230.0,353.8 225.0,350.0 222.5,345.0 216.2,341.2 211.2,339.4 211.2,336.2 215.0,333.1 211.2,330.0 208.8,327.5 203.8,323.8 197.5,322.5 191.2,321.9 187.5,318.1 184.4,313.8Z" fill="none" stroke="#fbe3d2" stroke-width="1.2" stroke-linejoin="round"/><path d="M138.8,363.1 143.8,361.2 151.2,360.6 156.9,362.5 160.0,363.8 161.2,358.8 165.0,355.0 170.0,353.8 173.8,353.1 176.2,355.0 182.5,358.1 188.8,360.0 193.8,359.4 197.5,358.8 199.4,361.2 198.1,365.6 201.2,368.8 200.0,372.5 196.2,376.2 191.2,378.1 185.0,378.8 181.2,382.5 178.8,387.5 173.8,390.6 167.5,392.5 165.0,396.2 163.1,400.0 160.6,398.1 158.1,392.5 155.0,386.2 151.9,381.2 151.2,374.4 145.0,373.8 140.6,370.0 138.1,366.2Z" fill="none" stroke="#fbe3d2" stroke-width="1.2" stroke-linejoin="round"/><path d="M259.4,432.5 263.8,430.0 267.5,428.8 270.0,426.2 273.1,428.1 277.5,428.8 281.9,430.0 283.1,433.8 280.0,436.2 278.1,440.0 275.0,441.2 271.2,440.6 267.5,441.2 263.8,443.8 262.5,438.8 260.6,435.6Z" fill="none" stroke="#fbe3d2" stroke-width="1.2" stroke-linejoin="round"/><path d="M202.0,539.0 205.5,539.0 206.0,543.0 203.0,544.0Z" fill="none" stroke="#fbe3d2" stroke-width="1.2" stroke-linejoin="round"/><path d="M263.1,373.8 267.5,371.9 272.5,371.2 278.1,369.4 281.2,370.6 285.0,373.1 285.6,376.2 282.5,380.0 279.4,383.1 273.1,385.6 270.0,389.4 266.2,389.4 265.0,385.0 261.9,380.6Z" fill="none" stroke="#fbe3d2" stroke-width="1.2" stroke-linejoin="round"/><path d="M273.1,385.6 279.4,383.1 282.5,380.0 285.6,376.2 289.4,374.4 290.6,379.4 286.2,381.9 283.8,385.6 285.0,390.0 288.8,393.1 290.0,395.0 286.2,395.6 283.1,396.9 281.2,400.6 278.1,401.9 275.6,398.8 274.4,394.4 271.2,391.2 270.0,389.4Z" fill="none" stroke="#fbe3d2" stroke-width="1.2" stroke-linejoin="round"/><path d="M286.2,381.9 290.6,380.6 295.0,383.1 301.2,384.4 307.5,382.5 310.0,380.6 311.9,383.1 311.9,388.1 306.2,389.4 301.2,391.2 299.4,395.0 301.9,398.1 303.1,401.9 300.0,403.8 295.0,405.6 292.5,402.5 291.9,398.8 290.0,395.0 288.8,393.1 285.0,390.0 283.8,385.6Z" fill="none" stroke="#fbe3d2" stroke-width="1.2" stroke-linejoin="round"/><path d="M253.8,410.0 259.4,409.4 265.0,407.5 268.1,403.8 270.6,399.4 273.8,400.0 273.1,404.4 271.9,408.1 271.9,415.0 266.9,416.9 261.9,418.1 256.9,420.0 253.8,421.2 253.1,415.0Z" fill="none" stroke="#fbe3d2" stroke-width="1.2" stroke-linejoin="round"/><path d="M210.0,400.0 213.8,395.0 218.1,390.6 221.2,395.0 225.6,398.8 228.8,395.0 232.5,397.5 236.2,403.8 239.4,410.0 238.8,415.0 236.2,417.5 227.5,417.5 218.8,418.8 215.0,415.0 211.2,412.5 210.0,407.5Z" fill="none" stroke="#fbe3d2" stroke-width="1.2" stroke-linejoin="round"/><path d="M255.6,306.2 260.0,300.0 265.0,301.9 270.0,298.8 274.4,303.1 278.1,308.1 277.5,313.8 275.0,316.2 270.0,320.0 265.0,321.2 261.9,316.9 258.8,311.2Z" fill="none" stroke="#fbe3d2" stroke-width="1.2" stroke-linejoin="round"/><path d="M235.0,392.5 236.2,388.8 242.5,386.2 251.2,385.6 261.2,386.9 265.0,385.0 266.2,389.4 270.0,389.4 271.2,391.2 274.4,394.4 272.5,396.9 267.5,398.1 261.2,395.0 260.0,391.2 255.0,390.0 250.6,392.5 250.0,398.8 245.0,405.0 241.9,407.5 238.8,408.1 235.6,402.5 232.5,396.2Z" fill="none" stroke="#fbe3d2" stroke-width="1.2" stroke-linejoin="round"/><path d="M290.0,347.5 295.0,342.5 300.0,341.2 303.8,343.8 308.1,345.0 311.2,350.0 310.0,353.8 305.0,356.2 300.0,360.0 296.2,361.2 293.8,357.5 295.0,352.5 290.0,350.0Z" fill="none" stroke="#fbe3d2" stroke-width="1.2" stroke-linejoin="round"/><path d="M178.8,330.0 180.0,325.0 183.8,322.5 187.5,318.5 191.2,322.2 197.5,322.9 203.8,324.1 208.8,327.9 211.2,330.4 214.8,333.5 211.2,336.2 211.2,339.4 216.2,341.2 222.5,345.0 225.0,350.0 230.0,353.8 228.8,353.8 227.5,360.0 223.8,363.1 217.5,362.5 210.0,365.6 203.8,370.0 201.2,368.8 198.1,365.6 199.4,361.2 197.5,358.8 193.8,359.4 188.8,360.0 185.6,356.9 185.0,352.5 184.4,346.2 185.0,338.8 182.5,333.8 178.8,330.0Z" fill="none" stroke="#fbe3d2" stroke-width="1.2" stroke-linejoin="round"/><path d="M165.0,396.2 167.5,392.5 173.8,390.6 178.8,387.5 181.2,382.5 185.0,378.8 191.2,378.1 196.2,376.2 200.0,372.5 202.5,370.0 206.2,375.0 208.8,380.0 207.5,385.0 203.8,385.0 200.0,388.8 195.0,395.0 191.2,400.0 185.0,399.4 180.0,400.0 172.5,400.6 166.2,401.2 163.1,400.0Z" fill="none" stroke="#fbe3d2" stroke-width="1.2" stroke-linejoin="round"/><path d="M278.8,358.8 281.2,353.8 287.5,353.1 290.0,350.0 295.0,352.5 293.8,357.5 296.2,361.2 298.8,363.8 292.5,367.5 288.8,371.2 286.2,370.0 282.5,366.2 280.0,362.5Z" fill="none" stroke="#fbe3d2" stroke-width="1.2" stroke-linejoin="round"/><path d="M311.9,345.0 317.5,342.5 322.5,341.2 327.5,341.9 330.0,343.8 325.0,347.5 320.0,350.0 315.0,353.8 311.2,355.0 310.0,351.2Z" fill="none" stroke="#fbe3d2" stroke-width="1.2" stroke-linejoin="round"/><path d="M336.9,346.2 343.8,345.0 348.8,348.1 350.0,355.0 346.2,360.0 343.8,360.0 340.0,361.2 335.0,357.5 331.9,355.0 333.8,350.0Z" fill="none" stroke="#fbe3d2" stroke-width="1.2" stroke-linejoin="round"/><path d="M283.8,413.1 292.5,413.1 300.0,414.4 306.2,415.6 306.9,421.2 305.0,426.2 300.0,430.0 293.8,428.8 288.8,426.2 286.2,420.0Z" fill="none" stroke="#fbe3d2" stroke-width="1.2" stroke-linejoin="round"/><path d="M191.2,400.0 195.0,395.0 200.0,388.8 203.8,385.0 207.5,390.0 210.0,395.0 210.0,400.0 208.8,405.0 205.0,408.1 200.0,406.9 195.0,405.6Z" fill="none" stroke="#fbe3d2" stroke-width="1.2" stroke-linejoin="round"/><path d="M238.1,260.6 238.8,263.8 235.0,266.2 230.0,268.1 230.0,271.9 233.1,275.0 235.0,279.4 233.8,283.1 233.1,287.5 233.8,290.6M198.8,289.4 202.5,291.9 208.1,293.1 211.9,287.5 216.2,285.0 222.5,284.4 227.5,285.0 233.1,287.5M233.8,290.6 238.8,290.0 245.0,288.8 250.0,286.9 255.0,288.1 260.0,286.9 265.0,285.6M233.8,290.6 232.5,295.0 231.2,300.0 228.8,303.1 225.0,304.4 222.5,308.8 223.8,313.8 226.2,318.1 227.5,323.8M227.5,323.8 222.5,324.4 218.8,327.5 215.0,333.1M227.5,323.8 231.2,325.0 235.0,327.5 237.5,322.5 242.5,320.0 247.5,320.6 248.8,315.0 250.0,308.8 253.8,306.2 256.2,307.5M247.5,320.6 250.0,325.0 253.8,328.8 257.5,330.0 261.2,335.0M261.2,335.0 265.0,331.2 271.2,328.1 276.2,326.2 278.8,321.2 280.6,318.1M261.2,335.0 258.8,337.5 252.5,340.0 248.8,345.0 246.2,348.8 241.2,352.5 235.0,353.8 230.0,353.8M252.5,340.0 253.8,345.0 256.2,348.8 258.8,352.5 262.5,351.2 270.0,352.5 277.5,353.1 282.5,352.5M258.8,352.5 257.5,357.5 260.0,362.5 261.9,368.8 260.0,372.5 263.1,373.1 268.8,371.2 275.0,368.8 280.0,369.4 282.5,366.2M240.0,366.9 246.2,367.5 252.5,368.8 256.2,372.5 260.0,372.5M283.8,336.9 282.5,342.5 282.5,347.5 283.1,351.9M306.2,361.2 311.2,361.9 315.0,365.0M237.5,353.1 239.4,358.8 236.2,363.8 233.8,370.0 232.5,377.5 233.8,385.0 236.2,388.8M233.8,370.0 238.8,366.9 240.0,366.9M283.1,396.9 285.0,400.0 290.0,395.0M218.1,390.6 222.5,382.5 226.2,376.2 230.0,368.8 233.8,362.5 237.5,357.5M228.8,353.1 240.5,352.5" fill="none" stroke="#fbe3d2" stroke-width="1.2" stroke-linejoin="round"/><path d="M290.6,372.5 293.8,368.8 298.8,365.0 305.0,360.6 310.0,356.9 317.5,352.5 325.0,348.1 330.0,344.4 335.0,343.8M266.2,418.8 268.8,422.5 272.5,422.5 276.2,420.0 280.0,417.5 282.5,413.8 286.2,411.9 292.5,412.5 298.8,413.8 301.2,411.9M251.2,402.5 250.0,393.8 252.5,391.2 258.8,392.5 261.2,390.0 263.8,392.5 262.5,396.2 267.5,398.8 272.5,398.8M306.2,377.5 310.0,380.0 311.9,383.1 312.5,387.5M253.1,426.2 253.8,421.9 256.9,420.4 261.9,418.5 266.2,419.0" fill="none" stroke="#8c8c8c" stroke-width="2.6" stroke-linejoin="round" stroke-linecap="round" stroke-opacity="0.9"/><path d="M586.2,452.5 589.5,462.5 590.5,470.0 590.0,479.5 580.0,480.8 571.2,480.0 567.0,478.0 565.8,473.8 568.8,470.5 575.0,470.0 579.5,467.0 580.8,461.2 583.0,456.2Z" fill="#8c8c8c"/><path d="M93.8,427.5 92.5,421.2 98.8,417.5 105.0,418.8 103.8,423.8 100.0,427.5Z" fill="#8c8c8c"/></g><path d="M265.0,193.0 268.8,190.0 270.3,187.3 271.4,184.4 273.1,181.8 273.8,178.8 276.3,177.6 278.3,175.9 280.0,173.8 282.5,172.4 285.2,171.7 287.4,169.7 290.0,168.8 293.8,168.5 297.5,168.8 299.5,171.8 301.2,175.0 304.2,176.4 307.4,177.1 310.7,176.9 313.8,178.0 316.3,178.9 318.8,180.1 321.3,181.2 323.8,182.5 327.1,182.5 330.4,182.7 333.8,183.0 336.2,187.5M265.0,195.0 267.7,195.8 270.0,197.5 271.5,199.7 272.7,202.2 274.6,204.1 276.2,206.2 277.0,209.0 278.7,211.3 280.5,213.5 281.2,216.2 283.5,219.0 286.2,221.2 288.5,223.0 291.2,223.8 292.8,226.5 294.5,229.3 295.0,232.5 300.0,233.8 301.9,236.9 303.8,240.0 305.8,241.7 307.8,243.4 310.0,245.0 313.0,246.4 316.2,246.2M316.2,246.2 317.7,243.9 319.2,241.5 320.0,238.8 320.2,235.2 321.7,232.1 322.5,228.8 325.2,227.9 327.2,225.7 329.7,224.4 332.5,223.8 335.8,224.1 339.2,224.4 342.5,223.8 346.0,225.1 348.8,227.5M300.0,233.8 299.8,236.7 300.6,239.6 300.0,242.5 297.2,244.7 295.0,247.5 293.5,250.5 292.5,253.8 288.8,254.8 285.0,255.0 282.8,257.4 279.7,258.8 277.5,261.2 275.0,262.1 272.4,262.5 270.0,263.8 267.1,264.7 264.2,265.7 261.2,266.2 260.0,263.3 257.5,261.2 253.8,260.4 250.0,260.0 245.0,260.0 242.5,259.2 240.0,258.3 237.5,257.5 234.7,256.3 231.8,255.5 228.8,255.0M245.0,260.0 244.3,263.1 245.1,266.2 244.5,269.4 245.0,272.5 247.4,273.7 249.8,274.9 252.3,275.8 255.0,276.2 257.7,278.0 260.6,279.3 263.8,280.0 264.0,282.8 265.4,285.1 266.5,287.5 267.5,290.0 268.0,292.6 268.7,295.2 270.0,297.5 272.6,299.1 275.1,300.7 277.5,302.5 279.8,304.7 281.2,307.5 282.5,312.5 284.6,310.9 286.2,308.8 289.1,309.9 292.1,309.4 295.0,310.0 298.8,307.5 300.1,310.3 300.9,313.2 301.2,316.2 304.4,317.4 307.5,318.8M316.2,246.2 314.8,248.5 312.3,249.9 311.2,252.5 310.6,255.3 309.0,257.6 308.1,260.3 306.2,262.5 305.7,265.6 305.2,268.7 305.8,271.9 305.0,275.0 306.0,278.1 305.7,281.2 305.8,284.4 306.2,287.5 306.9,290.3 309.4,292.2 310.0,295.0 311.8,297.2 313.0,299.8 313.8,302.5 314.6,305.8 315.0,309.1 315.0,312.5 312.7,314.3 310.7,316.6 308.8,318.8 310.4,321.5 311.7,324.4 312.5,327.5 315.2,329.8 317.5,332.5 317.4,336.3 316.2,340.0 314.1,341.6 312.5,343.8M300.0,295.0 301.6,292.3 303.8,290.0 306.2,291.3 308.8,292.5 310.0,297.5 307.3,298.3 305.0,300.0 301.2,298.8 300.0,295.0M316.2,246.2 319.4,247.5 322.5,248.8 321.6,252.0 320.0,255.0 319.8,258.0 320.2,260.9 321.2,263.8 323.5,265.2 325.4,267.1 327.5,268.8 330.0,265.0 335.0,266.2 336.8,268.4 339.5,269.2 342.0,270.4 344.4,271.7 346.2,273.8 343.8,277.5 345.6,279.6 348.0,280.9 350.6,281.8 352.7,283.5 355.0,285.0 357.5,286.3 360.2,287.2 362.5,288.8 365.5,290.1 368.7,290.2 372.0,290.2 375.0,291.2M312.5,343.8 314.7,341.8 317.5,341.2 320.0,340.0 323.4,340.6 326.6,342.1 330.0,342.5 333.7,343.5 337.5,343.8 341.2,344.5 345.0,345.0 347.5,347.1 349.6,349.6 351.2,352.5 352.2,356.2 352.5,360.0 351.2,362.7 348.7,364.7 347.5,367.5 346.6,370.8 345.6,374.1 345.0,377.5M335.0,377.5 333.6,380.0 334.1,383.0 333.1,385.6 333.0,388.5 331.5,390.9 331.2,393.8 332.5,396.6 331.6,399.7 332.5,402.5 334.2,405.0 336.3,407.0 338.8,408.8 342.2,410.1 345.0,412.5 346.6,409.8 348.8,407.5 348.2,404.9 346.5,402.7 346.2,400.0 345.3,397.2 344.3,394.4 344.1,391.3 342.5,388.8 342.0,385.0 341.2,381.2 343.4,383.4 346.4,384.3 348.8,386.2 351.7,386.3 354.6,385.3 357.5,385.0 359.8,386.5 362.7,386.0 365.0,387.5 367.7,387.2 369.9,385.4 372.5,385.0 375.0,383.8 377.5,382.5 380.0,381.2 381.7,383.5 382.0,386.5 383.8,388.8 387.0,388.0 390.4,387.6 393.8,387.5 395.6,389.7 396.2,392.5 399.4,392.2 402.5,392.5 405.0,390.0 407.5,387.5 410.3,388.7 413.4,389.0 416.2,390.0 418.6,392.3 421.7,393.7 423.8,396.2 427.0,398.0 430.0,400.0 432.9,400.4 435.7,401.6 438.8,401.2 438.6,404.2 439.3,407.1 440.0,410.0 440.8,413.8 440.0,417.5 442.6,418.6 445.0,420.0M467.5,330.0 468.4,332.7 470.4,334.8 471.2,337.5 472.4,340.0 473.8,342.5 475.7,344.6 476.2,347.5 472.9,348.5 470.2,350.4 467.5,352.5 469.2,354.8 469.8,357.6 471.2,360.0 473.6,361.6 475.5,363.6 477.5,365.7 479.8,367.3 481.8,369.2 483.8,371.2 481.0,372.2 478.2,372.5 475.6,373.9 472.9,374.7 470.0,375.0 467.3,376.2 465.1,378.4 462.1,379.1 460.0,381.2 457.8,383.7 455.6,386.0 453.8,388.8 454.4,391.6 454.1,394.7 455.0,397.5 455.7,400.6 455.0,403.8 455.6,406.7 455.6,409.6 455.0,412.5 452.6,414.2 450.4,416.0 448.8,418.5 446.2,420.0 443.1,418.9 440.0,417.5 440.5,413.8 440.0,410.0 439.3,407.0 437.7,404.3 437.5,401.2 433.7,401.1 430.0,400.0M445.0,420.0 442.2,421.0 439.3,421.4 436.2,421.2 433.4,421.1 430.5,421.3 427.9,419.6 425.0,420.0 421.9,420.4 418.7,420.6 415.6,420.7 412.5,421.2 412.7,424.5 413.8,427.5 416.6,429.8 420.0,431.2 422.6,433.6 425.0,436.2 424.0,439.5 422.5,442.5 420.7,444.5 419.3,446.8 417.0,448.2 415.0,450.0 412.3,451.8 409.5,453.6 407.5,456.2 404.8,457.1 402.4,458.5 400.0,460.0 398.2,462.4 397.3,465.4 395.0,467.5 394.4,470.5 393.6,473.4 392.5,476.2 391.0,479.1 390.6,482.3 388.8,485.0 387.7,487.6 386.2,490.0 385.0,492.5 385.4,495.9 386.2,499.3 387.5,502.5 386.5,505.8 386.4,509.3 385.0,512.5 384.0,516.2 383.8,520.0 384.8,522.6 386.8,524.4 388.6,526.4 390.0,528.8 391.9,531.3 393.8,533.8 392.3,536.0 390.0,537.5 387.4,538.0 384.8,538.4 382.5,540.0 381.6,543.3 380.5,546.6 380.0,550.0M455.0,403.8 458.2,404.0 461.2,402.6 464.4,403.5 467.5,402.5 472.5,403.8 474.9,405.2 477.7,405.8 480.0,407.5 483.2,406.0 486.6,405.4 490.0,405.0 492.9,404.7 495.9,404.5 498.8,403.8 501.6,402.7 504.8,402.7 507.5,401.2 509.9,399.2 512.5,397.5 515.0,398.7 517.8,399.5 520.0,401.2 522.2,403.2 525.3,403.2 527.5,405.0 530.3,404.3 532.5,402.6 535.0,401.2 538.8,400.7 542.5,400.0 543.4,397.1 543.8,394.1 545.0,391.2 547.9,389.7 550.5,387.7 552.5,385.0 556.3,384.9 560.0,383.8M567.5,352.5 566.5,354.9 566.4,357.7 565.0,360.0 562.9,361.8 561.9,364.4 560.0,366.2 560.7,369.6 562.5,372.5 561.6,375.8 560.0,378.8 560.0,383.8M560.0,383.8 560.7,386.7 561.2,389.7 562.5,392.5 562.1,395.2 560.8,397.5 560.0,400.0 559.8,402.7 559.0,405.2 557.5,407.5 556.3,410.3 553.5,412.1 552.5,415.0 549.7,415.6 547.4,417.3 545.1,419.0 542.5,420.0 539.8,421.9 537.3,423.9 535.0,426.2 531.9,427.1 528.7,427.4 525.5,427.6 522.5,428.8 522.5,431.2 519.7,432.4 516.7,432.6 513.8,432.5 513.2,435.6 512.5,438.8 515.3,439.5 517.6,441.1 520.0,442.5 522.9,444.3 526.1,445.4 528.8,447.5 528.8,452.5 530.8,454.2 533.2,455.5 535.0,457.5 535.7,460.0 536.9,462.4 537.5,465.0 539.4,466.8 542.1,467.8 543.8,470.0 545.4,472.7 547.5,475.0 550.3,476.4 552.5,478.8M561.2,457.5 562.5,461.0 565.0,463.8 566.8,465.7 568.8,467.5 567.5,470.6 566.2,473.8M455.0,412.5 456.8,415.3 458.2,418.4 460.0,421.2 461.7,423.3 463.5,425.3 465.3,427.2 467.5,428.8 468.4,431.7 468.4,434.8 470.0,437.5 471.5,440.0 473.3,442.2 475.7,444.0 477.5,446.2 476.1,448.6 474.4,450.7 472.5,452.6 471.5,455.2 470.0,457.5M470.0,457.5 473.1,457.9 476.3,458.0 479.3,459.1 482.5,458.8 485.3,458.2 488.0,457.4 491.0,458.2 493.8,457.5 493.1,460.4 493.4,463.3 493.8,466.2 496.6,466.8 499.5,467.5 502.5,467.5 505.6,466.9 508.8,467.0 511.8,465.9 515.0,466.2 515.3,463.2 516.6,460.4 517.5,457.5 520.0,458.3 522.6,459.0 525.0,460.0 528.3,461.0 530.7,463.6 533.8,465.0 537.5,465.0M470.0,456.2 467.8,457.8 465.9,459.7 463.6,461.2 461.2,462.5 460.6,465.9 460.0,469.3 458.8,472.5 458.1,475.3 455.7,477.2 454.3,479.7 453.5,482.4 452.5,485.0 449.8,485.5 447.5,487.2 444.8,487.7 442.7,489.6 439.8,489.8 437.5,491.2 435.5,493.4 433.3,495.2 432.4,498.2 430.0,500.0 429.8,503.0 431.1,506.0 430.7,509.0 430.3,512.1 431.2,515.0 433.8,516.0 435.7,518.0 437.5,520.0 437.5,523.8 433.7,523.4 430.0,522.5 427.1,522.1 424.2,521.9 421.7,520.0 418.8,520.0 420.2,523.4 422.5,526.2 423.1,529.6 423.6,532.9 423.8,536.2 424.2,539.1 425.7,541.7 426.4,544.5 426.2,547.5 423.7,549.6 422.3,552.7 420.0,555.0 417.8,556.9 415.2,558.2 412.9,560.0 411.2,562.5 410.5,565.8 410.0,569.3 408.8,572.5 405.9,573.6 402.7,573.5 400.0,575.0M486.2,541.2 483.7,542.9 482.4,545.8 480.0,547.5 476.5,547.8 473.4,549.4 470.0,550.0 467.5,548.8 464.8,548.0 462.5,546.2 461.1,543.9 458.8,542.5 456.2,543.5 454.9,546.2 452.5,547.5 450.3,549.4 448.7,552.0 446.2,553.8 445.0,557.4 445.0,561.2 441.8,562.4 438.4,562.7 435.0,562.5 434.1,559.8 432.5,557.5 431.5,560.5 429.4,563.1 428.8,566.2 425.6,567.0 422.8,568.4 420.0,570.0 417.3,571.2 414.3,570.9 411.4,571.2 408.8,572.5M203.8,510.0 206.9,511.8 210.0,513.8 212.1,511.1 214.7,509.2 217.5,507.5 217.8,504.3 218.8,501.2 221.4,500.7 223.6,499.1 226.2,498.8 227.0,495.4 228.8,492.5 225.5,491.6 222.5,490.0 225.2,488.1 227.8,486.2 230.0,483.8 232.4,482.7 235.1,482.3 237.5,481.2 235.2,479.7 232.6,479.2 229.8,478.8 227.5,477.5 228.8,472.5 231.5,471.6 234.5,471.9 237.2,470.9 240.0,470.0 242.0,472.3 243.1,475.1 245.0,477.5 247.7,477.6 249.8,479.7 252.5,479.7 255.0,480.5 257.5,481.2 260.6,481.9 263.9,481.8 266.8,483.3 270.0,483.8 272.9,483.7 275.7,484.0 278.4,485.2 281.2,485.0 283.7,487.8 285.0,491.2 287.3,489.7 290.2,489.1 292.5,487.5 294.3,484.7 296.4,482.3 298.8,480.0 301.7,478.8 304.4,477.0 307.5,476.2 311.1,477.5 315.0,477.5 314.9,480.8 316.2,483.8 319.1,482.6 322.1,482.9 325.0,482.5 328.4,482.1 331.6,480.7 335.0,480.0 338.4,480.3 341.7,479.2 345.0,478.8 348.3,477.8 351.7,478.0 355.0,477.5 358.3,478.1 361.7,478.1 365.0,478.8 368.1,479.3 371.2,479.8 374.4,479.7 377.5,480.0 380.3,481.3 382.9,483.0 385.8,484.0 388.8,485.0M160.0,400.0 163.0,400.0 166.0,400.7 169.0,399.5 172.0,400.4 175.0,400.0 178.0,399.7 181.0,400.7 184.0,400.3 187.0,400.9 190.0,401.2 192.3,402.6 194.8,403.6 197.3,404.5 200.0,405.0 203.0,405.0 205.8,405.8 208.8,406.2 210.0,410.0 211.9,411.9 213.0,414.4 214.7,416.6 216.2,418.8 218.2,421.6 218.8,425.0 220.7,426.8 222.7,428.6 225.0,430.0 227.4,431.4 229.7,433.0 232.7,433.3 235.0,435.0 237.7,435.3 240.2,435.9 242.5,437.5 241.7,440.0 240.9,442.5 240.0,445.0 240.9,447.5 242.0,449.9 242.5,452.5 239.7,453.8 237.9,456.4 235.0,457.5 233.2,459.7 232.5,462.5 234.9,464.3 237.5,465.9 240.0,467.5 237.3,468.7 235.2,471.0 232.8,472.7 230.0,473.8 229.0,476.4 227.5,478.8 230.5,478.7 233.2,479.7 235.9,480.8 238.8,481.2 235.8,482.5 233.1,484.1 230.0,485.0 227.8,486.6 226.2,488.8 223.8,490.0 225.2,493.4 227.5,496.2 225.3,498.7 222.8,500.7 220.0,502.5 219.7,505.2 218.0,507.4 217.5,510.0 214.8,510.3 212.4,511.2 210.0,512.5M253.1,426.2 251.9,427.5 248.1,430.0 248.8,433.1 246.5,434.7 243.8,435.0 242.5,437.5M388.8,485.0 387.9,487.6 387.1,490.1 386.4,492.7 385.0,495.0 384.6,498.2 386.4,501.2 386.0,504.4 386.2,507.5 385.5,510.6 384.9,513.7 385.9,516.9 385.0,520.0 386.9,522.5 388.4,525.2 391.2,527.1 392.5,530.0 394.1,532.3 395.0,535.0 392.3,535.2 390.2,537.2 387.5,537.5 385.5,539.3 383.5,541.1 381.2,542.5 381.0,545.4 381.1,548.4 380.0,551.2 383.0,552.8 384.5,556.0 387.5,557.5 388.8,560.2 390.5,562.7 392.5,565.0M380.0,551.2 377.3,549.9 374.8,548.2 372.5,546.2 372.3,543.4 371.5,540.7 371.5,537.8 371.2,535.0 368.5,532.5 365.0,531.2 361.7,531.9 358.4,532.3 355.0,532.5 352.8,530.6 350.1,529.8 347.2,529.4 345.0,527.5 342.4,526.4 340.1,524.8 337.2,524.4 335.0,522.5 334.6,525.7 333.8,528.8 331.6,531.7 330.0,535.0 327.2,536.2 324.9,538.2 322.5,540.0 322.3,543.0 323.4,545.8 323.8,548.8 322.0,551.0 319.6,552.8 318.3,555.4 316.2,557.5 313.0,557.7 310.0,558.8M310.0,558.8 307.8,561.2 305.2,563.1 302.5,565.0 301.0,567.2 298.7,568.7 297.3,571.0 295.0,572.5 292.8,574.9 290.3,577.0 287.5,578.8 286.3,581.9 285.0,585.0 281.6,584.9 278.3,584.3 275.0,583.8 271.7,583.6 268.8,585.0 268.5,588.8 268.8,592.5 265.6,593.2 263.1,595.4 260.0,596.2 257.1,596.9 254.3,597.8 251.2,597.5 248.9,598.8 247.0,600.8 244.9,602.5 242.5,603.8 241.4,606.3 239.6,608.2 237.5,610.0 238.7,613.2 239.3,616.6 240.0,620.0 237.4,621.6 235.6,623.9 233.8,626.2 230.0,626.6 226.2,626.2 222.5,626.2M233.8,626.2 235.8,629.3 237.5,632.5 238.1,636.2 237.5,640.0 235.1,642.1 233.8,645.0 231.2,645.0M310.0,558.8 312.2,560.7 313.9,563.2 316.2,565.0 315.9,567.9 315.6,570.8 316.2,573.8 317.4,576.6 317.4,579.5 317.5,582.5 315.8,585.7 313.8,588.8 314.1,591.6 312.5,594.3 313.1,597.2 312.5,600.0 311.3,602.4 310.8,605.0 310.0,607.5 312.9,608.8 315.0,611.2 315.2,614.2 315.4,617.1 315.0,620.0M315.0,620.0 318.2,619.6 321.3,620.1 324.4,621.1 327.5,621.2 329.8,619.8 332.4,619.5 335.0,618.9 337.5,618.3 340.0,617.5 342.3,616.2 345.1,616.3 347.4,614.9 350.1,614.8 352.5,613.8 354.4,611.0 355.3,607.6 357.5,605.0 360.5,603.9 363.7,603.4 366.9,603.5 370.0,602.5 372.4,600.3 374.9,598.2 377.5,596.2 380.3,595.5 382.5,593.8 385.3,595.9 387.5,598.8 387.5,593.8 389.9,592.6 392.4,591.8 395.0,591.2M394.9,591.3 397.3,589.2 400.1,587.8 402.5,585.8 405.6,585.1 407.1,582.5 409.7,581.0 411.3,577.7 412.4,574.2 407.7,573.5 404.7,573.4 401.7,573.0 398.8,573.5 398.5,569.5 396.7,566.0 392.5,565.0M412.4,574.2 415.0,572.3 418.0,571.2 420.6,569.4M315.0,600.0 313.9,603.3 314.6,606.7 313.8,610.0 313.0,613.3 312.7,616.6 312.5,620.0 309.8,620.1 307.3,621.1 305.0,622.5 305.0,625.9 304.0,629.1 303.8,632.5 304.8,635.3 304.7,638.3 305.0,641.2 302.6,642.2 300.2,643.6 297.5,643.8 298.1,647.1 298.6,650.4 298.8,653.8 299.6,656.2 300.8,658.6 301.2,661.2 305.0,660.0 310.0,661.2 311.8,664.2 312.5,667.5 310.1,670.1 307.5,672.5 302.5,672.5 301.8,669.4 301.2,666.2 302.6,669.0 302.7,672.2 303.8,675.0 306.7,674.6 309.6,674.3 312.5,675.0 314.9,673.5 317.4,672.4 320.0,671.2 323.0,670.1 326.2,670.0 327.4,672.6 328.5,675.1 330.0,677.5 332.5,678.8 335.0,680.0 336.6,683.3 338.8,686.2 339.1,689.3 338.1,692.1 337.5,695.0 335.8,697.6 333.8,700.0 330.9,699.4 328.7,697.6 326.2,696.2 324.1,698.1 321.2,698.8M333.8,700.0 335.8,697.9 338.0,695.9 340.0,693.8 342.5,692.8 344.9,691.6 347.4,690.6 350.0,690.0 353.1,688.4 356.6,688.1 360.0,687.5 363.1,687.3 365.9,685.9 368.8,685.0 370.6,682.6 373.1,681.0 375.0,678.8 380.0,680.0M321.2,698.8 320.5,701.8 318.8,704.4 317.3,707.1 316.2,710.0 316.8,712.8 318.8,715.0 316.8,716.8 314.5,718.2 312.5,720.0 309.0,720.1 305.7,721.2 302.5,722.5 299.1,723.1 295.8,724.0 292.5,725.0M292.5,725.0 290.2,723.6 288.0,722.0 285.7,720.6 283.8,718.8 281.0,717.4 278.1,716.5 275.0,716.2 272.4,714.3 270.4,711.6 267.5,710.0 265.1,708.3 263.3,706.0 261.9,703.4 260.0,701.2 256.8,700.3 253.8,698.8 251.2,696.2M292.5,725.0 289.6,726.0 286.5,725.9 283.8,727.5 286.3,729.6 288.3,732.2 290.0,735.0 293.3,736.5 296.2,738.8 295.3,741.8 295.0,745.0 297.0,747.3 299.0,749.6 300.0,752.5 298.8,757.5 301.8,758.8 305.0,760.0 306.0,763.3 307.1,766.6 307.5,770.0 308.3,772.5 308.9,775.1 310.0,777.5 309.1,780.4 308.1,783.3 307.5,786.2 307.0,789.2 306.1,792.0 306.2,795.0 306.1,798.9 307.5,802.5 306.2,807.5M565.0,336.2 567.9,335.6 570.8,335.2 573.8,335.0 576.8,335.0 579.6,333.5 582.6,333.5 585.5,332.5M608.8,346.2 607.9,349.1 607.3,352.0 607.0,355.0 605.9,358.7 606.2,362.5M608.8,370.0 612.1,368.6 615.0,366.2 618.3,365.3 621.7,365.6 625.0,365.0 627.5,365.9 630.0,367.0 632.6,367.6 635.0,368.8 637.6,369.3 639.9,370.8 642.5,371.2 645.0,369.4 647.2,367.2 649.8,365.3 652.5,363.8 655.3,363.8 658.2,363.9 660.9,364.7 663.8,365.0 665.2,367.3 666.1,369.8 666.2,372.5 669.5,373.6 672.4,375.3 675.0,377.5 676.0,380.1 678.1,382.2 678.8,385.0 675.9,386.3 672.7,387.1 670.0,388.8M661.2,341.2 663.7,340.5 666.1,339.2 668.9,339.6 671.4,338.8 673.8,337.5 676.6,337.2 679.3,337.9 682.0,338.7 684.7,339.6 687.5,339.5 690.6,339.1 693.8,339.5 696.9,338.5 700.0,338.8 702.1,336.6 703.4,333.9 705.1,331.6 707.5,329.7 709.4,327.5 711.1,325.1 712.5,322.5 715.0,321.9 717.5,320.9 720.1,320.7 722.6,319.8 725.1,319.4 727.6,318.7 730.0,317.5 732.3,316.2 734.9,315.9 737.6,315.6 739.9,314.2 742.4,313.4 744.8,312.5 747.5,312.5 751.2,312.6 755.0,312.5 752.7,315.1 751.0,318.0 750.0,321.2 752.2,323.4 753.1,326.4 755.0,328.8 752.5,329.8 749.9,330.4 747.6,331.7 745.0,332.5 742.6,333.9 740.7,335.7 739.9,338.6 737.5,340.0 737.2,343.1 737.5,346.2M737.5,340.0 734.2,341.0 730.9,341.6 727.5,341.2 725.2,343.2 722.3,344.3 719.6,345.6 717.8,348.4 715.2,349.8 712.5,351.2 711.5,354.5 709.1,357.0 707.5,360.0 706.0,362.5 704.5,365.1 703.1,367.7 701.2,370.0 698.7,371.5 696.5,373.3 694.9,375.9 692.5,377.5 693.9,379.9 694.8,382.6 696.2,385.0 698.4,383.4 700.5,381.8 701.7,379.2 703.8,377.5 706.6,377.8 709.4,377.6 712.2,378.0 715.0,377.5 717.8,375.1 721.2,373.8 722.5,378.8M696.2,385.0 695.2,387.8 693.8,390.3 691.2,392.1 690.6,395.2 688.8,397.5 687.5,400.0 686.8,402.8 685.0,405.0 684.9,408.4 684.9,411.8 683.8,415.0 686.9,415.7 690.1,415.7 693.1,417.1 696.2,417.5M676.2,388.8 674.4,390.7 672.4,392.4 670.0,393.8 666.2,395.0 665.9,398.3 665.6,401.7 665.0,405.0 666.0,408.0 666.2,411.2 671.2,412.5 672.8,409.9 674.9,407.8 677.5,406.2 680.4,408.1 683.8,408.8M666.2,411.2 666.9,414.0 667.5,416.8 667.7,419.6 667.5,422.5 667.8,425.6 667.3,428.8 668.9,431.8 668.8,435.0M665.0,406.2 662.3,406.5 660.0,407.9 657.5,408.8" fill="none" stroke="#7e7e7e" stroke-width="1.8" stroke-linejoin="round" stroke-linecap="round"/><path d="M195.0,83.8 196.8,81.2 198.8,78.8 201.7,77.2 204.9,75.9 207.5,73.8 208.7,70.0 210.0,66.2 213.1,65.9 216.3,65.7 219.3,64.9 222.5,65.0 223.8,62.0 227.2,61.0 230.7,60.2 234.2,59.4 237.5,58.0 240.3,56.6 243.3,56.1 246.2,55.5 249.3,55.8 252.0,57.6 255.0,58.0 257.9,57.0 260.5,55.5 262.9,57.9 263.8,61.4 266.2,63.8 268.7,66.0 271.6,67.4 274.4,69.1 277.5,70.3 280.0,72.5 283.2,73.8 285.6,76.3 288.8,77.6 291.2,80.0 294.1,82.9 296.2,86.2 297.5,92.0 300.7,92.7 304.0,93.5 306.9,95.1 310.0,96.2 311.3,99.1 312.5,102.0 315.7,102.0 318.8,101.0 321.9,100.7 325.0,100.0 327.8,98.1 330.8,96.4 333.4,94.3 336.2,92.5 339.2,91.9 342.3,92.7 345.3,92.4 348.3,92.0 351.2,91.2 355.0,88.0 358.2,89.8 361.8,90.8 365.0,92.5 368.8,92.1 372.5,92.5 375.0,94.8 377.6,97.1 379.5,100.0 379.0,103.0 379.3,106.0 378.6,109.0 379.1,112.0 378.8,115.0 376.1,117.5 374.2,120.6 372.5,123.8 371.4,127.0 369.5,129.8 367.5,132.5 364.7,133.9 362.5,136.2 361.3,139.4 360.0,142.5 356.5,142.7 353.4,144.3 350.0,145.0 349.3,148.9 347.5,152.5 349.9,155.1 352.5,157.5 350.0,162.5 353.2,164.5 356.8,165.5 360.0,167.5 360.6,171.2 360.0,175.0 361.5,177.8 361.9,181.1 363.8,183.8 360.8,184.9 358.5,187.2 355.7,188.6 353.0,190.2 350.0,191.2 346.4,188.6 343.8,185.0 339.9,185.9 336.2,187.5 337.5,192.5 339.6,195.6 340.8,199.2 342.5,202.5 343.3,205.5 344.4,208.4 344.4,211.6 346.0,214.4 346.2,217.5 351.2,218.8 353.0,222.0 355.0,225.0 356.2,226.2 359.3,227.0 361.9,228.6 364.9,229.6 367.5,231.2 371.0,232.6 373.9,235.2 377.5,236.2 380.0,241.2 382.7,243.3 386.0,244.3 388.5,246.7 391.9,247.6 394.7,249.5 397.5,251.2 394.7,253.0 392.4,255.3 390.0,257.5 388.4,260.7 385.3,262.9 383.8,266.2 383.5,269.5 382.8,272.6 381.5,275.6 381.2,278.8 379.9,282.0 378.4,285.1 377.1,288.4 375.0,291.2 378.5,292.0 381.6,293.9 385.0,295.0 388.2,295.3 391.2,296.2 393.9,298.4 396.9,300.1 399.5,302.2 401.9,304.8 405.0,306.2 407.8,307.7 410.5,309.3 413.0,311.2 416.2,311.9 418.8,313.8 421.8,314.6 424.1,316.8 427.0,317.9 430.0,318.8 434.4,319.3 438.8,320.5 440.0,325.0 443.2,325.2 446.2,326.6 449.3,327.5 452.5,327.5 456.0,327.2 459.4,328.4 462.8,328.4 466.2,328.0 469.4,326.9 472.5,325.5 475.5,326.9 478.6,328.0 481.2,330.0 484.3,332.7 486.2,336.2 488.7,338.7 492.1,339.7 494.5,342.1 497.5,343.8 500.8,343.0 504.2,343.4 507.5,342.5 509.9,344.7 512.7,346.4 515.0,348.8 518.1,348.8 520.9,350.1 524.1,349.7 527.1,350.4 530.0,351.2 533.7,351.9 537.4,352.9 541.2,353.0 544.5,353.8 547.8,354.0 551.0,355.0 555.0,355.0 558.5,354.7 561.6,352.9 565.0,352.5 568.8,353.8 567.5,350.8 567.5,347.5 566.4,343.8 565.8,340.0 565.0,336.2 565.2,332.4 566.2,328.7 567.5,325.0 567.3,321.2 567.6,317.5 567.5,313.8 570.6,311.9 574.1,310.7 577.5,309.5 580.5,310.9 583.8,311.2 583.7,315.7 585.0,320.0 584.2,323.1 583.8,326.2 584.4,329.4 585.5,332.5 583.8,336.2 586.8,338.8 590.0,341.2 594.5,341.6 598.8,343.0 602.3,343.5 605.6,344.5 608.8,346.2 612.0,346.2 615.0,345.0 618.3,343.4 621.2,341.2 623.9,343.1 627.3,343.1 630.0,345.0 633.1,344.9 636.2,344.4 639.4,344.4 642.5,343.8 645.6,343.2 648.8,343.8 651.8,342.2 655.0,342.5 658.1,341.9 661.2,341.2 661.2,341.2 661.6,338.1 661.8,335.0 661.6,331.9 661.2,328.8 658.6,327.2 655.8,325.9 653.0,324.5 650.0,323.8 649.5,320.0 649.5,316.2 653.5,317.1 657.5,317.5 662.0,317.4 666.2,316.2 669.9,314.6 672.9,312.0 676.2,310.0 680.0,306.2 683.1,305.4 686.0,304.2 688.8,302.5 690.7,298.8 692.5,295.0 696.0,294.7 699.4,293.8 702.8,293.6 706.2,293.0 708.6,290.2 710.2,286.8 713.0,284.3 715.0,281.2 717.9,280.0 720.3,278.0 722.5,275.8 724.8,278.1 727.5,280.0 730.5,280.3 733.4,281.3 736.5,281.6 739.5,281.9 742.5,282.5 745.3,280.8 747.1,277.9 750.0,276.2 753.9,274.7 757.5,272.5 761.0,274.5 763.8,277.5 761.1,279.9 758.8,282.5 763.1,282.5 767.5,282.5 769.1,286.1 770.0,290.0 768.2,292.7 766.9,295.6 765.2,298.4 763.8,301.2 767.5,301.8 771.2,300.9 775.0,301.2 778.4,301.9 781.4,303.5 784.3,305.2 787.5,306.2 788.5,309.3 788.8,312.5 785.9,315.4 782.5,317.5 780.0,319.6 778.2,322.4 776.2,325.0 778.4,328.3 780.0,332.0 782.5,335.0 778.7,334.0 775.0,332.5 772.6,330.4 770.0,328.8 766.8,330.0 763.4,330.5 760.0,331.2 756.4,333.0 753.0,334.9 750.0,337.5 747.2,338.8 745.1,341.1 742.4,342.7 740.1,344.7 737.5,346.2 736.7,349.6 735.0,352.5 734.8,355.5 734.0,358.5 733.8,361.5 733.7,364.5 733.8,367.5 731.3,371.0 730.0,375.0 726.4,377.2 722.5,378.8 723.8,382.4 724.2,386.2 725.0,390.0 724.0,393.2 722.9,396.4 721.4,399.4 720.0,402.5 718.4,405.6 717.1,408.8 715.9,412.0 713.7,414.8 712.1,417.8 711.2,421.2 708.2,420.6 705.1,420.3 702.1,419.6 699.4,417.7 696.2,417.5 693.8,417.5 694.4,421.0 693.5,424.5 693.7,428.0 694.0,431.5 693.8,435.0 691.0,437.2 689.2,440.5 686.2,442.5 687.1,445.6 686.9,448.7 687.8,451.8 687.5,455.0 687.0,459.4 687.5,463.8 684.6,467.1 681.2,470.0 677.5,466.2 673.8,468.8 673.0,465.5 672.6,462.3 673.2,459.0 672.7,455.8 672.5,452.5 671.9,449.5 671.2,446.4 670.7,443.4 670.1,440.3 668.8,437.5 668.6,434.3 667.5,431.3 667.4,428.1 667.0,425.0 664.0,426.7 660.9,428.1 657.5,428.8 656.7,432.1 655.5,435.3 655.0,438.8 653.5,441.9 651.2,444.5 648.0,443.2 645.0,441.2 644.2,437.5 643.8,433.8 642.8,430.7 641.3,427.9 640.0,425.0 641.8,421.7 643.7,418.5 645.0,415.0 648.7,413.6 652.5,412.5 655.2,411.2 657.8,409.6 660.0,407.5 665.0,405.0 664.8,401.6 666.4,398.4 666.2,395.0 668.4,392.0 670.0,388.8 667.0,389.0 664.0,388.3 661.0,387.8 658.0,387.2 655.0,387.5 651.5,387.2 648.0,386.4 644.6,385.5 641.1,385.1 637.5,385.0 634.4,384.6 631.5,385.6 628.5,385.5 625.5,386.4 622.5,386.2 618.9,385.3 615.3,384.6 611.7,384.2 608.0,383.8 609.3,380.1 610.0,376.2 609.0,373.2 608.8,370.0 608.0,366.1 606.2,362.5 605.0,363.8 601.4,362.5 597.5,362.5 595.4,359.9 592.5,358.3 590.0,356.2 586.8,356.5 583.8,357.5 579.9,355.8 576.2,353.8 572.8,355.1 570.0,357.5 567.7,361.0 566.2,365.0 568.3,368.7 570.0,372.5 573.6,374.1 576.7,376.6 580.0,378.8 582.5,380.5 584.8,382.4 587.5,383.8 583.8,385.6 580.0,387.5 577.3,389.4 574.0,389.6 571.2,391.2 569.9,394.1 567.5,396.2 565.0,400.0 567.7,402.4 571.1,403.8 573.8,406.2 576.4,407.7 578.5,409.9 581.2,411.2 581.8,415.6 581.2,420.0 580.5,423.9 578.8,427.5 580.6,430.6 582.5,433.8 584.8,436.5 587.5,438.8 586.7,442.1 586.6,445.6 585.9,449.0 586.2,452.5 587.5,456.2 588.8,460.0 588.5,463.4 590.2,466.6 590.0,470.0 590.4,474.4 590.0,478.8 586.6,479.2 583.2,479.9 579.6,479.7 576.2,480.5 573.0,479.3 569.6,478.5 566.2,477.5 562.5,477.0 558.8,477.4 555.0,477.5 551.3,479.0 547.6,480.2 543.8,481.2 541.3,483.4 539.2,485.9 537.5,488.8 538.3,492.0 537.8,495.5 538.8,498.8 542.5,501.2 539.6,502.4 537.5,504.6 535.0,506.2 534.3,509.4 533.8,512.5 531.5,514.7 528.7,516.2 526.2,518.1 523.8,520.0 520.3,521.1 517.1,523.1 513.2,523.1 510.0,525.0 507.2,526.5 504.4,528.2 501.4,529.3 498.8,531.2 496.2,533.2 493.8,535.3 491.1,537.0 489.1,539.7 486.2,541.2 484.1,543.7 482.2,546.3 480.0,548.8 477.6,551.2 475.8,554.0 474.6,557.4 472.5,560.0 470.0,561.9 467.8,564.2 465.1,565.7 462.5,567.5 459.7,569.4 457.1,571.6 455.0,574.3 452.7,576.7 450.0,578.8 447.7,580.9 444.9,582.1 442.2,583.5 440.3,586.2 437.5,587.5 435.0,589.4 433.6,592.3 431.2,594.4 428.8,596.2 429.1,599.4 428.8,602.5 426.1,604.4 423.9,606.9 421.2,608.8 417.6,610.2 413.8,611.2 410.4,611.5 407.2,612.6 403.8,612.5 401.9,615.2 401.1,618.4 399.0,620.9 397.5,623.8 393.8,625.0 390.0,622.5 386.4,624.1 382.5,625.0 381.2,627.7 379.1,630.0 377.5,632.5 376.8,636.3 376.0,640.0 375.0,643.8 375.9,646.6 376.6,649.6 377.5,652.5 378.8,656.1 379.6,659.9 380.0,663.8 379.4,667.5 379.0,671.2 378.8,675.0 379.5,678.3 379.9,681.8 381.2,685.0 380.8,688.1 380.1,691.2 380.7,694.4 380.0,697.5 378.4,700.4 377.1,703.3 375.7,706.3 375.2,709.6 373.8,712.5 371.9,716.0 369.1,718.9 367.5,722.5 368.9,725.7 368.8,729.4 370.5,732.5 369.8,735.6 370.8,738.8 370.5,741.9 370.0,745.0 370.0,748.2 371.0,751.2 371.5,754.3 371.2,757.5 367.5,757.0 363.8,757.5 360.7,760.1 357.5,762.5 355.5,764.8 354.6,767.8 352.5,770.0 351.4,773.0 349.8,775.7 348.8,778.8 352.1,779.4 355.0,781.2 358.8,783.8 354.3,783.3 350.0,782.0 346.6,782.8 343.2,783.4 340.0,785.0 336.7,786.5 334.5,789.6 331.2,791.2 330.4,795.0 329.2,798.7 328.8,802.5 325.6,805.6 322.5,808.8 318.7,809.8 315.0,811.2 311.1,809.8 307.5,807.5 304.6,805.4 302.1,802.9 300.0,800.0 297.4,797.0 295.9,793.3 293.8,790.0 292.5,786.9 291.3,783.7 289.5,780.8 288.8,777.5 287.4,774.5 286.5,771.4 286.4,768.0 285.0,765.0 284.4,761.6 283.1,758.5 280.7,755.8 280.0,752.5 278.2,749.3 278.1,745.4 276.2,742.2 275.0,738.8 274.1,735.8 272.3,733.4 271.2,730.5 270.0,727.7 268.8,725.0 266.8,722.6 265.1,719.9 262.6,717.9 261.2,715.0 259.9,712.1 258.5,709.1 256.2,706.8 255.0,703.8 253.7,701.0 252.8,698.0 251.1,695.4 250.0,692.5 248.8,689.6 248.0,686.6 247.8,683.5 246.3,680.7 246.2,677.5 245.8,673.9 244.8,670.5 243.7,667.1 242.5,663.8 241.4,660.7 239.5,658.0 237.7,655.4 236.2,652.5 234.8,649.3 233.1,646.2 232.2,642.8 230.0,640.0 228.9,636.8 226.7,634.2 226.0,630.7 224.3,627.8 222.5,625.0 221.6,621.7 220.4,618.6 218.6,615.7 217.5,612.5 217.4,609.3 216.8,606.1 215.9,603.1 215.0,600.0 214.6,596.9 213.9,593.9 212.6,591.0 212.3,587.9 211.2,585.0 209.9,581.6 209.5,578.0 209.0,574.5 207.6,571.1 207.5,567.5 206.8,564.5 206.7,561.5 206.2,558.5 205.1,555.6 205.0,552.5 205.2,548.7 204.4,545.0 203.8,541.2 202.7,538.4 202.3,535.4 201.2,532.5 201.0,529.4 200.7,526.2 200.2,523.1 200.0,520.0 200.5,515.0 202.7,512.2 203.8,508.8 202.7,505.8 201.5,502.8 200.0,500.0 199.9,496.6 199.8,493.2 198.8,490.0 197.7,486.7 198.1,483.3 197.5,480.0 197.0,476.6 195.5,473.4 195.0,470.0 195.5,466.2 196.2,462.5 191.2,461.2 190.6,464.4 189.1,467.3 187.5,470.0 188.5,473.3 189.7,476.5 190.0,480.0 188.6,483.5 186.2,486.4 185.0,490.0 182.2,491.5 179.4,493.1 176.2,494.1 173.8,496.2 170.6,497.1 167.3,497.5 164.3,498.9 161.1,499.7 158.3,501.6 155.0,502.0 151.3,500.2 147.5,498.8 145.2,496.3 142.1,494.9 140.4,491.7 137.5,490.0 134.7,487.8 132.5,485.0 129.7,482.8 127.5,480.0 125.0,477.5 122.6,474.9 119.6,472.9 117.5,470.0 115.9,467.1 113.2,465.1 111.2,462.5 112.5,457.5 115.0,459.4 117.5,461.2 120.7,460.4 123.7,459.2 126.8,458.2 130.0,457.5 133.4,456.0 136.7,454.2 140.0,452.5 141.5,449.7 143.8,447.4 145.0,444.5 147.0,442.0 143.8,444.1 140.0,445.0 137.0,446.3 133.9,447.5 130.8,448.3 127.5,448.8 124.5,447.5 121.2,447.0 118.3,445.4 115.0,445.0 112.4,442.8 109.0,441.8 106.9,438.8 103.8,437.5 103.1,433.9 100.7,431.0 100.0,427.5 96.9,426.9 93.8,427.5 93.0,424.4 92.5,421.2 95.6,419.3 98.8,417.5 101.7,418.8 105.0,418.8 105.3,414.3 106.2,410.0 110.0,410.4 113.7,411.4 117.5,411.2 121.9,410.9 126.2,410.0 130.0,412.5 133.3,411.2 136.9,410.6 140.0,408.8 143.0,408.3 145.9,407.2 148.8,406.2 150.0,410.0 153.1,408.2 156.7,407.7 160.0,406.2 159.9,403.1 160.0,400.0 158.4,396.8 156.9,393.6 156.2,390.0 154.6,386.6 152.4,383.6 151.2,380.0 151.2,376.9 151.2,373.8 147.9,373.1 144.6,373.0 141.2,372.5 140.1,369.7 139.7,366.6 138.8,363.8 141.2,358.8 140.5,354.4 140.0,350.0 137.2,348.4 134.2,347.5 131.2,346.2 127.7,344.3 123.8,343.8 125.0,339.5 125.0,335.0 127.7,332.3 129.7,328.9 132.5,326.2 134.1,322.6 137.1,319.9 138.8,316.2 141.5,314.9 143.8,313.1 146.2,311.2 149.4,312.3 152.5,313.8 155.0,317.5 158.1,316.9 161.3,317.1 164.4,316.7 167.5,316.2 170.5,315.6 173.5,314.9 176.6,314.3 179.4,312.8 182.5,312.5 183.4,309.0 185.6,306.1 186.2,302.5 188.3,300.0 189.8,297.1 190.4,293.7 192.5,291.2 196.0,288.8 200.0,287.5 201.4,284.8 203.2,282.4 205.1,280.1 206.2,277.2 208.4,275.0 210.0,272.5 210.7,269.5 212.0,266.8 214.0,264.4 215.1,261.5 216.2,258.8 220.1,257.7 223.8,256.2 228.8,255.0 228.6,251.2 228.8,247.5 231.2,245.0 233.5,242.2 236.2,240.0 237.9,236.8 240.0,233.8 243.8,230.0 243.8,227.0 243.7,224.0 242.4,221.0 242.2,218.0 242.5,215.0 243.9,210.7 244.5,206.2 247.3,204.3 250.1,202.4 252.5,200.0 255.7,198.4 259.1,197.4 262.5,196.2 265.0,193.0 261.2,192.5 257.5,191.2 254.3,189.6 250.8,188.9 247.5,187.5 246.4,184.3 245.0,181.2 242.2,179.2 238.6,178.6 235.7,176.8 232.6,175.1 229.6,173.4 226.2,172.5 224.5,170.1 222.8,167.6 221.2,165.0 220.4,162.0 221.3,159.0 219.9,156.0 219.7,153.0 220.0,150.0 219.6,147.0 219.0,144.0 218.8,141.0 217.7,138.0 217.5,135.0 219.1,132.0 220.0,128.8 222.4,126.1 225.4,124.1 228.6,122.4 231.2,120.0 231.3,116.8 232.5,113.8 229.8,111.9 227.7,109.3 225.0,107.5 224.6,104.3 223.8,101.2 220.3,100.3 216.9,99.2 213.8,97.5 210.5,95.2 207.5,92.5 204.2,91.4 200.8,91.0 197.5,90.0 195.8,87.1Z" fill="none" stroke="#7e7e7e" stroke-width="1.9" stroke-linejoin="round"/><path d="M683.7,676.2 685.5,684.1 684.4,693.1 679.9,694.2 678.3,688.6 680.6,679.5Z" fill="#dedede" stroke="#7e7e7e" stroke-width="1.3"/><path d="M676.5,694.2 682.8,696.5 683.3,707.8 679.2,710.1 676.5,705.5 676.0,698.8Z" fill="#dedede" stroke="#7e7e7e" stroke-width="1.3"/><path d="M675.4,711.2 679.2,712.3 678.3,721.4 676.5,730.4 673.8,732.7 672.4,724.7 673.1,716.8Z" fill="#dedede" stroke="#7e7e7e" stroke-width="1.3"/><path d="M684.4,710.1 686.0,714.6 685.1,720.2 683.3,718.0 682.8,713.4Z" fill="#dedede" stroke="#7e7e7e" stroke-width="1.3"/><path d="M669.3,745.1 672.4,743.5 674.2,747.3 673.3,751.9 670.2,753.0 668.4,749.6Z" fill="#dedede" stroke="#7e7e7e" stroke-width="1.3"/><path d="M693.4,808.4 698.0,807.2 698.6,814.0 691.2,814.5 692.3,811.3Z" fill="#dedede" stroke="#7e7e7e" stroke-width="1.3"/><path d="M685.5,805.0 688.2,805.6 687.8,808.4 685.5,807.7Z" fill="#dedede" stroke="#7e7e7e" stroke-width="1.3"/><circle cx="703.6" cy="710.1" r="1.3" fill="#7e7e7e"/><circle cx="665.2" cy="727.5" r="1.3" fill="#7e7e7e"/><circle cx="678.1" cy="784.6" r="1.3" fill="#7e7e7e"/><circle cx="686.7" cy="806.6" r="1.3" fill="#7e7e7e"/><circle cx="698.4" cy="800.9" r="1.3" fill="#7e7e7e"/><circle cx="695.7" cy="809.5" r="1.3" fill="#7e7e7e"/><circle cx="692.8" cy="813.6" r="1.3" fill="#7e7e7e"/><circle cx="698.2" cy="646.8" r="1.3" fill="#7e7e7e"/><circle cx="198.2" cy="751.2" r="1.3" fill="#7e7e7e"/><circle cx="222.0" cy="746.0" r="1.3" fill="#7e7e7e"/><circle cx="208.2" cy="806.2" r="1.3" fill="#7e7e7e"/></svg>
<div id="t">DNA Z93 Brahmin Gujar Gaur density interactive map</div>
</body></html>
